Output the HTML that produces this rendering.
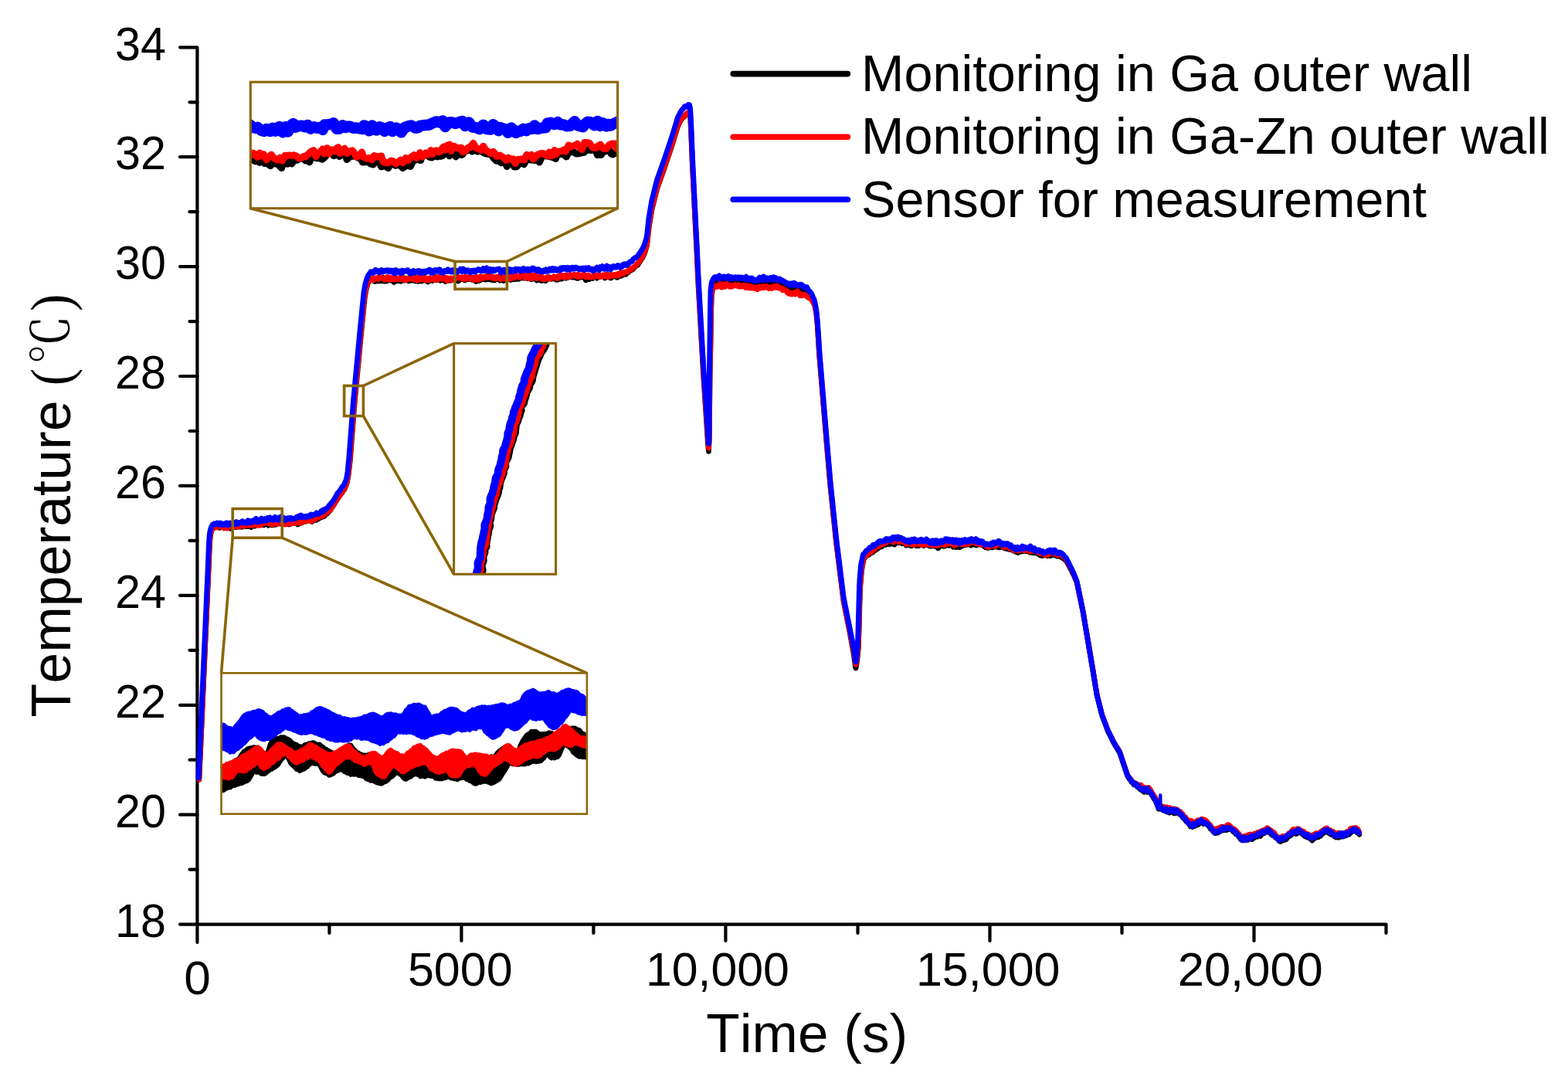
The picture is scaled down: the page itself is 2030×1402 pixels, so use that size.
<!DOCTYPE html>
<html lang="en">
<head>
<meta charset="utf-8">
<title>Temperature vs Time</title>
<style>
html,body{margin:0;padding:0;background:#fff;}
body{width:2030px;height:1402px;overflow:hidden;}
svg{display:block;}
text{font-family:"Liberation Sans","Noto Sans CJK SC",sans-serif;fill:#000;font-kerning:none;}
.s{font-family:"Liberation Serif","Noto Serif CJK SC",serif;}
.c path{fill:none;stroke-linejoin:round;stroke-linecap:round;}
</style>
</head>
<body>
<svg width="2030" height="1402" viewBox="0 0 2030 1402">
<rect width="2030" height="1402" fill="#fff"/>
<defs>
<clipPath id="ct"><rect x="325.3" y="107.2" width="473.3" height="161.5"/></clipPath>
<clipPath id="cb"><rect x="287.5" y="872.3" width="471.4" height="180.4"/></clipPath>
<clipPath id="cm"><rect x="588.6" y="445.6" width="130.0" height="296.7"/></clipPath>
</defs>
<g stroke="#000" stroke-width="4.2" fill="none" stroke-linecap="round" stroke-linejoin="round">
<path d="M233.0 61.3L255.4 61.3L255.4 1220.0"/>
<path d="M233.0 1196.6L1794.5 1196.6L1794.5 1208.0"/>
<line x1="245.5" y1="1125.6" x2="255.4" y2="1125.6"/>
<line x1="233" y1="1054.7" x2="255.4" y2="1054.7"/>
<line x1="245.5" y1="983.7" x2="255.4" y2="983.7"/>
<line x1="233" y1="912.8" x2="255.4" y2="912.8"/>
<line x1="245.5" y1="841.8" x2="255.4" y2="841.8"/>
<line x1="233" y1="770.9" x2="255.4" y2="770.9"/>
<line x1="245.5" y1="699.9" x2="255.4" y2="699.9"/>
<line x1="233" y1="628.9" x2="255.4" y2="628.9"/>
<line x1="245.5" y1="558.0" x2="255.4" y2="558.0"/>
<line x1="233" y1="487.0" x2="255.4" y2="487.0"/>
<line x1="245.5" y1="416.1" x2="255.4" y2="416.1"/>
<line x1="233" y1="345.1" x2="255.4" y2="345.1"/>
<line x1="245.5" y1="274.2" x2="255.4" y2="274.2"/>
<line x1="233" y1="203.2" x2="255.4" y2="203.2"/>
<line x1="245.5" y1="132.3" x2="255.4" y2="132.3"/>
<line x1="426.4" y1="1196.6" x2="426.4" y2="1208"/>
<line x1="597.4" y1="1196.6" x2="597.4" y2="1218"/>
<line x1="768.4" y1="1196.6" x2="768.4" y2="1208"/>
<line x1="939.4" y1="1196.6" x2="939.4" y2="1218"/>
<line x1="1110.5" y1="1196.6" x2="1110.5" y2="1208"/>
<line x1="1281.5" y1="1196.6" x2="1281.5" y2="1218"/>
<line x1="1452.5" y1="1196.6" x2="1452.5" y2="1208"/>
<line x1="1623.5" y1="1196.6" x2="1623.5" y2="1218"/>
</g>
<g font-size="62" text-anchor="end">
<text transform="translate(214.9,1212.8) scale(0.955,1)">18</text>
<text transform="translate(214.9,1070.9) scale(0.955,1)">20</text>
<text transform="translate(214.9,929.0) scale(0.955,1)">22</text>
<text transform="translate(214.9,787.1) scale(0.955,1)">24</text>
<text transform="translate(214.9,645.1) scale(0.955,1)">26</text>
<text transform="translate(214.9,503.2) scale(0.955,1)">28</text>
<text transform="translate(214.9,361.3) scale(0.955,1)">30</text>
<text transform="translate(214.9,219.4) scale(0.955,1)">32</text>
<text transform="translate(214.9,77.7) scale(0.955,1)">34</text>
</g>
<g font-size="62">
<text transform="translate(238.2,1286.6) scale(1.000,1)">0</text>
<text transform="translate(527.9,1275.5) scale(0.984,1)">5000</text>
<text transform="translate(835.9,1275.5) scale(0.981,1)">10,000</text>
<text transform="translate(1185.9,1275.5) scale(0.984,1)">15,000</text>
<text transform="translate(1524.7,1275.5) scale(0.992,1)">20,000</text>
</g>
<text x="914.3" y="1362" font-size="71.2">Time (s)</text>
<text transform="translate(90.6,928.4) rotate(-90)" font-size="71.6">Temperature <tspan class="s" x="429.2" y="0" font-size="74.3" textLength="22.4" lengthAdjust="spacingAndGlyphs">(</tspan><tspan class="s" x="456.6" y="-1.4" font-size="66.4" textLength="63.4" lengthAdjust="spacingAndGlyphs">℃</tspan><tspan class="s" x="525.3" y="0" font-size="74.3" textLength="22.4" lengthAdjust="spacingAndGlyphs">)</tspan></text>
<g class="c">
<path d="M257.9 1009L258.4 997.9L258.9 986.7L259.4 975.6L259.9 964.5L260.4 953.3L260.9 942.2L261.4 931.1L261.9 919.9L262.4 908.8L262.9 897.6L263.4 886.5L263.9 875.4L264.4 864.2L264.9 853.1L265.4 842L265.9 830.8L266.4 819.7L266.9 808.6L267.4 797.4L267.9 786.3L268.4 775.2L268.9 764L269.4 752.9L269.9 741L270.4 729.2L270.9 717.3L271.4 705.5L271.9 698.7L272.4 693.2L272.9 691.2L273.3 689.1L273.8 687L274.2 686.1L274.7 685.2L275.1 684.4L275.6 683.6L276 683.8L276.5 684L276.9 683.8L277.4 683.1L277.8 681.7L278.2 680.6L278.8 681.1L279.2 682.3L279.8 681.9L280.2 681.6L280.8 680.9L281.2 680.9L281.8 682.5L282.2 682.1L282.8 680.3L283.2 680.7L283.8 682.5L284.2 683.3L284.8 682.9L285.2 682L285.8 682L286.2 682.1L286.8 681.7L287.2 680.7L287.8 680.8L288.2 681.5L288.8 681.6L289.2 681.7L289.8 681.4L290.2 682.4L290.8 683.1L291.2 682.4L291.8 683.2L292.2 683.3L292.8 682.4L293.2 682.7L293.8 683.1L294.2 682.5L294.8 681.5L295.2 681.5L295.8 682.9L296.2 683.8L296.8 683.4L297.2 683.4L297.8 682.9L298.2 683L298.8 684.1L299.2 683.8L299.8 682.4L300.2 681.4L300.8 680.4L301.2 680.8L301.8 682.6L302.2 682.4L302.8 680.5L303.2 679.7L303.8 679.9L304.2 680.6L304.8 682L305.2 682.5L305.8 681.2L306.2 680.8L306.8 681.3L307.2 680.9L307.8 680.9L308.2 682.1L308.8 682.2L309.2 681.4L309.8 681.4L310.2 681.7L310.8 682.1L311.2 682L311.8 680.5L312.2 679.3L312.8 680.6L313.2 682.1L313.8 682.2L314.2 682.1L314.8 681.6L315.2 681.2L315.8 680.6L316.2 679L316.8 678.1L317.2 677.7L317.8 677.8L318.2 679.8L318.8 681.5L319.2 680.3L319.8 679.6L320.2 681.1L320.8 681.4L321.2 679.4L321.8 678.6L322.2 680.2L322.8 681.5L323.2 681.8L323.8 681.9L324.2 681.8L324.8 682.2L325.2 682.4L325.8 681.1L326.2 678.4L326.8 677.9L327.2 678.6L327.8 678.4L328.2 679L328.8 679.7L329.2 680.2L329.8 681.2L330.2 680.5L330.8 678L331.2 677.5L331.8 679.2L332.2 679.9L332.8 679.1L333.2 677.7L333.8 677.9L334.2 678.2L334.8 677.6L335.2 677.8L335.8 678.8L336.2 679.9L336.8 679.8L337.2 678.2L337.8 676.8L338.2 677.2L338.8 677.5L339.2 676.8L339.8 677.1L340.2 678.1L340.8 679.3L341.2 679.9L341.8 679.7L342.2 679.2L342.8 678.2L343.2 677.6L343.8 677.3L344.2 677.1L344.8 677.1L345.2 676.7L345.8 677.1L346.2 678.6L346.8 679.7L347.2 680.1L347.8 679.1L348.2 677L348.8 676.6L349.2 676.6L349.8 675.5L350.2 675.4L350.8 675.6L351.2 676.1L351.8 678.3L352.2 679.8L352.8 678.6L353.2 677.5L353.8 679L354.2 679.5L354.8 677.9L355.2 677.8L355.8 677.9L356.2 677.2L356.8 678.3L357.2 679.1L357.8 677.8L358.2 676.3L358.8 675.2L359.2 675.2L359.8 676.6L360.2 677.5L360.8 677.1L361.2 676.1L361.8 674.7L362.2 674.5L362.8 676.6L363.2 678L363.8 677.5L364.2 677.4L364.8 677.9L365.2 677.5L365.8 677.1L366.2 677.7L366.8 678.1L367.2 677.8L367.8 677.1L368.2 676.5L368.8 677.3L369.2 678.4L369.8 677.7L370.2 676.3L370.8 675.6L371.2 676.3L371.8 677.4L372.2 677.3L372.8 678L373.2 678.6L373.8 677.6L374.2 677.6L374.8 678.9L375.2 678.1L375.8 676.4L376.2 676.2L376.8 676.8L377.2 677.8L377.8 677.8L378.2 676.8L378.8 675.5L379.2 674.6L379.8 675.6L380.2 677.5L380.8 676.9L381.2 675.9L381.8 676.1L382.2 676.8L382.8 676.8L383.2 675.7L383.8 675.5L384.2 676.3L384.8 677.7L385.2 678.9L385.8 678.9L386.2 678.1L386.8 676.3L387.2 675.5L387.8 675.9L388.2 674.8L388.8 674.9L389.2 676.3L389.8 676L390.2 675.9L390.8 676.8L391.2 676.6L391.8 674.5L392.2 672.7L392.8 673L393.2 674.2L393.8 674.2L394.2 672.9L394.8 672.9L395.2 674.6L395.8 675.1L396.2 674L396.8 673.7L397.2 673.6L397.8 673.2L398.2 672.8L398.8 672.3L399.2 672.4L399.8 672.9L400.2 673.6L400.8 673.9L401.2 672.5L401.8 672.4L402.2 673.7L402.8 674.4L403.2 675.1L403.8 675.5L404.2 675.2L404.8 674L405.2 672.7L405.8 673L406.2 672.5L406.8 672L407.2 672.4L407.8 671.2L408.2 671L408.8 672.9L409.2 673.3L409.8 672.8L410.2 671.9L410.8 670.4L411.2 670.1L411.8 671.4L412.2 671.9L412.8 671L413.2 669.3L413.8 668.4L414.2 668.6L414.8 669.4L415.2 670.1L415.8 669.5L416.2 669L416.8 669.5L417.2 669.4L417.8 668.3L418.2 667.6L418.8 668.1L419.2 668.7L419.8 668.3L420.2 667.8L420.8 667.4L421.2 666.5L421.8 665.3L422.2 665.2L422.8 665.5L423.2 665.2L423.8 664.9L424.2 664.2L424.8 663.1L425.2 662.4L425.8 662L426.2 661.8L426.8 661.6L427.2 661L427.8 660.2L428.2 659.2L428.8 658.4L429.2 657.7L429.8 657L430.2 656.3L430.8 655.8L431.2 655L431.8 653.9L432.2 653.2L432.8 652.5L433.2 651.6L433.8 651L434.2 650.2L434.8 649.1L435.2 648.3L435.8 648L436.2 647.1L436.8 646L437.2 645.5L437.8 644.7L438.2 643.8L438.8 643.3L439.2 642.6L439.8 641.9L440.2 641.6L440.8 640.8L441.2 639.8L441.8 639.2L442.2 638.8L442.8 638.1L443.2 637.2L443.8 636.2L444.2 635.2L444.8 634.5L445.2 634.2L445.8 633.8L446.2 632.7L446.8 631.3L447.2 630.2L447.8 629.1L448.2 628L448.9 626.2L449.5 623.2L450.1 620.2L450.8 616.8L451.4 612L452 607.1L452.6 601.8L453.2 596.4L453.8 590L454.2 583.5L454.8 577L455.2 570.5L455.8 564.1L456.2 557.6L456.8 551.1L457.2 544.6L457.8 538.1L458.2 531.7L458.8 525.2L459.2 519.9L459.8 514.6L460.2 509.3L460.8 504L461.2 498.7L461.8 493.4L462.2 488.1L462.8 482.8L463.2 477.5L463.8 472.2L464.2 466.9L464.8 461.6L465.2 456.3L465.8 451L466.2 445.7L466.8 440.4L467.2 435.1L467.8 430L468.2 425L468.8 420L469.2 415L469.8 409.9L470.2 404.9L470.8 399.9L471.2 394.9L471.8 389.9L472.2 384.9L472.8 382.1L473.2 379.4L473.8 376.6L474.2 373.9L474.8 372.3L475.2 370.6L475.7 369L476.1 367.4L476.5 366.3L476.9 365.4L477.3 364.2L477.8 363.7L478.2 363.5L478.6 363.1L479 362.7L479.4 362.6L479.8 362.1L480.2 361.5L480.8 361.9L481.2 362.9L481.8 363L482.2 362.8L482.8 362.3L483.2 361.8L483.8 361L484.2 361.7L484.8 363.8L485.2 364.5L485.8 364.4L486.2 363.3L486.8 363L487.2 364L487.8 362.8L488.2 361.6L488.8 362.1L489.2 361.8L489.8 362.2L490.2 363.9L490.8 363.6L491.2 361.9L491.8 361.2L492.2 361.5L492.8 362.8L493.2 363.2L493.8 362.9L494.2 363.8L494.8 363.2L495.2 360.5L495.8 359.1L496.2 359.6L496.8 361.5L497.2 363.6L497.8 364.1L498.2 363.7L498.8 362.3L499.2 361.8L499.8 363.4L500.2 363.9L500.8 363.3L501.2 363.6L501.8 363.3L502.2 361.8L502.8 361L503.2 360.4L503.8 360.7L504.2 362.3L504.8 362.8L505.2 362.3L505.8 361.2L506.2 360L506.8 360.7L507.2 363.4L507.8 363.6L508.2 361.3L508.8 360.2L509.2 361.5L509.8 363.9L510.2 365.4L510.8 364.6L511.2 363.3L511.8 364.1L512.2 364.1L512.8 362L513.2 361.4L513.8 362.1L514.2 362.1L514.8 361.9L515.2 362.6L515.8 363.5L516.2 363.2L516.8 363.5L517.2 363.5L517.8 363L518.2 363.5L518.8 364.3L519.2 364.1L519.8 362.9L520.2 362L520.8 362L521.2 362.1L521.8 362.9L522.2 362.2L522.8 361.5L523.2 363L523.8 362.7L524.2 361.1L524.8 360.2L525.2 360.1L525.8 361L526.2 362.2L526.8 362.3L527.2 360.9L527.8 360.6L528.2 362.5L528.8 363.8L529.2 363.1L529.8 361.7L530.2 361.5L530.8 362.5L531.2 361.9L531.8 361.9L532.2 363.2L532.8 362.5L533.2 361.2L533.8 361.8L534.2 362.5L534.8 361L535.2 359.9L535.8 361.4L536.2 363.3L536.8 363.6L537.2 362.9L537.8 362.1L538.2 362.5L538.8 363.3L539.2 363.9L539.8 363.9L540.2 362.7L540.8 362.7L541.2 364.4L541.8 364.3L542.2 363L542.8 363.4L543.2 363L543.8 362.3L544.2 363.3L544.8 363.4L545.2 362.8L545.8 364L546.2 363.6L546.8 361.9L547.2 362.6L547.8 363.1L548.2 362L548.8 361.8L549.2 362.5L549.8 361.7L550.2 361.1L550.8 362.1L551.2 363.3L551.8 363.3L552.2 362.7L552.8 363.4L553.2 364.4L553.8 364.6L554.2 364.9L554.8 364.2L555.2 362L555.8 361L556.2 361.4L556.8 361.6L557.2 361.4L557.8 361.5L558.2 363.1L558.8 363.1L559.2 361.4L559.8 362.1L560.2 363.5L560.8 363.1L561.2 362.4L561.8 362.2L562.2 362L562.8 361.7L563.2 360L563.8 358.6L564.2 360L564.8 362.4L565.2 362.6L565.8 361.1L566.2 360.3L566.8 360.8L567.2 360.9L567.8 359.5L568.2 358.8L568.8 359.3L569.2 360.1L569.8 361.6L570.2 363.2L570.8 362.8L571.2 360.8L571.8 360.6L572.2 361.8L572.8 362.3L573.2 361.2L573.8 360.1L574.2 360.1L574.8 359.5L575.2 359.2L575.8 360.8L576.2 363.4L576.8 364.5L577.2 363.8L577.8 362.3L578.2 361.1L578.8 361.9L579.2 363.6L579.8 363.3L580.2 362.5L580.8 362.4L581.2 361.7L581.8 361.1L582.2 361.3L582.8 362.3L583.2 363.2L583.8 363L584.2 362.6L584.8 362.9L585.2 362.5L585.8 361.4L586.2 361.1L586.8 360.4L587.2 360L587.8 360.9L588.2 362L588.8 361.8L589.2 361.6L589.8 362.6L590.2 361.9L590.8 360.5L591.2 361.3L591.8 362.5L592.2 363.3L592.8 363.9L593.2 364L593.8 363.8L594.2 363.2L594.8 362.2L595.2 360.7L595.8 359.5L596.2 360.2L596.8 360.9L597.2 359.7L597.8 359.8L598.2 361.2L598.8 361.1L599.2 361.3L599.8 361.3L600.2 360.2L600.8 360.9L601.2 362.9L601.8 363L602.2 362.2L602.8 361.6L603.2 360.2L603.8 360.4L604.2 361.2L604.8 359.9L605.2 360.1L605.8 361.5L606.2 361.1L606.8 360.2L607.2 359.7L607.8 359.5L608.2 360.3L608.8 361.4L609.2 361.5L609.8 360.8L610.2 360.1L610.8 361L611.2 362.2L611.8 361.9L612.2 361.6L612.8 360.8L613.2 360.3L613.8 360.6L614.2 361.9L614.8 363.1L615.2 363.4L615.8 364.2L616.2 364.4L616.8 362.8L617.2 361.6L617.8 363.4L618.2 363.5L618.8 361.9L619.2 362.9L619.8 363.5L620.2 361.4L620.8 360.7L621.2 362.2L621.8 362.7L622.2 361.7L622.8 360.7L623.2 360.9L623.8 361.2L624.2 360.3L624.8 358.8L625.2 359L625.8 360.6L626.2 361.2L626.8 361.7L627.2 361.4L627.8 360.2L628.2 360.8L628.8 361.9L629.2 361L629.8 359L630.2 358.3L630.8 359.7L631.2 360.4L631.8 359.8L632.2 360.7L632.8 361.7L633.2 361.3L633.8 360.3L634.2 359.8L634.8 360.5L635.2 360.8L635.8 361.9L636.2 362.4L636.8 360.7L637.2 358.6L637.8 359.2L638.2 361.7L638.8 362.8L639.2 361.8L639.8 361.3L640.2 362.5L640.8 362.7L641.2 362.1L641.8 361.7L642.2 360.4L642.8 359.7L643.2 359.6L643.8 359.2L644.2 358.9L644.8 359.7L645.2 361.8L645.8 361.7L646.2 361L646.8 362.7L647.2 363.2L647.8 362L648.2 361L648.8 361L649.2 361.9L649.8 362.5L650.2 362.3L650.8 362.1L651.2 363.2L651.8 363.5L652.2 362.5L652.8 362.7L653.2 362.8L653.8 362L654.2 362.1L654.8 362.2L655.2 361.9L655.8 362.4L656.2 362.5L656.8 361.9L657.2 361.8L657.8 361.9L658.2 361.1L658.8 359.8L659.2 359.5L659.8 360.1L660.2 360.5L660.8 361.5L661.2 362.4L661.8 361.8L662.2 361.4L662.8 360.8L663.2 359L663.8 359L664.2 361L664.8 361.6L665.2 361.1L665.8 359.8L666.2 358.8L666.8 358.9L667.2 359.4L667.8 360.9L668.2 361.3L668.8 360.4L669.2 360.2L669.8 361L670.2 361.1L670.8 360.6L671.2 360.9L671.8 361.3L672.2 360.8L672.8 360.3L673.2 360L673.8 358.9L674.2 357.7L674.8 358L675.2 358L675.8 357.1L676.2 356.7L676.8 358.4L677.2 360.1L677.8 359.9L678.2 359.6L678.8 358.7L679.2 358.2L679.8 359.7L680.2 359.6L680.8 358.1L681.2 357L681.8 356.8L682.2 357.5L682.8 359.2L683.2 360.6L683.8 359.6L684.2 357.4L684.8 356.4L685.2 356.8L685.8 357.5L686.2 358.8L686.8 360.4L687.2 361.3L687.8 361.5L688.2 361.4L688.8 361.4L689.2 361.3L689.8 360.3L690.2 359.2L690.8 359L691.2 358.8L691.8 358.8L692.2 359.1L692.8 358.6L693.2 358.5L693.8 360.2L694.2 362.2L694.8 363L695.2 362L695.8 361.7L696.2 361.7L696.8 361.4L697.2 362.5L697.8 362L698.2 360L698.8 360.2L699.2 360.7L699.8 360L700.2 360.6L700.8 362.4L701.2 363.4L701.8 363.2L702.2 362L702.8 361L703.2 360.3L703.8 360.5L704.2 362.2L704.8 363L705.2 362.9L705.8 363.6L706.2 363.7L706.8 362.2L707.2 360.4L707.8 359.9L708.2 359.5L708.8 360L709.2 361.4L709.8 360.2L710.2 358.6L710.8 359.2L711.2 359.8L711.8 359.3L712.2 358.9L712.8 359.3L713.2 360.7L713.8 361.2L714.2 359.6L714.8 359.4L715.2 360.4L715.8 360.3L716.2 360.5L716.8 360.8L717.2 360.2L717.8 360.6L718.2 361L718.8 360L719.2 360.9L719.8 362.1L720.2 360.8L720.8 359.3L721.2 360L721.8 361.6L722.2 362.2L722.8 361.8L723.2 361L723.8 360.2L724.2 360L724.8 360.5L725.2 360.5L725.8 358.8L726.2 358.3L726.8 360.3L727.2 361.2L727.8 360.5L728.2 360.7L728.8 359.9L729.2 357.4L729.8 356.9L730.2 357.5L730.8 357.1L731.2 357.4L731.8 358.6L732.2 359.7L732.8 360.2L733.2 359.8L733.8 359.4L734.2 359.2L734.8 358.3L735.2 358.2L735.8 359.1L736.2 358.8L736.8 358L737.2 357.5L737.8 357.5L738.2 358.6L738.8 358.4L739.2 356.9L739.8 356.7L740.2 357.8L740.8 359.1L741.2 359.1L741.8 358.2L742.2 357.9L742.8 358L743.2 356.9L743.8 356.5L744.2 357.4L744.8 358.1L745.2 359.7L745.8 359.8L746.2 358.7L746.8 359.2L747.2 360.2L747.8 360.4L748.2 360.3L748.8 359.4L749.2 358L749.8 358.3L750.2 359.3L750.8 358.6L751.2 357.8L751.8 358.3L752.2 359.1L752.8 359.1L753.2 358.8L753.8 358.9L754.2 357.9L754.8 356.9L755.2 357L755.8 357.8L756.2 359.2L756.8 358.5L757.2 358.5L757.8 361.2L758.2 362.8L758.8 362.8L759.2 362.1L759.8 360L760.2 359.5L760.8 359.9L761.2 358.8L761.8 358.7L762.2 360.4L762.8 361.5L763.2 361.2L763.8 360.2L764.2 359.4L764.8 358.9L765.2 359.6L765.8 359.9L766.2 360.2L766.8 360.5L767.2 359.9L767.8 358.9L768.2 357.4L768.8 357L769.2 357.1L769.8 356.5L770.2 357.5L770.8 359L771.2 357.9L771.8 357.3L772.2 358.9L772.8 360.2L773.2 359.7L773.8 357.2L774.2 356.2L774.8 356.8L775.2 357.9L775.8 358.5L776.2 358L776.8 358.1L777.2 358L777.8 356.9L778.2 356.6L778.8 356.5L779.2 356.4L779.8 357L780.2 356.9L780.8 356.2L781.2 356.3L781.8 356.1L782.2 356.7L782.8 358.9L783.2 359.9L783.8 359.6L784.2 358L784.8 357.1L785.2 357.7L785.8 357.9L786.2 357.7L786.8 356.8L787.2 355.7L787.8 356.3L788.2 358.5L788.8 359L789.2 357.8L789.8 359L790.2 359.7L790.8 359.2L791.2 359.9L791.8 359.3L792.2 358.5L792.8 358.4L793.2 357L793.8 356.2L794.2 357.1L794.8 358L795.2 357.4L795.8 356.4L796.2 356.5L796.8 356.9L797.2 357.7L797.8 358.3L798.2 358.5L798.8 359.2L799.2 359.3L799.8 358L800.2 357.4L800.8 357L801.2 355.4L801.8 355.1L802.2 355.8L802.8 356.7L803.2 357.5L803.8 357.2L804.2 356.9L804.8 356.6L805.2 356L805.8 356.2L806.2 356.1L806.8 355.6L807.2 354.8L807.8 353.7L808.2 353.6L808.8 353.7L809.2 354.4L809.8 355.2L810.2 355.3L810.8 353.9L811.2 352.5L811.8 352.9L812.2 353L812.8 352.5L813.2 352.7L813.8 352L814.2 351L814.8 351.1L815.2 350.8L815.8 349.9L816.2 349.7L816.8 349.5L817.2 349.7L817.8 349.6L818.2 349.1L818.8 349L819.2 348.9L819.8 348.1L820.2 347.2L820.8 346.4L821.2 346.1L821.8 346L822.2 345.2L822.8 344.5L823.2 344.2L823.8 343.9L824.2 343.8L824.8 343.6L825.2 343.3L825.8 343.1L826.2 342.2L826.8 341L827.2 340.3L827.8 339.7L828.2 339L828.8 338.1L829.2 337.4L829.8 336.6L830.2 335.6L830.8 335L831.2 334.5L831.8 333.7L832.2 332.6L832.8 331.6L833.2 330.6L833.8 329.6L834.2 328.4L834.8 327.3L835.2 325.7L835.8 323.9L836.2 322.2L836.8 320.5L837.2 318.8L837.8 316.5L838.2 311.7L838.8 306.9L839.2 302.1L839.8 297.3L840.2 293.2L840.8 290.2L841.2 287.3L841.8 284.3L842.2 281.4L842.8 278.4L843.2 275.4L843.8 272.4L844.2 270.1L844.8 268.1L845.2 266L845.8 264L846.2 262L846.8 260L847.2 258L847.8 255.9L848.2 253.9L848.8 251.9L849.2 250L849.8 248L850.2 246.1L850.8 244.2L851.2 242.7L851.8 241.2L852.2 239.8L852.8 238.4L853.2 237.1L853.8 235.7L854.2 234.2L854.8 232.7L855.2 231.3L855.8 229.9L856.2 228.6L856.8 227.2L857.2 225.6L857.8 224.3L858.2 223L858.8 221.7L859.2 220.2L859.8 218.7L860.2 217.3L860.8 215.8L861.2 214.3L861.8 212.8L862.2 211.3L862.8 209.8L863.2 208.3L863.8 206.9L864.2 205.5L864.8 203.9L865.2 202.3L865.8 200.9L866.2 199.4L866.8 197.9L867.2 196.4L867.8 194.9L868.2 193.5L868.8 192.1L869.2 190.6L869.8 189L870.2 187.5L870.8 185.9L871.2 184.3L871.8 182.6L872.2 180.9L872.8 179.2L873.2 177.6L873.8 176L874.2 174.4L874.8 172.8L875.2 171.3L875.8 169.6L876.2 167.9L876.8 166.2L877.2 164.6L877.8 163.1L878.2 162.1L878.8 161L879.2 160L879.8 159L880.2 157.8L880.8 156.6L881.2 156L881.8 155.5L882.2 154.7L882.8 153.7L883.2 153L883.8 152.3L884.2 151.6L884.8 150.9L885.2 150.8L885.8 151.3L886.2 150.8L886.8 149.5L887.2 148.5L887.8 148.1L888.2 148.2L888.8 148.1L889.2 148L889.8 147.2L890.2 145.9L890.8 145.7L891.2 147L891.8 147.4L892.2 147L892.6 146.2L893 147.2L893.5 148.7L893.9 155L894.2 162.6L894.8 172.8L895.2 184.8L895.8 196.8L896.2 209.5L896.8 220.1L897.2 230.2L897.8 240.2L898.2 250.3L898.8 260.3L899.2 270.4L899.8 280.4L900.2 290.4L900.8 300.4L901.2 310.4L901.8 320.4L902.2 330.5L902.8 341.2L903.2 351.9L903.8 362.6L904.2 372.1L904.8 380.9L905.2 389.8L905.8 398.6L906.2 407.4L906.8 416.2L907.2 425L907.8 433.8L908.2 442.6L908.8 451.4L909.2 460.2L909.8 469L910.2 477.8L910.8 486.1L911.2 493.7L911.8 501.3L912.2 508.9L912.8 516.5L913.2 524.1L913.8 531.6L914.2 539.2L914.8 546.8L915.2 554.8L915.8 562.7L916.2 570.6L916.9 578.6L917.5 584.3L918.2 569L919.1 483.5L920 444.8L920.6 406L921.2 381.7L921.9 377.7L922.5 373.7L922.8 370.9L923.2 369.6L923.5 368.3L923.9 367.1L924.2 366.3L924.6 365.8L924.9 366L925.2 365.8L925.8 365.6L926.2 365.3L926.8 364.7L927.2 365.5L927.8 366.8L928.2 365.7L928.8 363.4L929.2 362.3L929.8 362.9L930.2 363.7L930.8 362.8L931.2 362.3L931.8 362.7L932.2 363.4L932.8 364.3L933.2 363.7L933.8 363.8L934.2 365.4L934.8 365L935.2 363.4L935.8 363.4L936.2 364.4L936.8 364.4L937.2 364.1L937.8 365.3L938.2 365.1L938.8 362.9L939.2 362L939.8 362.4L940.2 363.5L940.8 364.9L941.2 365.9L941.8 365.2L942.2 364.7L942.8 365.3L943.2 365.3L943.8 365.8L944.2 365.2L944.8 364.4L945.2 365.1L945.8 365.1L946.2 365.2L946.8 365L947.2 364.9L947.8 364.9L948.2 363.8L948.8 364.4L949.2 366L949.8 365.2L950.2 364.3L950.8 365.6L951.2 365.6L951.8 364.4L952.2 365.2L952.8 365.6L953.2 365.8L953.8 365.8L954.2 365.2L954.8 365.1L955.2 363.8L955.8 363.3L956.2 364.5L956.8 365.3L957.2 366.2L957.8 367L958.2 366.7L958.8 366L959.2 365L959.8 364.6L960.2 365.5L960.8 365.9L961.2 366.1L961.8 364.9L962.2 363.8L962.8 364.9L963.2 366L963.8 367.1L964.2 366.7L964.8 365.4L965.2 366.5L965.8 367.2L966.2 365.9L966.8 365.3L967.2 365.2L967.8 365.1L968.2 365.4L968.8 366.5L969.2 367.6L969.8 367.3L970.2 366.5L970.8 366.4L971.2 365.9L971.8 365.2L972.2 365.6L972.8 366.9L973.2 366.9L973.8 366.6L974.2 366.6L974.8 366.4L975.2 366.7L975.8 366.9L976.2 367L976.8 366.7L977.2 367.5L977.8 368.8L978.2 368.1L978.8 366.8L979.2 366.2L979.8 366.3L980.2 366.2L980.8 366.2L981.2 367.1L981.8 367.3L982.2 367.1L982.8 367.5L983.2 368.2L983.8 367.5L984.2 366.7L984.8 367.9L985.2 368L985.8 367.4L986.2 367.8L986.8 366.7L987.2 365.2L987.8 365.7L988.2 366.9L988.8 367.4L989.2 366.7L989.8 365.6L990.2 365.4L990.8 365.9L991.2 366.9L991.8 366.9L992.2 366.1L992.8 366.4L993.2 367.5L993.8 366.9L994.2 365.1L994.8 365.7L995.2 367L995.8 366.3L996.2 366L996.8 366.2L997.2 365.4L997.8 364.3L998.2 363.6L998.8 363.5L999.2 364.6L999.8 365.8L1000.2 365.7L1000.8 365.7L1001.2 366.7L1001.8 367.5L1002.2 367.4L1002.8 366.8L1003.2 366.5L1003.8 365.9L1004.2 364.8L1004.8 365.8L1005.2 367.9L1005.8 367.2L1006.2 365L1006.8 364.3L1007.2 365.1L1007.8 367.4L1008.2 368.5L1008.8 367.5L1009.2 366.4L1009.8 365.8L1010.2 366L1010.8 366.6L1011.2 367.1L1011.8 367.6L1012.2 368.8L1012.8 370.2L1013.2 369.9L1013.8 369L1014.2 369.6L1014.8 370L1015.2 370.2L1015.8 371.5L1016.2 371.6L1016.8 370.6L1017.2 370.1L1017.8 370.6L1018.2 371.7L1018.8 372.2L1019.2 372.8L1019.8 373.1L1020.2 372.9L1020.8 373.8L1021.2 374.8L1021.8 375.4L1022.2 375.8L1022.8 375.3L1023.2 375L1023.8 374.5L1024.2 373.4L1024.8 373.4L1025.2 373.6L1025.8 374.5L1026.2 375L1026.8 373.7L1027.2 372.1L1027.8 371.4L1028.2 371.1L1028.8 371.6L1029.2 372.4L1029.8 372.4L1030.2 373L1030.8 373.2L1031.2 372.3L1031.8 372.2L1032.2 372.3L1032.8 372.6L1033.2 373.8L1033.8 374.5L1034.2 374.6L1034.8 374.6L1035.2 375.2L1035.8 376.4L1036.2 376L1036.8 375.3L1037.2 375.8L1037.8 375.3L1038.2 374.7L1038.8 376.1L1039.2 376.5L1039.8 376.3L1040.2 377.3L1040.8 378.1L1041.2 377.8L1041.8 377.8L1042.2 377.8L1042.8 377.1L1043.2 376.8L1043.8 377.5L1044.2 378.3L1044.8 378.4L1045.2 378.6L1045.8 379.1L1046.2 379.3L1046.8 379.7L1047.2 380.6L1047.8 381.6L1048.2 382.1L1048.8 382.4L1049.2 383.1L1049.8 384L1050.2 384.6L1050.8 385L1051.2 385.9L1051.8 387.1L1052.2 388.3L1052.8 389.5L1053.2 390.8L1053.8 392L1054.2 393.1L1054.8 394.3L1055.2 396.8L1055.8 399.4L1056.2 401.9L1056.7 404.4L1057.1 407.9L1057.6 412.7L1058 417.5L1058.4 422.8L1058.9 430L1059.3 437.2L1059.8 444.4L1060.2 452.3L1060.8 460.2L1061.2 466.1L1061.8 472.1L1062.2 478.1L1062.8 484.2L1063.2 490.2L1063.8 496.3L1064.2 502.3L1064.8 508.3L1065.2 514.4L1065.8 520.4L1066.2 526.4L1066.8 532.4L1067.2 538.4L1067.8 544.5L1068.2 550.5L1068.8 556.5L1069.2 562.5L1069.8 568.5L1070.2 574.5L1070.8 580.3L1071.2 586.1L1071.8 591.9L1072.2 597.7L1072.8 603.5L1073.2 609.3L1073.8 615.1L1074.2 620.9L1074.8 626.7L1075.2 631.9L1075.8 636.7L1076.2 641.5L1076.8 646.3L1077.2 651.1L1077.8 655.9L1078.2 660.7L1078.8 665.5L1079.2 670.3L1079.8 675.1L1080.2 679.9L1080.8 684.7L1081.2 689.5L1081.8 694.3L1082.2 699.1L1082.8 703.4L1083.2 707.4L1083.8 711.4L1084.2 715.4L1084.8 719.4L1085.2 723.5L1085.8 727.5L1086.2 731.5L1086.8 735.5L1087.2 739.5L1087.8 743.5L1088.2 747.5L1088.8 751.5L1089.2 755.5L1089.8 759.5L1090.2 763.6L1090.8 767.6L1091.2 771.6L1091.8 775.6L1092.2 779L1092.8 781.5L1093.2 784L1093.8 786.5L1094.2 789L1094.8 791.5L1095.2 794L1095.8 796.5L1096.2 799L1096.8 801.5L1097.2 804L1097.8 806.5L1098.2 809L1098.8 811.5L1099.2 814L1099.8 816.5L1100.2 819.3L1100.8 822.1L1101.2 824.8L1101.8 827.6L1102.2 830.3L1102.8 833.1L1103.2 835.8L1103.8 838.6L1104.2 841.3L1104.8 844.1L1105.2 846.8L1105.8 850.2L1106.3 854.5L1106.9 858.7L1107.4 863L1108 864.8L1108.8 860.2L1109.6 855.3L1110.2 850L1110.7 844.7L1111.3 839.4L1111.8 822.7L1112.4 803.3L1112.9 783.8L1113.5 764.6L1114 755.9L1114.6 749.9L1115.1 743.8L1115.6 737.8L1116 735.5L1116.4 733.2L1116.8 731L1117.3 728.7L1117.7 726.5L1118.1 724.4L1118.5 723.7L1119 723.1L1119.4 722.6L1119.8 721.8L1120.2 720.7L1120.8 719.9L1121.2 719.4L1121.8 719.2L1122.2 719.3L1122.8 718.9L1123.2 718.6L1123.8 718.5L1124.2 718.2L1124.8 718.4L1125.2 718L1125.8 717L1126.2 716.7L1126.8 716.5L1127.2 715.9L1127.8 714.8L1128.2 714.3L1128.8 714.6L1129.2 715.2L1129.8 715.3L1130.2 714.1L1130.8 712.4L1131.2 711.4L1131.8 711.2L1132.2 711.7L1132.8 712.6L1133.2 712.3L1133.8 711.3L1134.2 711.3L1134.8 711.4L1135.2 710.5L1135.8 709L1136.2 708.4L1136.8 709.1L1137.2 709.6L1137.8 708.6L1138.2 707.2L1138.8 707.4L1139.2 708.1L1139.8 707.5L1140.2 706.8L1140.8 707.8L1141.2 707.9L1141.8 705.9L1142.2 705.2L1142.8 705.7L1143.2 705.5L1143.8 704.6L1144.2 703.7L1144.8 703.1L1145.2 703.4L1145.8 704.8L1146.2 705.4L1146.8 703.7L1147.2 703.1L1147.8 704L1148.2 704.7L1148.8 704L1149.2 702.5L1149.8 702.3L1150.2 703L1150.8 703.6L1151.2 704.1L1151.8 704.6L1152.2 703.9L1152.8 702.4L1153.2 702.6L1153.8 703L1154.2 701.9L1154.8 700.8L1155.2 701.6L1155.8 704.2L1156.2 704.1L1156.8 701L1157.2 700.8L1157.8 703.5L1158.2 704.9L1158.8 703.8L1159.2 702.7L1159.8 702.2L1160.2 701.3L1160.8 700.5L1161.2 699.9L1161.8 699.7L1162.2 700.7L1162.8 702.4L1163.2 702.8L1163.8 702.4L1164.2 701.4L1164.8 699.9L1165.2 699.4L1165.8 700L1166.2 701L1166.8 701.9L1167.2 703.1L1167.8 703.7L1168.2 702.6L1168.8 701.9L1169.2 701.7L1169.8 702.6L1170.2 703.6L1170.8 702.4L1171.2 701.5L1171.8 702.4L1172.2 703.9L1172.8 705L1173.2 706.1L1173.8 705.8L1174.2 704.8L1174.8 705L1175.2 704.7L1175.8 703.6L1176.2 704.2L1176.8 705.5L1177.2 704.8L1177.8 704.6L1178.2 705.9L1178.8 706.3L1179.2 706L1179.8 706.1L1180.2 706.7L1180.8 706.1L1181.2 705L1181.8 704.3L1182.2 703.5L1182.8 703.1L1183.2 703.4L1183.8 703.6L1184.2 703.7L1184.8 705.2L1185.2 706.2L1185.8 705.5L1186.2 705.3L1186.8 706.2L1187.2 706.6L1187.8 705.9L1188.2 704.4L1188.8 704.3L1189.2 706L1189.8 706.4L1190.2 705.7L1190.8 704.7L1191.2 703.4L1191.8 703.4L1192.2 704.2L1192.8 704.4L1193.2 703.9L1193.8 703.4L1194.2 703.8L1194.8 704.4L1195.2 705.5L1195.8 706.5L1196.2 705.8L1196.8 704.7L1197.2 704.9L1197.8 705L1198.2 704.7L1198.8 705.1L1199.2 705.4L1199.8 705.4L1200.2 705.3L1200.8 704.6L1201.2 704L1201.8 704.9L1202.2 706.2L1202.8 706L1203.2 706.1L1203.8 706.8L1204.2 706.1L1204.8 706.1L1205.2 707.1L1205.8 706.3L1206.2 705L1206.8 704.7L1207.2 705L1207.8 705.9L1208.2 706.6L1208.8 706.6L1209.2 706.2L1209.8 706.4L1210.2 707.3L1210.8 707.3L1211.2 706.5L1211.8 706.6L1212.2 707L1212.8 706.7L1213.2 707L1213.8 708.6L1214.2 709.7L1214.8 709.6L1215.2 709L1215.8 707.6L1216.2 705.7L1216.8 704.2L1217.2 703.8L1217.8 704.1L1218.2 704.2L1218.8 704.9L1219.2 706.1L1219.8 705.7L1220.2 705.7L1220.8 706.9L1221.2 706.3L1221.8 704.7L1222.2 705.2L1222.8 707.1L1223.2 706.9L1223.8 705.2L1224.2 706L1224.8 706.3L1225.2 704.4L1225.8 703.3L1226.2 703.3L1226.8 703.7L1227.2 704.7L1227.8 706.1L1228.2 706.3L1228.8 706.3L1229.2 706.2L1229.8 704.8L1230.2 703L1230.8 702.9L1231.2 703.5L1231.8 703.2L1232.2 702.9L1232.8 703.8L1233.2 705.9L1233.8 707.7L1234.2 708.1L1234.8 707.5L1235.2 706.2L1235.8 706L1236.2 706.8L1236.8 706.7L1237.2 707.2L1237.8 708.4L1238.2 708.6L1238.8 707.6L1239.2 706.2L1239.8 705.4L1240.2 706.1L1240.8 706.7L1241.2 706.5L1241.8 707.5L1242.2 708.6L1242.8 708.5L1243.2 707.9L1243.8 706.4L1244.2 705.9L1244.8 707.2L1245.2 706.6L1245.8 704.2L1246.2 704.2L1246.8 706L1247.2 706.2L1247.8 705.6L1248.2 705L1248.8 703.7L1249.2 703.3L1249.8 703.7L1250.2 704.6L1250.8 705.5L1251.2 705.1L1251.8 704.6L1252.2 704.6L1252.8 705L1253.2 704.2L1253.8 702.6L1254.2 703.1L1254.8 704L1255.2 703L1255.8 701.6L1256.2 702.5L1256.8 705L1257.2 706L1257.8 705.3L1258.2 703.5L1258.8 702.4L1259.2 704.1L1259.8 704.7L1260.2 703L1260.8 702.2L1261.2 702.4L1261.8 703.7L1262.2 705.5L1262.8 705.5L1263.2 704.9L1263.8 705.9L1264.2 706L1264.8 703.7L1265.2 701.9L1265.8 701.8L1266.2 702.4L1266.8 703.7L1267.2 705.1L1267.8 705.2L1268.2 704.4L1268.8 704.2L1269.2 704.9L1269.8 704.8L1270.2 703.6L1270.8 703.4L1271.2 703.9L1271.8 705L1272.2 706.2L1272.8 706.6L1273.2 706.6L1273.8 706.3L1274.2 706.2L1274.8 706.4L1275.2 707.7L1275.8 708.7L1276.2 707.4L1276.8 706.9L1277.2 707.7L1277.8 707.6L1278.2 708.5L1278.8 709.4L1279.2 708.7L1279.8 708.1L1280.2 708.3L1280.8 708.9L1281.2 708.3L1281.8 707.5L1282.2 707.4L1282.8 707.2L1283.2 708L1283.8 708L1284.2 707.8L1284.8 708.8L1285.2 708.8L1285.8 707.4L1286.2 707.1L1286.8 707.3L1287.2 707.2L1287.8 707.2L1288.2 706.1L1288.8 705.4L1289.2 706.9L1289.8 708L1290.2 707.1L1290.8 705.2L1291.2 704.5L1291.8 706.2L1292.2 707.9L1292.8 708.1L1293.2 708.9L1293.8 708.9L1294.2 707L1294.8 705.9L1295.2 705.5L1295.8 705.7L1296.2 707.3L1296.8 708.2L1297.2 708.3L1297.8 708L1298.2 706.5L1298.8 705.9L1299.2 707.3L1299.8 709.3L1300.2 709.6L1300.8 708.3L1301.2 708.7L1301.8 710L1302.2 709.1L1302.8 707.8L1303.2 709L1303.8 710.5L1304.2 709.7L1304.8 708.6L1305.2 708.6L1305.8 708.7L1306.2 709.8L1306.8 711.3L1307.2 710.7L1307.8 709.6L1308.2 710.1L1308.8 710.2L1309.2 709.9L1309.8 710.8L1310.2 711.9L1310.8 712L1311.2 712.5L1311.8 712.9L1312.2 712.8L1312.8 713L1313.2 712.7L1313.8 713.6L1314.2 714.1L1314.8 713.3L1315.2 713.1L1315.8 713.6L1316.2 713.7L1316.8 713L1317.2 714L1317.8 715.5L1318.2 715.3L1318.8 714.3L1319.2 713L1319.8 712.2L1320.2 712.8L1320.8 714.5L1321.2 714.4L1321.8 713.1L1322.2 712.9L1322.8 713.2L1323.2 713.6L1323.8 712.6L1324.2 712.4L1324.8 713.4L1325.2 712.6L1325.8 711.8L1326.2 712.5L1326.8 713.5L1327.2 712.6L1327.8 710.7L1328.2 711.3L1328.8 713.6L1329.2 713.7L1329.8 712.3L1330.2 712L1330.8 711.5L1331.2 710.7L1331.8 710.8L1332.2 711.5L1332.8 713.6L1333.2 715.3L1333.8 714.8L1334.2 714.1L1334.8 714L1335.2 713.6L1335.8 714.6L1336.2 715.5L1336.8 714.6L1337.2 714.8L1337.8 715.8L1338.2 715.7L1338.8 714.4L1339.2 713L1339.8 713.4L1340.2 715.4L1340.8 716L1341.2 714.4L1341.8 713.9L1342.2 715.3L1342.8 716.1L1343.2 715L1343.8 715.2L1344.2 716.9L1344.8 717.5L1345.2 716.9L1345.8 717.6L1346.2 718.7L1346.8 719L1347.2 718.5L1347.8 717.7L1348.2 717.9L1348.8 718.7L1349.2 719.6L1349.8 719.6L1350.2 718.5L1350.8 718.2L1351.2 718.4L1351.8 718.3L1352.2 717.8L1352.8 717.5L1353.2 717.7L1353.8 718.2L1354.2 718.8L1354.8 719.1L1355.2 718.7L1355.8 719.2L1356.2 719.7L1356.8 719.1L1357.2 719L1357.8 718.3L1358.2 716.9L1358.8 717.5L1359.2 719L1359.8 719.6L1360.2 719.5L1360.8 718.4L1361.2 718.2L1361.8 718.4L1362.2 717.4L1362.8 717.7L1363.2 718.4L1363.8 716.8L1364.2 715.7L1364.8 715.8L1365.2 715.8L1365.8 716.6L1366.2 718.3L1366.8 719.2L1367.2 718.5L1367.8 718.1L1368.2 719.2L1368.8 720L1369.2 719.7L1369.8 719.5L1370.2 719.1L1370.8 719L1371.2 720.1L1371.8 720.1L1372.2 719.4L1372.8 719.8L1373.2 719.6L1373.8 720L1374.2 721.6L1374.8 722L1375.2 722L1375.8 722.5L1376.2 722.4L1376.8 722.3L1377.2 723.4L1377.8 724L1378.2 723.6L1378.8 724.1L1379.2 724.7L1379.8 724.8L1380.2 725.5L1380.8 726.6L1381.2 727.7L1381.8 728.6L1382.2 729.3L1382.8 730.2L1383.2 731.2L1383.8 732L1384.2 733L1384.8 734L1385.2 734.9L1385.8 736L1386.2 737.1L1386.8 737.8L1387.2 738.7L1387.8 739.7L1388.2 740.9L1388.8 742L1389.2 743L1389.8 743.9L1390.2 744.7L1390.8 745.8L1391.2 747.2L1391.8 748.5L1392.2 749.7L1392.8 750.9L1393.2 752L1393.8 753.3L1394.2 754.5L1394.8 756.8L1395.2 759.2L1395.8 761.6L1396.2 764L1396.8 766.4L1397.2 768.8L1397.8 771.2L1398.2 773.5L1398.8 775.8L1399.2 778.2L1399.8 780.6L1400.2 783L1400.8 785.5L1401.2 787.9L1401.8 790.4L1402.2 792.8L1402.8 795.8L1403.2 798.8L1403.8 801.7L1404.2 804.7L1404.8 807.7L1405.2 810.6L1405.8 813.6L1406.2 816.6L1406.8 819.5L1407.2 822.5L1407.8 825.5L1408.2 828.4L1408.8 831.3L1409.2 834.3L1409.8 837.3L1410.2 840.3L1410.8 843.2L1411.2 846.2L1411.8 849.1L1412.2 852.1L1412.8 855L1413.2 858L1413.8 860.9L1414.2 863.9L1414.8 866.8L1415.2 869.8L1415.8 872.9L1416.2 876L1416.8 879.1L1417.2 882.2L1417.8 885.3L1418.2 888.3L1418.8 891.4L1419.2 894.4L1419.8 897.5L1420.2 900.5L1420.8 902.5L1421.2 904.6L1421.8 906.5L1422.2 908.4L1422.8 910.4L1423.2 912.4L1423.8 914.5L1424.2 916.4L1424.8 918.3L1425.2 920.3L1425.8 922.3L1426.2 924.4L1426.8 926.3L1427.2 927.6L1427.8 928.9L1428.2 930.3L1428.8 931.6L1429.2 932.9L1429.8 934.3L1430.2 935.7L1430.8 936.8L1431.2 938L1431.8 939.3L1432.2 940.7L1432.8 942.2L1433.2 943.6L1433.8 945L1434.2 946.3L1434.8 947.5L1435.2 948.5L1435.8 949.5L1436.2 950.4L1436.8 951.1L1437.2 952.1L1437.8 953.4L1438.2 954.5L1438.8 955.3L1439.2 956.3L1439.8 957.4L1440.2 958.4L1440.8 959.5L1441.2 960.5L1441.8 961.3L1442.2 962.2L1442.8 963.3L1443.2 964.1L1443.8 964.9L1444.2 965.9L1444.8 966.5L1445.2 967L1445.8 968.1L1446.2 969.1L1446.8 969.8L1447.2 970.4L1447.8 971.4L1448.2 972.4L1448.8 973.1L1449.2 973.9L1449.8 974.9L1450.2 976.3L1450.8 977.6L1451.2 979.1L1451.8 980.7L1452.2 982.2L1452.8 983.6L1453.2 985.1L1453.8 986.6L1454.2 988.1L1454.8 989.5L1455.2 991.1L1455.8 992.6L1456.2 994L1456.8 995.6L1457.2 997.1L1457.8 998.5L1458.2 999.9L1458.8 1001.3L1459.2 1003L1459.8 1004.5L1460.2 1005.7L1460.8 1006.2L1461.2 1006.9L1461.8 1007.9L1462.2 1008.7L1462.8 1008.9L1463.2 1009.1L1463.8 1009.8L1464.2 1010.9L1464.8 1012L1465.2 1012.6L1465.8 1013.1L1466.2 1013.4L1466.8 1013.6L1467.2 1014.5L1467.8 1015.7L1468.2 1015.8L1468.8 1015.8L1469.2 1015.9L1469.8 1015.6L1470.2 1015.7L1470.8 1015.9L1471.2 1016L1471.8 1017.2L1472.2 1018.5L1472.8 1018.4L1473.2 1018.6L1473.8 1019.5L1474.2 1019.5L1474.8 1019.4L1475.2 1019.2L1475.8 1019.7L1476.2 1021.8L1476.8 1022.2L1477.2 1021.5L1477.8 1022.4L1478.2 1023.2L1478.8 1023.4L1479.2 1023.3L1479.8 1023.3L1480.2 1023.1L1480.8 1023.8L1481.2 1025.4L1481.8 1024.6L1482.2 1022.7L1482.8 1022.9L1483.2 1023.7L1483.8 1023.3L1484.2 1022.9L1484.8 1023.1L1485.2 1024.6L1485.8 1025.5L1486.2 1025.3L1486.8 1024.8L1487.2 1023.8L1487.8 1023.5L1488.2 1024.3L1488.8 1025.5L1489.2 1026.3L1489.8 1026.8L1490.2 1027.4L1490.8 1028.2L1491.2 1029.4L1491.8 1030.2L1492.2 1030.6L1492.8 1031.3L1493.2 1032.5L1493.8 1033.6L1494.2 1034.3L1494.8 1034.9L1495.2 1035.3L1495.8 1035.9L1496.2 1037.2L1496.8 1038.6L1497.2 1039.8L1497.8 1041L1498.2 1042.2L1498.8 1043.4L1499.2 1044.7L1499.8 1046.4L1500.2 1047.3L1500.8 1047.1L1501.2 1046.6L1501.8 1046.4L1502.2 1046.9L1502.8 1046.6L1503.2 1046.7L1503.8 1047.7L1504.2 1048.2L1504.8 1048.2L1505.2 1048.2L1505.8 1048.8L1506.2 1049.2L1506.8 1048.9L1507.2 1048.3L1507.8 1048.2L1508.2 1048.1L1508.8 1047.4L1509.2 1047.3L1509.8 1048.7L1510.2 1050.8L1510.8 1051L1511.2 1049.8L1511.8 1049L1512.2 1049.1L1512.8 1049.6L1513.2 1050.6L1513.8 1051.5L1514.2 1052.1L1514.8 1051L1515.2 1049.6L1515.8 1051L1516.2 1051.4L1516.8 1050.1L1517.2 1050.8L1517.8 1051.8L1518.2 1050.6L1518.8 1050.3L1519.2 1052.1L1519.8 1052.8L1520.2 1050.9L1520.8 1049L1521.2 1049.9L1521.8 1052.6L1522.2 1052.4L1522.8 1050L1523.2 1049.4L1523.8 1050.7L1524.2 1052.1L1524.8 1052.5L1525.2 1052.2L1525.8 1052.5L1526.2 1053.4L1526.8 1053.8L1527.2 1054L1527.8 1054.4L1528.2 1054.2L1528.8 1054.3L1529.2 1055.1L1529.8 1055.8L1530.2 1056.2L1530.8 1057.1L1531.2 1058.2L1531.8 1058.9L1532.2 1059.2L1532.8 1059.7L1533.2 1060.2L1533.8 1060.7L1534.2 1060.9L1534.8 1061.4L1535.2 1062.6L1535.8 1063.4L1536.2 1063.4L1536.8 1063.5L1537.2 1064L1537.8 1064.8L1538.2 1065.2L1538.8 1065.8L1539.2 1067L1539.8 1067.5L1540.2 1067.3L1540.8 1068.4L1541.2 1069.8L1541.8 1069.4L1542.2 1067.9L1542.8 1067.9L1543.2 1069.3L1543.8 1070.5L1544.2 1070L1544.8 1068.2L1545.2 1067.2L1545.8 1068.4L1546.2 1069.6L1546.8 1069L1547.2 1067.8L1547.8 1067.4L1548.2 1068L1548.8 1068.3L1549.2 1067.9L1549.8 1067.5L1550.2 1067.5L1550.8 1067.7L1551.2 1066.9L1551.8 1066.2L1552.2 1066.4L1552.8 1066.2L1553.2 1065.2L1553.8 1064.6L1554.2 1065.2L1554.8 1065L1555.2 1063.5L1555.8 1063.6L1556.2 1064.8L1556.8 1064.4L1557.2 1064.4L1557.8 1066L1558.2 1066.6L1558.8 1065.8L1559.2 1065.8L1559.8 1066L1560.2 1065.2L1560.8 1064.7L1561.2 1065.6L1561.8 1066.8L1562.2 1066.6L1562.8 1066.9L1563.2 1067.8L1563.8 1068L1564.2 1068.2L1564.8 1069.1L1565.2 1070.1L1565.8 1070.5L1566.2 1070.9L1566.8 1072.1L1567.2 1072.9L1567.8 1073.3L1568.2 1073.6L1568.8 1073.6L1569.2 1074L1569.8 1075.2L1570.2 1076.1L1570.8 1076.1L1571.2 1075.9L1571.8 1076.4L1572.2 1077.7L1572.8 1078.2L1573.2 1078.7L1573.8 1078.3L1574.2 1077.8L1574.8 1077.9L1575.2 1077.1L1575.8 1077.5L1576.2 1078.3L1576.8 1077.6L1577.2 1076.8L1577.8 1076.1L1578.2 1076L1578.8 1076.8L1579.2 1076.2L1579.8 1075.2L1580.2 1075.1L1580.8 1074.4L1581.2 1074.3L1581.8 1075L1582.2 1075L1582.8 1074.3L1583.2 1073.5L1583.8 1074.1L1584.2 1074.5L1584.8 1074L1585.2 1074.6L1585.8 1074.3L1586.2 1072.4L1586.8 1072.1L1587.2 1073.7L1587.8 1074.6L1588.2 1074.4L1588.8 1073.5L1589.2 1071.8L1589.8 1071.1L1590.2 1071.3L1590.8 1071.5L1591.2 1072.7L1591.8 1073.3L1592.2 1072.4L1592.8 1071.8L1593.2 1072.5L1593.8 1073.4L1594.2 1073.2L1594.8 1073.3L1595.2 1074.6L1595.8 1075.6L1596.2 1076L1596.8 1076.6L1597.2 1077L1597.8 1077L1598.2 1076.6L1598.8 1076.5L1599.2 1077.4L1599.8 1078.9L1600.2 1079.9L1600.8 1080L1601.2 1079.8L1601.8 1080.1L1602.2 1080.9L1602.8 1081.6L1603.2 1082.4L1603.8 1083L1604.2 1083.2L1604.8 1083.8L1605.2 1084.8L1605.8 1085.8L1606.2 1086.7L1606.8 1087L1607.2 1086.5L1607.8 1086.5L1608.2 1087.2L1608.8 1087.7L1609.2 1086.8L1609.8 1086.2L1610.2 1086.5L1610.8 1086.8L1611.2 1087.4L1611.8 1087.9L1612.2 1087.7L1612.8 1087.1L1613.2 1087.3L1613.8 1087.4L1614.2 1085.7L1614.8 1085.5L1615.2 1087L1615.8 1087.3L1616.2 1087L1616.8 1086.6L1617.2 1086.2L1617.8 1086.3L1618.2 1085.8L1618.8 1084.3L1619.2 1083.5L1619.8 1083.9L1620.2 1084.7L1620.8 1086.2L1621.2 1086.4L1621.8 1084.9L1622.2 1083.6L1622.8 1083.8L1623.2 1084.9L1623.8 1084.6L1624.2 1083.2L1624.8 1082.1L1625.2 1081.8L1625.8 1082.2L1626.2 1082.5L1626.8 1082.2L1627.2 1082.8L1627.8 1083.2L1628.2 1081.8L1628.8 1081L1629.2 1081.4L1629.8 1082L1630.2 1082.1L1630.8 1081.5L1631.2 1081.6L1631.8 1082.3L1632.2 1081.7L1632.8 1080.3L1633.2 1080.2L1633.8 1080.2L1634.2 1079.3L1634.8 1078.9L1635.2 1078.3L1635.8 1077.9L1636.2 1078L1636.8 1078.6L1637.2 1078.6L1637.8 1077.3L1638.2 1076.9L1638.8 1077.1L1639.2 1076.3L1639.8 1075.1L1640.2 1074.5L1640.8 1074.2L1641.2 1074.5L1641.8 1075.8L1642.2 1076.9L1642.8 1077.5L1643.2 1077.6L1643.8 1077.1L1644.2 1077.3L1644.8 1078.4L1645.2 1079.2L1645.8 1079.8L1646.2 1080.4L1646.8 1080.9L1647.2 1081.4L1647.8 1081.5L1648.2 1081.2L1648.8 1081.3L1649.2 1081.9L1649.8 1082.5L1650.2 1082.7L1650.8 1083.1L1651.2 1083.9L1651.8 1084.3L1652.2 1084.5L1652.8 1085.2L1653.2 1085.5L1653.8 1085.4L1654.2 1086.1L1654.8 1087L1655.2 1087.5L1655.8 1088.5L1656.2 1088.4L1656.8 1087.4L1657.2 1088.2L1657.8 1089.4L1658.2 1088.7L1658.8 1087.2L1659.2 1087.4L1659.8 1088.2L1660.2 1087.7L1660.8 1086.8L1661.2 1086L1661.8 1086.8L1662.2 1087.7L1662.8 1086.8L1663.2 1086.2L1663.8 1086.7L1664.2 1087L1664.8 1086.8L1665.2 1086.2L1665.8 1085.8L1666.2 1085.1L1666.8 1084.1L1667.2 1083.6L1667.8 1083.3L1668.2 1082.7L1668.8 1081.7L1669.2 1081.4L1669.8 1081.9L1670.2 1082.1L1670.8 1081.3L1671.2 1080L1671.8 1079L1672.2 1079L1672.8 1080L1673.2 1080.1L1673.8 1078.2L1674.2 1077.5L1674.8 1078L1675.2 1077.4L1675.8 1076.7L1676.2 1076.8L1676.8 1077.6L1677.2 1078.1L1677.8 1079.2L1678.2 1079.4L1678.8 1077.8L1679.2 1076.9L1679.8 1076.5L1680.2 1076.2L1680.8 1077.3L1681.2 1077.8L1681.8 1077L1682.2 1076.5L1682.8 1076.5L1683.2 1077.3L1683.8 1077.9L1684.2 1077.3L1684.8 1077.7L1685.2 1079L1685.8 1079.6L1686.2 1079.9L1686.8 1080.4L1687.2 1080.8L1687.8 1081L1688.2 1081.1L1688.8 1081.8L1689.2 1082.7L1689.8 1082.8L1690.2 1082.2L1690.8 1082L1691.2 1083.2L1691.8 1083.6L1692.2 1083.1L1692.8 1083.8L1693.2 1084.3L1693.8 1084.3L1694.2 1084.3L1694.8 1084.8L1695.2 1084.5L1695.8 1084L1696.2 1084L1696.8 1084.5L1697.2 1086.1L1697.8 1087.1L1698.2 1087.4L1698.8 1088L1699.2 1087.1L1699.8 1085.7L1700.2 1085.8L1700.8 1085L1701.2 1083.5L1701.8 1084.1L1702.2 1085.3L1702.8 1085L1703.2 1084.2L1703.8 1084.3L1704.2 1083.8L1704.8 1083L1705.2 1082.9L1705.8 1082.9L1706.2 1083.2L1706.8 1083.6L1707.2 1083.4L1707.8 1082.1L1708.2 1080.5L1708.8 1080.4L1709.2 1081.6L1709.8 1082.1L1710.2 1081.3L1710.8 1080.7L1711.2 1080.1L1711.8 1079.1L1712.2 1078.9L1712.8 1078.8L1713.2 1078.5L1713.8 1078.4L1714.2 1077.8L1714.8 1076.9L1715.2 1077L1715.8 1077.2L1716.2 1076L1716.8 1075.3L1717.2 1076.2L1717.8 1076L1718.2 1075.9L1718.8 1077.4L1719.2 1077.5L1719.8 1076.4L1720.2 1076.7L1720.8 1078.4L1721.2 1079L1721.8 1078.3L1722.2 1078.1L1722.8 1079.1L1723.2 1080.3L1723.8 1080.5L1724.2 1080.4L1724.8 1080.7L1725.2 1080.9L1725.8 1081.1L1726.2 1080.6L1726.8 1080.4L1727.2 1081.6L1727.8 1083.1L1728.2 1083.3L1728.8 1082.8L1729.2 1083.4L1729.8 1084L1730.2 1083.9L1730.8 1083.5L1731.2 1083.5L1731.8 1083.3L1732.2 1082.2L1732.8 1082.5L1733.2 1084.2L1733.8 1083.4L1734.2 1082.2L1734.8 1082.4L1735.2 1082.2L1735.8 1082.6L1736.2 1083.1L1736.8 1082.4L1737.2 1081.6L1737.8 1081.2L1738.2 1081.7L1738.8 1082.6L1739.2 1082.9L1739.8 1082.5L1740.2 1081.2L1740.8 1081L1741.2 1081.6L1741.8 1080.6L1742.2 1080.7L1742.8 1081.7L1743.2 1081.2L1743.8 1080.4L1744.2 1079.8L1744.8 1079.1L1745.2 1079.6L1745.8 1080.3L1746.2 1080.3L1746.8 1080.1L1747.2 1079.1L1747.8 1077.8L1748.2 1077.5L1748.8 1077.9L1749.2 1077.4L1749.8 1077.1L1750.2 1077L1750.8 1076.5L1751.2 1075.4L1751.8 1075.2L1752.2 1076L1752.8 1075.9L1753.2 1075.4L1753.8 1075.1L1754.2 1074.9L1754.8 1074.4L1755.2 1074.1L1755.8 1074.1L1756.2 1075.1L1756.8 1076.9L1757.2 1078L1757.8 1078.1L1758.2 1077.7L1758.8 1077.8L1759.2 1079.3L1759.8 1080.3" stroke="#000" stroke-width="6.8"/>
<path d="M257.7 1009L258.2 997.9L258.7 986.7L259.2 975.6L259.7 964.5L260.2 953.3L260.7 942.2L261.2 931.1L261.7 919.9L262.2 908.8L262.7 897.6L263.2 886.5L263.7 875.4L264.2 864.2L264.7 853.1L265.2 842L265.7 830.8L266.2 819.7L266.7 808.6L267.2 797.4L267.7 786.3L268.2 775.2L268.7 764L269.2 752.9L269.7 741L270.2 729.2L270.7 717.3L271.2 705.4L271.7 698.7L272.2 693.2L272.7 691.1L273.2 689L273.6 686.8L274.1 685.9L274.5 685.1L275 684.5L275.4 684.1L275.9 684L276.4 683.2L276.8 682.8L277.3 682.8L277.7 681.5L278.2 681.1L278.7 682.3L279.2 682.3L279.7 680.7L280.2 680.7L280.7 682.4L281.2 682.9L281.7 681.6L282.2 680.9L282.7 681.1L283.2 680.6L283.7 680.8L284.2 681.4L284.7 680.5L285.2 679.2L285.7 679.4L286.2 681L286.7 681.6L287.2 681.9L287.7 682.8L288.2 682.1L288.7 681.8L289.2 683.2L289.7 683.8L290.2 683L290.7 682.3L291.2 681.7L291.7 681.1L292.2 681.7L292.7 681.8L293.2 681.5L293.7 683.1L294.2 684.2L294.7 683.6L295.2 682.3L295.7 680.7L296.2 680.4L296.7 681.4L297.2 681.8L297.7 680.9L298.2 679.8L298.7 680.1L299.2 681.1L299.7 681.2L300.2 681.7L300.7 682.8L301.2 682.4L301.7 681.2L302.2 681.1L302.7 680.7L303.2 681L303.7 681.9L304.2 681.5L304.7 681.7L305.2 681.7L305.7 681.1L306.2 681.1L306.7 680.3L307.2 680.3L307.7 682L308.2 681.7L308.7 679.4L309.2 678.9L309.7 679.8L310.2 681L310.7 681.4L311.2 680.6L311.7 680.3L312.2 680.2L312.7 679L313.2 678.1L313.7 678L314.2 677.8L314.7 678.6L315.2 680.6L315.7 681.1L316.2 679.8L316.7 679.8L317.2 680.3L317.7 679.9L318.2 679.7L318.7 678.7L319.2 677.9L319.7 678.5L320.2 679.1L320.7 678.7L321.2 678.8L321.7 679.7L322.2 679.5L322.7 678.7L323.2 679.6L323.7 680.2L324.2 678.6L324.7 678L325.2 679.5L325.7 680.4L326.2 680.4L326.7 680.6L327.2 680L327.7 679L328.2 677.9L328.7 676.6L329.2 676.6L329.7 677.7L330.2 678.5L330.7 678.5L331.2 677.8L331.7 678.1L332.2 680L332.7 680.5L333.2 679.8L333.7 679.3L334.2 678.8L334.7 678.6L335.2 678.4L335.7 678.8L336.2 679.9L336.7 679.2L337.2 678.1L337.7 679.2L338.2 679.9L338.7 678.2L339.2 676.4L339.7 676.6L340.2 677.9L340.7 677.9L341.2 677.2L341.7 676.5L342.2 676.9L342.7 677.1L343.2 676L343.7 676.2L344.2 677L344.7 676.7L345.2 676.9L345.7 676.5L346.2 676L346.7 676.6L347.2 677.1L347.7 677.3L348.2 677.4L348.7 678.2L349.2 678L349.7 676.6L350.2 676.6L350.7 677.5L351.2 676.7L351.7 676.3L352.2 678.4L352.7 679L353.2 678.1L353.7 678.7L354.2 678.4L354.7 676.6L355.2 676.6L355.7 677.5L356.2 676.9L356.7 676.4L357.2 676L357.7 676.4L358.2 678.5L358.7 678.1L359.2 676.6L359.7 677.6L360.2 678.3L360.7 677.9L361.2 677.3L361.7 676.8L362.2 677.5L362.7 677.1L363.2 676.2L363.7 677L364.2 677.3L364.7 676.8L365.2 676.7L365.7 675.9L366.2 676.6L366.7 678.2L367.2 678.3L367.7 677.8L368.2 677.5L368.7 678.2L369.2 679L369.7 678.5L370.2 677.2L370.7 675.5L371.2 675.6L371.7 677.5L372.2 677.2L372.7 676.1L373.2 677.6L373.7 678L374.2 677.1L374.7 678.1L375.2 678L375.7 676.1L376.2 675.7L376.7 677.3L377.2 678L377.7 676.8L378.2 675.2L378.7 675.6L379.2 677.5L379.7 677.5L380.2 676.1L380.7 675.8L381.2 675.5L381.7 675.5L382.2 675L382.7 675.5L383.2 677L383.7 676.7L384.2 676.7L384.7 676.9L385.2 676.1L385.7 675.1L386.2 674.1L386.7 674.8L387.2 676.1L387.7 675.5L388.2 675.4L388.7 676.8L389.2 677.5L389.7 676.6L390.2 674.3L390.7 673.4L391.2 674.3L391.7 675.2L392.2 675.4L392.7 675.3L393.2 675.4L393.7 674.3L394.2 674.1L394.7 674.8L395.2 673.8L395.7 673.4L396.2 674.3L396.7 673.9L397.2 673.6L397.7 674.3L398.2 674.3L398.7 674.3L399.2 674.3L399.7 673.8L400.2 674L400.7 674.4L401.2 674L401.7 673.4L402.2 673.1L402.7 674.2L403.2 674.8L403.7 674.3L404.2 674L404.7 672.5L405.2 671.6L405.7 671.6L406.2 671.5L406.7 671.4L407.2 670.7L407.7 671L408.2 672L408.7 672L409.2 671.7L409.7 670.3L410.2 669.3L410.7 670.3L411.2 670.4L411.7 669.1L412.2 668.4L412.7 668.2L413.2 668.8L413.7 669.3L414.2 669.2L414.7 669L415.2 668.3L415.7 667.8L416.2 667.6L416.7 667.3L417.2 667.4L417.7 668.1L418.2 668.1L418.7 667.3L419.2 666.2L419.7 666.1L420.2 666.3L420.7 665.7L421.2 665.5L421.7 665.4L422.2 664.8L422.7 663.9L423.2 663.5L423.7 662.9L424.2 662L424.7 661.8L425.2 661.7L425.7 661.3L426.2 661.2L426.7 660.9L427.2 660.1L427.7 659.1L428.2 658.5L428.7 658.4L429.2 657.7L429.7 656.7L430.2 656.2L430.7 655.6L431.2 654.5L431.7 653.5L432.2 652.7L432.7 652.1L433.2 651.4L433.7 650.4L434.2 649.5L434.7 649L435.2 648.3L435.7 647.2L436.2 646.3L436.7 645.7L437.2 645L437.7 644.4L438.2 644L438.7 643.3L439.2 642.4L439.7 641.4L440.2 641.1L440.7 640.8L441.2 639.8L441.7 638.8L442.2 638.1L442.7 637.4L443.2 636.9L443.7 636.3L444.2 635.3L444.7 634.3L445.2 633.5L445.7 633.1L446.2 632.3L446.7 631L447.2 629.8L447.7 628.7L448.2 627.6L448.8 625.8L449.4 622.8L450 619.8L450.6 616.4L451.2 611.5L451.8 606.7L452.4 601.3L453 596L453.5 589.5L454 583L454.5 576.5L455 570L455.5 563.5L456 557.1L456.5 550.6L457 544.1L457.5 537.6L458 531.1L458.5 524.6L459 519.3L459.5 514L460 508.7L460.5 503.4L461 498L461.5 492.7L462 487.4L462.5 482.1L463 476.8L463.5 471.5L464 466.2L464.5 460.9L465 455.6L465.5 450.2L466 444.9L466.5 439.6L467 434.3L467.5 429.2L468 424.2L468.5 419.1L469 414.1L469.5 409.1L470 404.1L470.5 399.1L471 394.1L471.5 389L472 384L472.5 381.2L473 378.5L473.5 375.8L474 373L474.5 371.3L475 369.6L475.4 368L475.9 366.5L476.3 365.4L476.7 364.2L477.2 363.2L477.6 362.8L478 362.3L478.5 361.6L478.9 361.2L479.3 361.8L479.8 362.2L480.2 361.2L480.7 360.9L481.2 361.8L481.7 362.3L482.2 361.5L482.7 360.5L483.2 361.7L483.7 362.7L484.2 362.1L484.7 361.4L485.2 361L485.7 361.1L486.2 360.5L486.7 359.7L487.2 360L487.7 360.4L488.2 359.9L488.7 359.8L489.2 360.5L489.7 361.1L490.2 361.6L490.7 360.4L491.2 358.8L491.7 358.1L492.2 358.4L492.7 359.1L493.2 359L493.7 359.2L494.2 360L494.7 360L495.2 360.6L495.7 360.6L496.2 360.5L496.7 361.3L497.2 361.7L497.7 362.3L498.2 362L498.7 360.9L499.2 359.8L499.7 360.2L500.2 361.5L500.7 361.4L501.2 359.9L501.7 358.5L502.2 358.7L502.7 360.7L503.2 362L503.7 362.2L504.2 361.7L504.7 360.9L505.2 360.3L505.7 359.5L506.2 360.7L506.7 361.9L507.2 361.3L507.7 360.5L508.2 359.8L508.7 360.2L509.2 361.2L509.7 362L510.2 362.1L510.7 360.8L511.2 361L511.7 361.4L512.2 360.6L512.7 361.2L513.2 361.3L513.7 360.2L514.2 359.7L514.7 359.9L515.2 359.8L515.7 360.1L516.2 361.2L516.7 360.5L517.2 360.2L517.7 361.5L518.2 361.5L518.7 361.2L519.2 361.3L519.7 359.7L520.2 358.4L520.7 358.5L521.2 358.6L521.7 360L522.2 361.9L522.7 362.5L523.2 361.8L523.7 360.8L524.2 361.4L524.7 363.1L525.2 363L525.7 361.7L526.2 360.8L526.7 361.2L527.2 362.2L527.7 361.9L528.2 361.6L528.7 361.5L529.2 361.2L529.7 361.2L530.2 359.6L530.7 358.3L531.2 358.9L531.7 359.5L532.2 360.3L532.7 360.8L533.2 360.1L533.7 360.4L534.2 361.2L534.7 359.9L535.2 359.8L535.7 361.8L536.2 362L536.7 360.3L537.2 359.5L537.7 359.3L538.2 360.6L538.7 362.1L539.2 362.1L539.7 362.7L540.2 363.2L540.7 362.5L541.2 361.1L541.7 359.3L542.2 358.7L542.7 360.3L543.2 361.7L543.7 361.2L544.2 360.3L544.7 359.9L545.2 360.4L545.7 361.3L546.2 361.7L546.7 360.6L547.2 358.9L547.7 358.1L548.2 358.2L548.7 359.3L549.2 360.7L549.7 361.9L550.2 362.3L550.7 360.8L551.2 360.2L551.7 361.8L552.2 362.8L552.7 362.2L553.2 360.4L553.7 360.4L554.2 362.1L554.7 363.2L555.2 362.4L555.7 360.7L556.2 360.1L556.7 360.4L557.2 361.5L557.7 362.1L558.2 362.1L558.7 361.6L559.2 360.9L559.7 361L560.2 360.4L560.7 360L561.2 360.3L561.7 359.8L562.2 360.7L562.7 362.4L563.2 361.5L563.7 359.7L564.2 359.2L564.7 358.9L565.2 359.7L565.7 361.8L566.2 362.4L566.7 361.9L567.2 361.1L567.7 359.6L568.2 358.5L568.7 358.9L569.2 360L569.7 360.5L570.2 360.5L570.7 360.7L571.2 361.1L571.7 361.2L572.2 359.6L572.7 359.3L573.2 360.7L573.7 360.2L574.2 359.7L574.7 360.4L575.2 360.9L575.7 360.7L576.2 359.8L576.7 359.4L577.2 360.6L577.7 362.6L578.2 363.6L578.7 362.5L579.2 360.8L579.7 359.9L580.2 359.8L580.7 360.3L581.2 361.1L581.7 361.7L582.2 362L582.7 362.3L583.2 361.5L583.7 359.9L584.2 360L584.7 362L585.2 362.5L585.7 361.2L586.2 360.6L586.7 360.5L587.2 360.1L587.7 360.2L588.2 360.1L588.7 359.5L589.2 359.2L589.7 359.9L590.2 360.6L590.7 359.3L591.2 358.2L591.7 358.6L592.2 358.8L592.7 359L593.2 359.3L593.7 359.9L594.2 360L594.7 358.7L595.2 359.1L595.7 360L596.2 359.8L596.7 360.1L597.2 359.6L597.7 358.7L598.2 358.8L598.7 360.1L599.2 361.1L599.7 360.7L600.2 360.2L600.7 359L601.2 358.3L601.7 359.9L602.2 361.7L602.7 361.2L603.2 360.1L603.7 359.6L604.2 359.8L604.7 360.7L605.2 359.8L605.7 358.5L606.2 358.9L606.7 359.7L607.2 360.2L607.7 359.6L608.2 359.7L608.7 360.7L609.2 361.2L609.7 361.4L610.2 360.7L610.7 360.8L611.2 360.7L611.7 359.3L612.2 360.1L612.7 361.4L613.2 360.8L613.7 360.7L614.2 360.7L614.7 359.4L615.2 360.3L615.7 362.5L616.2 361.7L616.7 359.1L617.2 358.4L617.7 359.9L618.2 360.8L618.7 359.4L619.2 358.9L619.7 361L620.2 362.3L620.7 361.9L621.2 360.1L621.7 358.1L622.2 357.8L622.7 358.3L623.2 358.2L623.7 358.8L624.2 359.5L624.7 358.8L625.2 359.1L625.7 360.2L626.2 359.5L626.7 358.5L627.2 359.2L627.7 359.9L628.2 359.1L628.7 357.8L629.2 357.8L629.7 357.6L630.2 356.5L630.7 357.3L631.2 359.4L631.7 359L632.2 357.4L632.7 357.6L633.2 358.4L633.7 358.8L634.2 358.5L634.7 357.6L635.2 357.9L635.7 359.1L636.2 359.6L636.7 358.7L637.2 358.3L637.7 358.1L638.2 358.2L638.7 358.8L639.2 359.5L639.7 360.6L640.2 360.4L640.7 359.3L641.2 360L641.7 360.8L642.2 360.1L642.7 359.3L643.2 358.4L643.7 357.8L644.2 357.9L644.7 358.6L645.2 360L645.7 359.4L646.2 357.9L646.7 357.5L647.2 358.7L647.7 361.1L648.2 361.7L648.7 360.1L649.2 359.1L649.7 358.9L650.2 359.8L650.7 360.7L651.2 360L651.7 359.2L652.2 358.8L652.7 357.9L653.2 357.9L653.7 359.4L654.2 361.4L654.7 361.5L655.2 359.4L655.7 358.4L656.2 358.4L656.7 359L657.2 360.3L657.7 361.1L658.2 361.2L658.7 359.7L659.2 358.8L659.7 360.6L660.2 361.1L660.7 359.1L661.2 357.2L661.7 356.3L662.2 356.7L662.7 358L663.2 359.5L663.7 360L664.2 359.3L664.7 358.9L665.2 358.8L665.7 359.5L666.2 359.3L666.7 358.3L667.2 357.2L667.7 356.2L668.2 356.5L668.7 357.7L669.2 358L669.7 356.9L670.2 357.3L670.7 358.3L671.2 357.1L671.7 357L672.2 358.8L672.7 359.3L673.2 358.5L673.7 357.9L674.2 357.8L674.7 358L675.2 357.4L675.7 356.2L676.2 355.6L676.7 356.2L677.2 357.7L677.7 357.8L678.2 355.9L678.7 356L679.2 358.8L679.7 360.2L680.2 359L680.7 358L681.2 358.3L681.7 357.4L682.2 356.6L682.7 358.4L683.2 358.7L683.7 357.4L684.2 358.4L684.7 360.3L685.2 360.6L685.7 359.2L686.2 356.9L686.7 356L687.2 357.3L687.7 359.1L688.2 359.8L688.7 360.5L689.2 359.9L689.7 357.8L690.2 356.5L690.7 356.2L691.2 356.4L691.7 356.7L692.2 357.1L692.7 356.6L693.2 356.1L693.7 357.2L694.2 359.3L694.7 360.7L695.2 360.5L695.7 360L696.2 359.2L696.7 357.7L697.2 357.7L697.7 359.2L698.2 359.3L698.7 358.3L699.2 358L699.7 359L700.2 359.8L700.7 359L701.2 358.3L701.7 358.9L702.2 360.4L702.7 361.6L703.2 361.3L703.7 360L704.2 359.9L704.7 361.2L705.2 361.7L705.7 361.5L706.2 360.2L706.7 359.5L707.2 360.4L707.7 360.2L708.2 358.7L708.7 358.4L709.2 360.3L709.7 360.5L710.2 358.9L710.7 359.6L711.2 360.9L711.7 361.2L712.2 361.4L712.7 360.8L713.2 359.7L713.7 359.5L714.2 359.3L714.7 359.1L715.2 359.5L715.7 359L716.2 358.7L716.7 358.4L717.2 357.8L717.7 358.1L718.2 359L718.7 360L719.2 360.2L719.7 360L720.2 360.4L720.7 360.2L721.2 359.1L721.7 357.9L722.2 358.6L722.7 360.4L723.2 359.8L723.7 357.8L724.2 356.9L724.7 356.6L725.2 356.1L725.7 356.3L726.2 357.9L726.7 358.4L727.2 356.6L727.7 356.6L728.2 358.4L728.7 358.1L729.2 356.4L729.7 356.5L730.2 358.2L730.7 359.1L731.2 358.2L731.7 358.1L732.2 357.9L732.7 356.4L733.2 356L733.7 356.9L734.2 358.1L734.7 359L735.2 359.4L735.7 359.1L736.2 357.8L736.7 357L737.2 357.5L737.7 357.6L738.2 356L738.7 355.8L739.2 357.9L739.7 357.7L740.2 355.9L740.7 356.3L741.2 357L741.7 356.1L742.2 355.8L742.7 356.2L743.2 355.9L743.7 355.1L744.2 355.5L744.7 357.2L745.2 357.3L745.7 356.3L746.2 356.7L746.7 357.6L747.2 358.3L747.7 358.1L748.2 356.6L748.7 355.2L749.2 355.5L749.7 357.6L750.2 358.5L750.7 357.6L751.2 356.9L751.7 356.7L752.2 357.2L752.7 356.8L753.2 356.7L753.7 357.4L754.2 357L754.7 355.7L755.2 355.2L755.7 356.4L756.2 357.5L756.7 356.7L757.2 356.2L757.7 357L758.2 358.1L758.7 358.7L759.2 358L759.7 356.6L760.2 356.3L760.7 357.7L761.2 358.9L761.7 357.5L762.2 356L762.7 356.7L763.2 357.9L763.7 358.5L764.2 359L764.7 359L765.2 358.6L765.7 358.4L766.2 358.5L766.7 358.6L767.2 358.3L767.7 357.8L768.2 357.7L768.7 358L769.2 358.8L769.7 358.5L770.2 356.8L770.7 355.4L771.2 355.6L771.7 356.2L772.2 356.4L772.7 357.3L773.2 357.6L773.7 357.5L774.2 357.2L774.7 356.7L775.2 357.7L775.7 358.3L776.2 358.4L776.7 358.4L777.2 358.1L777.7 358.4L778.2 357.3L778.7 356.5L779.2 357.8L779.7 357.6L780.2 355.9L780.7 356.2L781.2 357.5L781.7 358L782.2 357.6L782.7 356.6L783.2 356.1L783.7 357.1L784.2 356.6L784.7 355.1L785.2 355.4L785.7 356.6L786.2 357.7L786.7 358.7L787.2 358.8L787.7 358.3L788.2 357.9L788.7 356.9L789.2 356.9L789.7 357.2L790.2 356L790.7 355.4L791.2 356.7L791.7 356.7L792.2 356.3L792.7 357.6L793.2 357.3L793.7 355.9L794.2 356.6L794.7 356.7L795.2 355.8L795.7 355.6L796.2 355.3L796.7 355.7L797.2 356.4L797.7 356.6L798.2 357L798.7 356.4L799.2 354.9L799.7 354.4L800.2 354.5L800.7 355.8L801.2 356.9L801.7 355.4L802.2 354L802.7 354.9L803.2 355L803.7 353L804.2 353L804.7 354.8L805.2 354.3L805.7 352.6L806.2 352.6L806.7 352.9L807.2 353.8L807.7 354.1L808.2 352.8L808.7 352.2L809.2 352.4L809.7 352.2L810.2 352L810.7 352.2L811.2 351.8L811.7 351.2L812.2 352L812.7 352.1L813.2 351.5L813.7 351L814.2 349.7L814.7 348.6L815.2 348.3L815.7 348.1L816.2 347.9L816.7 348.1L817.2 348.1L817.7 347.8L818.2 348.1L818.7 348.5L819.2 347.4L819.7 346.1L820.2 345.6L820.7 345.3L821.2 345.3L821.7 345.3L822.2 344.5L822.7 343.8L823.2 343.5L823.7 343.2L824.2 342.5L824.7 341.5L825.2 340.9L825.7 340.7L826.2 339.9L826.7 339.5L827.2 339.5L827.7 338.9L828.2 338L828.7 337.3L829.2 336.3L829.7 335.2L830.2 334.6L830.7 334.2L831.2 333.2L831.7 332.2L832.2 331.3L832.7 330.5L833.2 329.4L833.7 328.3L834.2 327.3L834.7 326.1L835.2 324.5L835.7 322.8L836.2 321.1L836.7 319.4L837.2 317.7L837.7 315.3L838.2 310.5L838.7 305.7L839.2 300.9L839.7 296.1L840.2 292L840.7 289.1L841.2 286.1L841.7 283.1L842.2 280.2L842.7 277.2L843.2 274.3L843.7 271.3L844.2 268.9L844.7 266.9L845.2 264.9L845.7 262.9L846.2 260.9L846.7 258.8L847.2 256.8L847.7 254.9L848.2 252.9L848.7 250.9L849.2 248.9L849.7 246.9L850.2 244.8L850.7 242.8L851.2 241.5L851.7 240.1L852.2 238.7L852.7 237.4L853.2 235.9L853.7 234.4L854.2 233.2L854.7 231.8L855.2 230.3L855.7 228.9L856.2 227.5L856.7 226L857.2 224.5L857.7 223.2L858.2 221.8L858.7 220.3L859.2 218.8L859.7 217.5L860.2 216.3L860.7 214.8L861.2 213.2L861.7 211.6L862.2 210.1L862.7 208.7L863.2 207.3L863.7 205.9L864.2 204.3L864.7 202.7L865.2 201.3L865.7 199.8L866.2 198.3L866.7 196.9L867.2 195.4L867.7 193.8L868.2 192.3L868.7 190.9L869.2 189.5L869.7 188.1L870.2 186.5L870.7 184.8L871.2 183.1L871.7 181.6L872.2 180L872.7 178.3L873.2 176.6L873.7 175L874.2 173.5L874.7 171.9L875.2 170.2L875.7 168.5L876.2 166.8L876.7 165.1L877.2 163.6L877.7 162L878.2 160.9L878.7 160.1L879.2 159.2L879.7 158.1L880.2 157.1L880.7 156.2L881.2 155.4L881.7 154.6L882.2 153.8L882.7 152.7L883.2 151.6L883.7 151.3L884.2 151.4L884.7 151.4L885.2 151L885.7 150.5L886.2 149.8L886.7 149.4L887.2 149.2L887.7 148.6L888.2 147.4L888.7 147.1L889.2 147.2L889.7 146.7L890.2 147.2L890.7 148L891.2 147L891.7 146L892.2 145.9L892.6 145.2L893 146.2L893.5 147.7L893.9 154L894.3 161.6L894.8 171.8L895.3 183.8L895.8 195.8L896.3 208.5L896.8 219L897.3 229L897.8 239L898.3 249L898.8 259L899.3 269L899.8 278.9L900.3 288.9L900.8 298.8L901.3 308.8L901.8 318.7L902.3 328.8L902.8 339.5L903.3 350.1L903.8 360.7L904.3 370.2L904.8 379L905.3 387.7L905.8 396.5L906.3 405.3L906.8 414L907.3 422.7L907.8 431.5L908.3 440.3L908.8 449L909.3 457.8L909.8 466.5L910.3 475.3L910.8 483.5L911.3 491.1L911.8 498.6L912.3 506.1L912.8 513.7L913.3 521.2L913.8 528.7L914.3 536.3L914.8 543.8L915.3 551.4L915.8 558.9L916.3 566.4L916.9 574L917.5 579.8L918.2 566.2L919 482.3L919.8 445.1L920.4 408L921 384L921.6 380.3L922.2 376.7L922.6 374.1L923 373.3L923.3 372.3L923.7 371.3L924.1 371.1L924.5 370.9L924.8 370.7L925.2 370.9L925.7 370.8L926.2 369.9L926.7 370.2L927.2 371.6L927.7 371.4L928.2 371L928.7 371.2L929.2 371.1L929.7 370.1L930.2 369.3L930.7 369.2L931.2 368.9L931.7 368.1L932.2 367.3L932.7 367.8L933.2 370.2L933.7 371.8L934.2 372.2L934.7 372.1L935.2 370.6L935.7 369L936.2 369.1L936.7 368.6L937.2 368L937.7 368.7L938.2 370.1L938.7 371.1L939.2 370.4L939.7 369.3L940.2 368.6L940.7 368.1L941.2 367.4L941.7 368.5L942.2 369.9L942.7 369.8L943.2 370.4L943.7 370.7L944.2 369.5L944.7 369.8L945.2 371.3L945.7 371L946.2 369.8L946.7 369.7L947.2 370.4L947.7 371.2L948.2 370.8L948.7 369.5L949.2 369.7L949.7 370.1L950.2 370L950.7 369.9L951.2 368.9L951.7 368.4L952.2 368.8L952.7 369.4L953.2 369.3L953.7 369.5L954.2 370.1L954.7 369.7L955.2 369.3L955.7 368.5L956.2 368.8L956.7 370.4L957.2 371.2L957.7 370.8L958.2 370.4L958.7 371.2L959.2 371.1L959.7 369.8L960.2 369.9L960.7 370.8L961.2 370.9L961.7 370.2L962.2 370.1L962.7 369.5L963.2 369.5L963.7 370.8L964.2 371.2L964.7 371.6L965.2 372.4L965.7 371.9L966.2 370.3L966.7 369.7L967.2 370.2L967.7 371.4L968.2 372.7L968.7 372.1L969.2 370.6L969.7 370.3L970.2 371.6L970.7 373.1L971.2 372.9L971.7 371.3L972.2 370.4L972.7 371.9L973.2 372.9L973.7 371.8L974.2 371.6L974.7 371.4L975.2 371.7L975.7 373L976.2 373.3L976.7 373.7L977.2 373.5L977.7 372.6L978.2 372.7L978.7 373.2L979.2 374L979.7 374.2L980.2 374.6L980.7 374.7L981.2 372.9L981.7 371.3L982.2 371.2L982.7 372.4L983.2 372.8L983.7 371L984.2 371.2L984.7 373L985.2 372.7L985.7 372.3L986.2 372.7L986.7 372.8L987.2 372.4L987.7 371.2L988.2 370.5L988.7 371.2L989.2 372.5L989.7 372.2L990.2 371.2L990.7 370.9L991.2 370.9L991.7 371.5L992.2 371.5L992.7 370.6L993.2 371.3L993.7 372.5L994.2 372.2L994.7 372.4L995.2 373.4L995.7 372.9L996.2 371.6L996.7 372L997.2 373.2L997.7 373L998.2 372.5L998.7 372.7L999.2 372.9L999.7 373.3L1000.2 372.4L1000.7 371.1L1001.2 371.4L1001.7 371.9L1002.2 371.5L1002.7 370.7L1003.2 370.5L1003.7 370.5L1004.2 371.4L1004.7 372.3L1005.2 370.9L1005.7 370L1006.2 370.8L1006.7 371.3L1007.2 372L1007.7 372.8L1008.2 371.5L1008.7 371.6L1009.2 373L1009.7 372.4L1010.2 372.3L1010.7 372.9L1011.2 372.7L1011.7 372.7L1012.2 373.8L1012.7 375.2L1013.2 375.8L1013.7 375.5L1014.2 375L1014.7 375L1015.2 374.6L1015.7 374.7L1016.2 375.4L1016.7 375.5L1017.2 375.7L1017.7 376L1018.2 376.5L1018.7 377.8L1019.2 378.9L1019.7 378.5L1020.2 378L1020.7 379.4L1021.2 380.3L1021.7 379.4L1022.2 378.4L1022.7 378.7L1023.2 380.4L1023.7 380.6L1024.2 379.4L1024.7 380.4L1025.2 381.1L1025.7 380.5L1026.2 380.5L1026.7 380.6L1027.2 380L1027.7 379L1028.2 378.5L1028.7 380.2L1029.2 381L1029.7 380L1030.2 379.1L1030.7 378.8L1031.2 378.9L1031.7 378L1032.2 376.9L1032.7 377.8L1033.2 379.8L1033.7 380.1L1034.2 378.9L1034.7 379L1035.2 381.2L1035.7 382.8L1036.2 381.9L1036.7 380.9L1037.2 382.1L1037.7 382.7L1038.2 382.2L1038.7 381.5L1039.2 381.2L1039.7 382.3L1040.2 382.4L1040.7 382L1041.2 381.9L1041.7 381.4L1042.2 381.4L1042.7 381.7L1043.2 381.8L1043.7 382.3L1044.2 383.1L1044.7 383.9L1045.2 384.5L1045.7 384.7L1046.2 384.9L1046.7 385.1L1047.2 385.8L1047.7 386.2L1048.2 385.9L1048.7 386.1L1049.2 386.9L1049.7 387.4L1050.2 387.6L1050.7 387.9L1051.2 389L1051.7 390.1L1052.2 390.9L1052.7 391.6L1053.2 392.6L1053.7 393.5L1054.2 394.4L1054.7 395.3L1055.2 397.6L1055.7 400L1056.2 402.3L1056.7 404.6L1057.1 407.9L1057.5 412.6L1058 417.3L1058.5 422.6L1058.9 429.6L1059.3 436.7L1059.8 443.8L1060.3 451.6L1060.8 459.4L1061.3 465.2L1061.8 471.1L1062.3 477.1L1062.8 483.2L1063.3 489.2L1063.8 495.2L1064.3 501.3L1064.8 507.3L1065.3 513.4L1065.8 519.4L1066.3 525.4L1066.8 531.4L1067.3 537.4L1067.8 543.5L1068.3 549.5L1068.8 555.5L1069.3 561.5L1069.8 567.5L1070.3 573.5L1070.8 579.3L1071.3 585.1L1071.8 590.9L1072.3 596.7L1072.8 602.5L1073.3 608.3L1073.8 614.1L1074.3 619.9L1074.8 625.7L1075.3 630.9L1075.8 635.7L1076.3 640.5L1076.8 645.3L1077.3 650.1L1077.8 654.9L1078.3 659.7L1078.8 664.5L1079.3 669.3L1079.8 674.1L1080.3 678.9L1080.8 683.7L1081.3 688.5L1081.8 693.3L1082.3 698.1L1082.8 702.4L1083.3 706.4L1083.8 710.4L1084.3 714.4L1084.8 718.5L1085.3 722.5L1085.8 726.5L1086.3 730.5L1086.8 734.5L1087.3 738.5L1087.8 742.5L1088.3 746.5L1088.8 750.5L1089.3 754.6L1089.8 758.5L1090.3 762.6L1090.8 766.6L1091.3 770.6L1091.8 774.6L1092.3 778L1092.8 780.5L1093.3 783L1093.8 785.5L1094.3 788L1094.8 790.5L1095.3 793L1095.8 795.5L1096.3 798L1096.8 800.5L1097.3 803L1097.8 805.6L1098.3 808L1098.8 810.5L1099.3 813L1099.8 815.5L1100.3 818L1100.8 820.5L1101.3 823L1101.8 825.5L1102.3 828L1102.8 830.5L1103.3 833L1103.8 835.5L1104.3 838L1104.8 840.5L1105.3 842.9L1105.8 846L1106.3 850L1106.9 854L1107.5 858.2L1108 860.4L1108.8 856.2L1109.5 851.8L1110 846.9L1110.6 842L1111.1 837.1L1111.7 820.9L1112.2 801.9L1112.7 782.8L1113.3 763.6L1113.8 754.9L1114.4 748.9L1114.9 742.8L1115.3 736.8L1115.8 734.5L1116.2 732.2L1116.7 729.9L1117.1 727.6L1117.5 725.3L1118 723.5L1118.4 722.9L1118.9 722.2L1119.3 721.3L1119.8 720.3L1120.2 719.6L1120.7 719.2L1121.2 719L1121.7 719L1122.2 718.3L1122.7 717.7L1123.2 717.9L1123.7 717.3L1124.2 716L1124.7 715.1L1125.2 714.8L1125.7 715L1126.2 715.3L1126.7 715.1L1127.2 715.3L1127.7 715.2L1128.2 714.3L1128.7 713.3L1129.2 712.5L1129.7 712.6L1130.2 712.7L1130.7 712L1131.2 711.8L1131.7 710.9L1132.2 710.7L1132.7 710.7L1133.2 709.1L1133.7 708.4L1134.2 708.8L1134.7 708.1L1135.2 707.4L1135.7 706.8L1136.2 705.8L1136.7 705.9L1137.2 707L1137.7 707.4L1138.2 706.7L1138.7 704.8L1139.2 703.5L1139.7 703.7L1140.2 704.6L1140.7 705.3L1141.2 704.7L1141.7 703.4L1142.2 702.7L1142.7 703.4L1143.2 704.5L1143.7 704.6L1144.2 703.6L1144.7 703.2L1145.2 703L1145.7 701.8L1146.2 700.6L1146.7 700.4L1147.2 701.5L1147.7 702.4L1148.2 701.8L1148.7 700.9L1149.2 700.3L1149.7 700.5L1150.2 700.7L1150.7 700.7L1151.2 700.7L1151.7 699.7L1152.2 698.9L1152.7 698.9L1153.2 699.2L1153.7 700.2L1154.2 701L1154.7 701.1L1155.2 700.9L1155.7 701.6L1156.2 702.1L1156.7 702L1157.2 700.5L1157.7 699.3L1158.2 699.5L1158.7 698.9L1159.2 698.6L1159.7 699.2L1160.2 699.5L1160.7 698.8L1161.2 698.4L1161.7 699L1162.2 699.8L1162.7 700.3L1163.2 701.1L1163.7 701.6L1164.2 701.6L1164.7 701.2L1165.2 699.7L1165.7 699.1L1166.2 700.8L1166.7 700.9L1167.2 699.7L1167.7 700.8L1168.2 701.4L1168.7 700.3L1169.2 700.5L1169.7 700.8L1170.2 700.4L1170.7 700.6L1171.2 700.9L1171.7 701.4L1172.2 703L1172.7 704.5L1173.2 703.8L1173.7 701.9L1174.2 701.3L1174.7 701.4L1175.2 702.2L1175.7 702.9L1176.2 701.9L1176.7 701.1L1177.2 701.2L1177.7 701.3L1178.2 701.9L1178.7 703.8L1179.2 704.9L1179.7 703.4L1180.2 702.7L1180.7 703.4L1181.2 703.4L1181.7 703.6L1182.2 703.3L1182.7 703.4L1183.2 704.9L1183.7 705.6L1184.2 704.8L1184.7 704L1185.2 704.2L1185.7 703.7L1186.2 701.8L1186.7 701.1L1187.2 701.3L1187.7 702.2L1188.2 703.1L1188.7 703.5L1189.2 704.4L1189.7 704.6L1190.2 703.3L1190.7 702.7L1191.2 703.8L1191.7 704.9L1192.2 705L1192.7 704.9L1193.2 705.5L1193.7 705.8L1194.2 705L1194.7 704.2L1195.2 704.5L1195.7 703.7L1196.2 703.1L1196.7 703.9L1197.2 704.6L1197.7 705.2L1198.2 704.9L1198.7 704.5L1199.2 704.7L1199.7 703.6L1200.2 702.1L1200.7 702.1L1201.2 703.1L1201.7 704.6L1202.2 705L1202.7 704.2L1203.2 703.7L1203.7 704.6L1204.2 705.7L1204.7 705.5L1205.2 704.5L1205.7 704.7L1206.2 705.4L1206.7 705.5L1207.2 705.8L1207.7 705.1L1208.2 704.7L1208.7 704.9L1209.2 704.7L1209.7 704.8L1210.2 704.7L1210.7 705.1L1211.2 706.2L1211.7 705.2L1212.2 704.5L1212.7 705L1213.2 705.3L1213.7 706.4L1214.2 706.3L1214.7 705L1215.2 704.3L1215.7 703.3L1216.2 702.9L1216.7 702.9L1217.2 702.7L1217.7 702.9L1218.2 703.2L1218.7 702.7L1219.2 701.7L1219.7 702.8L1220.2 704.6L1220.7 704.4L1221.2 703.5L1221.7 703.5L1222.2 705L1222.7 705.9L1223.2 704.9L1223.7 704.3L1224.2 703.6L1224.7 701.7L1225.2 700.5L1225.7 701.2L1226.2 702.9L1226.7 704.1L1227.2 704.1L1227.7 702.7L1228.2 702L1228.7 702.8L1229.2 702.1L1229.7 701.6L1230.2 702.3L1230.7 702.7L1231.2 703.5L1231.7 703.7L1232.2 704L1232.7 703.8L1233.2 702L1233.7 702.3L1234.2 704.5L1234.7 705.5L1235.2 706L1235.7 705.4L1236.2 703.9L1236.7 702.9L1237.2 703.1L1237.7 704.5L1238.2 705L1238.7 704.5L1239.2 704.7L1239.7 704.7L1240.2 704.7L1240.7 704.2L1241.2 703.7L1241.7 704.3L1242.2 704.5L1242.7 704.5L1243.2 704.9L1243.7 704.9L1244.2 705L1244.7 704L1245.2 703.6L1245.7 704.7L1246.2 703.6L1246.7 702.3L1247.2 703.2L1247.7 704.6L1248.2 704.7L1248.7 703.2L1249.2 703L1249.7 703.6L1250.2 702.4L1250.7 702.7L1251.2 704.5L1251.7 704.1L1252.2 702.2L1252.7 701.3L1253.2 700.6L1253.7 700.8L1254.2 702.9L1254.7 703.8L1255.2 702.3L1255.7 700.9L1256.2 700.8L1256.7 701.4L1257.2 701.9L1257.7 701.6L1258.2 701.3L1258.7 701.9L1259.2 701.6L1259.7 699.8L1260.2 699.5L1260.7 700.9L1261.2 701.7L1261.7 702.1L1262.2 702.7L1262.7 702L1263.2 702L1263.7 703.4L1264.2 704.2L1264.7 704.2L1265.2 703.2L1265.7 702.4L1266.2 703.5L1266.7 704.1L1267.2 703.5L1267.7 703.6L1268.2 702.5L1268.7 701.4L1269.2 702.3L1269.7 703.8L1270.2 704.8L1270.7 705L1271.2 705L1271.7 705.4L1272.2 704.7L1272.7 703.9L1273.2 704.4L1273.7 705.4L1274.2 705.7L1274.7 705.5L1275.2 705L1275.7 704.6L1276.2 705.7L1276.7 707.3L1277.2 706.9L1277.7 706.4L1278.2 706.8L1278.7 707.2L1279.2 708L1279.7 708.7L1280.2 708.1L1280.7 707.1L1281.2 706L1281.7 705.9L1282.2 706.3L1282.7 705.1L1283.2 705L1283.7 706.5L1284.2 705.8L1284.7 705.5L1285.2 705.9L1285.7 704L1286.2 703.5L1286.7 704.8L1287.2 705.6L1287.7 706.7L1288.2 707.3L1288.7 706.9L1289.2 706.3L1289.7 706.1L1290.2 705.5L1290.7 704.2L1291.2 703.3L1291.7 703.1L1292.2 702.8L1292.7 703.5L1293.2 704L1293.7 703.9L1294.2 704.6L1294.7 705L1295.2 705.5L1295.7 705.6L1296.2 705.2L1296.7 706.1L1297.2 705.5L1297.7 705L1298.2 706.2L1298.7 706.8L1299.2 707.7L1299.7 708.4L1300.2 708.7L1300.7 707.8L1301.2 706.6L1301.7 707.4L1302.2 708.3L1302.7 708.3L1303.2 707.1L1303.7 706.5L1304.2 707.1L1304.7 707.2L1305.2 708.2L1305.7 708.3L1306.2 707.4L1306.7 708.4L1307.2 710.1L1307.7 709.9L1308.2 709L1308.7 708.8L1309.2 708.9L1309.7 710.1L1310.2 710.7L1310.7 709.7L1311.2 709L1311.7 710L1312.2 712.1L1312.7 712.6L1313.2 711.9L1313.7 712.7L1314.2 712.8L1314.7 711.9L1315.2 712.3L1315.7 712.2L1316.2 711.4L1316.7 711.2L1317.2 710.2L1317.7 710.4L1318.2 712.6L1318.7 713.1L1319.2 711.5L1319.7 710.4L1320.2 711.4L1320.7 712.5L1321.2 711.4L1321.7 710.8L1322.2 710.8L1322.7 709.2L1323.2 709.7L1323.7 711.8L1324.2 711.7L1324.7 711.4L1325.2 711L1325.7 710.5L1326.2 712L1326.7 712.9L1327.2 711.7L1327.7 711.1L1328.2 711.3L1328.7 710.7L1329.2 709.9L1329.7 710.8L1330.2 712L1330.7 710.9L1331.2 709.1L1331.7 709.4L1332.2 711L1332.7 713L1333.2 714.1L1333.7 713.6L1334.2 711.9L1334.7 710.2L1335.2 709.9L1335.7 710.8L1336.2 712L1336.7 711.7L1337.2 710.6L1337.7 711.7L1338.2 713.2L1338.7 712.8L1339.2 711.9L1339.7 712.2L1340.2 712.7L1340.7 712.2L1341.2 711.9L1341.7 713L1342.2 714.2L1342.7 714.7L1343.2 714.2L1343.7 713.1L1344.2 713.5L1344.7 714.4L1345.2 714.6L1345.7 715L1346.2 715.3L1346.7 716.3L1347.2 716.5L1347.7 715.4L1348.2 715L1348.7 715.7L1349.2 716.8L1349.7 716.8L1350.2 715.7L1350.7 715.9L1351.2 716.8L1351.7 716.1L1352.2 716.3L1352.7 718.4L1353.2 718.9L1353.7 717.9L1354.2 717.2L1354.7 716.4L1355.2 715.5L1355.7 715.3L1356.2 715.5L1356.7 716.8L1357.2 718.2L1357.7 717.6L1358.2 716.4L1358.7 716.7L1359.2 716.2L1359.7 715.1L1360.2 715.4L1360.7 715.9L1361.2 714.9L1361.7 713.9L1362.2 714.8L1362.7 715.9L1363.2 715.4L1363.7 714.9L1364.2 714.6L1364.7 715.2L1365.2 716.3L1365.7 715.8L1366.2 715.5L1366.7 715.9L1367.2 717.2L1367.7 717.8L1368.2 717.7L1368.7 718.1L1369.2 718.7L1369.7 718L1370.2 716.1L1370.7 715.9L1371.2 717.5L1371.7 717.9L1372.2 717.2L1372.7 717.2L1373.2 717.9L1373.7 718.2L1374.2 718.3L1374.7 719.1L1375.2 719.8L1375.7 720L1376.2 720.5L1376.7 720.9L1377.2 721.1L1377.7 721L1378.2 721.4L1378.7 722.2L1379.2 722.9L1379.7 723.3L1380.2 723.8L1380.7 724.8L1381.2 725.7L1381.7 726.7L1382.2 727.4L1382.7 728.2L1383.2 729.2L1383.7 730.4L1384.2 731.4L1384.7 732.3L1385.2 733.3L1385.7 734.4L1386.2 735.2L1386.7 736.1L1387.2 737.2L1387.7 738.4L1388.2 739.3L1388.7 740.2L1389.2 741.2L1389.7 742.2L1390.2 743.1L1390.7 744.5L1391.2 745.7L1391.7 746.9L1392.2 748.3L1392.7 749.6L1393.2 750.7L1393.7 751.9L1394.2 753.1L1394.7 755.5L1395.2 757.9L1395.7 760.3L1396.2 762.7L1396.7 765.2L1397.2 767.6L1397.7 770L1398.2 772.4L1398.7 774.8L1399.2 777.2L1399.7 779.6L1400.2 782L1400.7 784.5L1401.2 786.9L1401.7 789.4L1402.2 791.8L1402.7 794.8L1403.2 797.7L1403.7 800.7L1404.2 803.6L1404.7 806.6L1405.2 809.6L1405.7 812.5L1406.2 815.5L1406.7 818.5L1407.2 821.4L1407.7 824.4L1408.2 827.3L1408.7 830.3L1409.2 833.3L1409.7 836.2L1410.2 839.2L1410.7 842.1L1411.2 845.1L1411.7 848.1L1412.2 851L1412.7 854L1413.2 857L1413.7 859.9L1414.2 862.9L1414.7 865.8L1415.2 868.8L1415.7 871.9L1416.2 874.9L1416.7 878L1417.2 881.1L1417.7 884.2L1418.2 887.2L1418.7 890.3L1419.2 893.4L1419.7 896.4L1420.2 899.5L1420.7 901.5L1421.2 903.5L1421.7 905.4L1422.2 907.5L1422.7 909.5L1423.2 911.4L1423.7 913.3L1424.2 915.3L1424.7 917.3L1425.2 919.3L1425.7 921.3L1426.2 923.2L1426.7 925.3L1427.2 926.6L1427.7 927.8L1428.2 929.2L1428.7 930.4L1429.2 931.7L1429.7 933.1L1430.2 934.5L1430.7 935.7L1431.2 937.1L1431.7 938.4L1432.2 939.7L1432.7 941.1L1433.2 942.5L1433.7 943.7L1434.2 945L1434.7 946.3L1435.2 947.2L1435.7 948L1436.2 949L1436.7 950L1437.2 951L1437.7 952.2L1438.2 953.3L1438.7 954.1L1439.2 954.9L1439.7 955.9L1440.2 957.1L1440.7 958.5L1441.2 959.6L1441.7 960.5L1442.2 961.1L1442.7 961.8L1443.2 962.9L1443.7 964L1444.2 964.9L1444.7 965.7L1445.2 966.4L1445.7 966.8L1446.2 967.4L1446.7 968.1L1447.2 968.9L1447.7 969.8L1448.2 970.7L1448.7 971.7L1449.2 972.6L1449.7 973.4L1450.2 974.8L1450.7 976.5L1451.2 978L1451.7 979.5L1452.2 980.9L1452.7 982.5L1453.2 984L1453.7 985.4L1454.2 986.9L1454.7 988.5L1455.2 990L1455.7 991.4L1456.2 992.9L1456.7 994.4L1457.2 995.9L1457.7 997.4L1458.2 998.7L1458.7 1000.1L1459.2 1001.6L1459.7 1002.9L1460.2 1004.3L1460.7 1005.1L1461.2 1006L1461.7 1006.6L1462.2 1007L1462.7 1007.2L1463.2 1007.8L1463.7 1008.5L1464.2 1008.9L1464.7 1010L1465.2 1011.1L1465.7 1011.4L1466.2 1011.6L1466.7 1012.6L1467.2 1013.6L1467.7 1014.1L1468.2 1013.8L1468.7 1013.5L1469.2 1013.8L1469.7 1013.6L1470.2 1013.6L1470.7 1014.4L1471.2 1015.3L1471.7 1015.9L1472.2 1015.6L1472.7 1015.5L1473.2 1016L1473.7 1016.4L1474.2 1017.2L1474.7 1018L1475.2 1017.9L1475.7 1017.8L1476.2 1017.3L1476.7 1016.4L1477.2 1016.1L1477.7 1017.2L1478.2 1019.2L1478.7 1020.1L1479.2 1019.6L1479.7 1019.6L1480.2 1020.3L1480.7 1020.5L1481.2 1019.5L1481.7 1019.3L1482.2 1019.9L1482.7 1019.7L1483.2 1019.7L1483.7 1020.3L1484.2 1020.7L1484.7 1021.1L1485.2 1020.4L1485.7 1020.1L1486.2 1020.9L1486.7 1020.2L1487.2 1019.7L1487.7 1020.4L1488.2 1020.8L1488.7 1021.2L1489.2 1022L1489.7 1023.1L1490.2 1023.9L1490.7 1024.9L1491.2 1026L1491.7 1026.9L1492.2 1027.3L1492.7 1027.8L1493.2 1028.9L1493.7 1029.9L1494.2 1030.6L1494.7 1031.3L1495.2 1032L1495.7 1032.9L1496.2 1033.8L1496.7 1034.9L1497.2 1036.2L1497.7 1037.6L1498.2 1039L1498.7 1040.4L1499.2 1041.9L1499.7 1043.2L1500.2 1043.6L1500.7 1043.9L1501.2 1044L1501.7 1042.8L1502.2 1042.1L1502.7 1042.7L1503.2 1043L1503.7 1044.6L1504.2 1046.5L1504.7 1046.5L1505.2 1045.1L1505.7 1045L1506.2 1046.1L1506.7 1045.1L1507.2 1044.6L1507.7 1046.1L1508.2 1046.5L1508.7 1045.7L1509.2 1046.1L1509.7 1046.5L1510.2 1045.2L1510.7 1045L1511.2 1046.3L1511.7 1046L1512.2 1046.3L1512.7 1048.6L1513.2 1049.5L1513.7 1048.4L1514.2 1046.9L1514.7 1045.8L1515.2 1046.2L1515.7 1047.6L1516.2 1047.7L1516.7 1046.9L1517.2 1047.2L1517.7 1048.4L1518.2 1048.5L1518.7 1048.4L1519.2 1048.7L1519.7 1047.8L1520.2 1047L1520.7 1048.2L1521.2 1047.9L1521.7 1047.4L1522.2 1049.1L1522.7 1050.1L1523.2 1049.8L1523.7 1049L1524.2 1048.1L1524.7 1048.9L1525.2 1049.7L1525.7 1049.8L1526.2 1049.9L1526.7 1050.3L1527.2 1050.6L1527.7 1050.6L1528.2 1050.7L1528.7 1051.8L1529.2 1053.2L1529.7 1053.6L1530.2 1053.3L1530.7 1053.3L1531.2 1054L1531.7 1055.3L1532.2 1056.2L1532.7 1056.5L1533.2 1057.1L1533.7 1057.8L1534.2 1058.1L1534.7 1057.8L1535.2 1058.5L1535.7 1059.7L1536.2 1060.2L1536.7 1060.4L1537.2 1061.2L1537.7 1061.7L1538.2 1061.9L1538.7 1062.9L1539.2 1064.3L1539.7 1065L1540.2 1064.9L1540.7 1064.8L1541.2 1064.6L1541.7 1063.4L1542.2 1062.4L1542.7 1063.8L1543.2 1066.3L1543.7 1066.7L1544.2 1064.9L1544.7 1063.7L1545.2 1063.9L1545.7 1065L1546.2 1065L1546.7 1064.3L1547.2 1065L1547.7 1065.7L1548.2 1064.7L1548.7 1063.4L1549.2 1063.5L1549.7 1063.5L1550.2 1062.4L1550.7 1061.7L1551.2 1062L1551.7 1062.3L1552.2 1061.9L1552.7 1062L1553.2 1062.4L1553.7 1062.5L1554.2 1062.3L1554.7 1062.3L1555.2 1062.4L1555.7 1061.4L1556.2 1060.3L1556.7 1060.8L1557.2 1061.9L1557.7 1061.7L1558.2 1061.2L1558.7 1060.7L1559.2 1061.1L1559.7 1062.2L1560.2 1062.3L1560.7 1061.8L1561.2 1062.1L1561.7 1063L1562.2 1063.3L1562.7 1063.7L1563.2 1064.5L1563.7 1065L1564.2 1065.4L1564.7 1066.4L1565.2 1067.1L1565.7 1067.2L1566.2 1067.5L1566.7 1068L1567.2 1068.7L1567.7 1069.6L1568.2 1070.4L1568.7 1071L1569.2 1071.6L1569.7 1072.1L1570.2 1072.5L1570.7 1072.9L1571.2 1073.8L1571.7 1074.4L1572.2 1074.9L1572.7 1075.4L1573.2 1075.2L1573.7 1074.4L1574.2 1073.8L1574.7 1072.7L1575.2 1072.7L1575.7 1073.2L1576.2 1073L1576.7 1073.4L1577.2 1073L1577.7 1072L1578.2 1071.5L1578.7 1072.2L1579.2 1073.1L1579.7 1071.8L1580.2 1070.8L1580.7 1071.5L1581.2 1071.1L1581.7 1070.2L1582.2 1070.2L1582.7 1070.2L1583.2 1070.1L1583.7 1070.3L1584.2 1071.3L1584.7 1072.2L1585.2 1072.6L1585.7 1072.3L1586.2 1071.6L1586.7 1071.7L1587.2 1072.1L1587.7 1071.1L1588.2 1068.7L1588.7 1068.1L1589.2 1068.7L1589.7 1067.7L1590.2 1067.6L1590.7 1069.1L1591.2 1069L1591.7 1068.5L1592.2 1069.2L1592.7 1070.5L1593.2 1070.7L1593.7 1070.5L1594.2 1071.6L1594.7 1072.3L1595.2 1072.3L1595.7 1072.9L1596.2 1073.4L1596.7 1073.1L1597.2 1073L1597.7 1073.2L1598.2 1073.4L1598.7 1073.8L1599.2 1074.2L1599.7 1074.8L1600.2 1075.2L1600.7 1075.6L1601.2 1076.7L1601.7 1077.6L1602.2 1077.7L1602.7 1078.1L1603.2 1078.9L1603.7 1079.5L1604.2 1080L1604.7 1080.6L1605.2 1081L1605.7 1081.5L1606.2 1082L1606.7 1082.6L1607.2 1083.3L1607.7 1083.4L1608.2 1083.5L1608.7 1084.7L1609.2 1085.5L1609.7 1084.2L1610.2 1083.3L1610.7 1083.1L1611.2 1082.3L1611.7 1082.7L1612.2 1083.6L1612.7 1084L1613.2 1084.8L1613.7 1084.3L1614.2 1082.5L1614.7 1081.3L1615.2 1080.9L1615.7 1081L1616.2 1080.8L1616.7 1081.3L1617.2 1082.7L1617.7 1083.1L1618.2 1081.5L1618.7 1080.1L1619.2 1081L1619.7 1082.7L1620.2 1083.3L1620.7 1082.5L1621.2 1081.5L1621.7 1081.3L1622.2 1080.5L1622.7 1080L1623.2 1080L1623.7 1079.3L1624.2 1080L1624.7 1080.8L1625.2 1080.5L1625.7 1080.8L1626.2 1080.3L1626.7 1078.8L1627.2 1078.3L1627.7 1077.6L1628.2 1077.8L1628.7 1079.3L1629.2 1079.3L1629.7 1078.9L1630.2 1078.6L1630.7 1077.6L1631.2 1076.7L1631.7 1076.3L1632.2 1076L1632.7 1075.8L1633.2 1076.3L1633.7 1076.3L1634.2 1076.1L1634.7 1076.3L1635.2 1075.6L1635.7 1074.4L1636.2 1074.4L1636.7 1074.4L1637.2 1074.3L1637.7 1074.4L1638.2 1074.2L1638.7 1073.9L1639.2 1073.1L1639.7 1072.4L1640.2 1071.9L1640.7 1071.6L1641.2 1071.9L1641.7 1072.3L1642.2 1073.1L1642.7 1074.2L1643.2 1074.4L1643.7 1073.9L1644.2 1074.2L1644.7 1075.3L1645.2 1075.6L1645.7 1075.1L1646.2 1075.6L1646.7 1076.7L1647.2 1077.3L1647.7 1077.6L1648.2 1077.7L1648.7 1077.4L1649.2 1077.6L1649.7 1078L1650.2 1078.8L1650.7 1080.2L1651.2 1081.1L1651.7 1081.5L1652.2 1082L1652.7 1082.5L1653.2 1083.1L1653.7 1083.6L1654.2 1084.2L1654.7 1084.9L1655.2 1084.7L1655.7 1084L1656.2 1084.6L1656.7 1085.9L1657.2 1085.9L1657.7 1084.5L1658.2 1083.8L1658.7 1084.3L1659.2 1083.8L1659.7 1084.1L1660.2 1085.1L1660.7 1084L1661.2 1082.2L1661.7 1082.5L1662.2 1083.5L1662.7 1083.2L1663.2 1083.2L1663.7 1082.5L1664.2 1082.1L1664.7 1082.2L1665.2 1082.3L1665.7 1081.9L1666.2 1081.1L1666.7 1081.2L1667.2 1081.4L1667.7 1080.8L1668.2 1079.5L1668.7 1078.5L1669.2 1078.3L1669.7 1078.1L1670.2 1077.6L1670.7 1077.6L1671.2 1077.6L1671.7 1076.4L1672.2 1075.9L1672.7 1076.3L1673.2 1075.1L1673.7 1073.9L1674.2 1073.7L1674.7 1073.5L1675.2 1074.1L1675.7 1075.9L1676.2 1077.2L1676.7 1076.5L1677.2 1075.3L1677.7 1074.6L1678.2 1074L1678.7 1074L1679.2 1073.5L1679.7 1072.8L1680.2 1073.6L1680.7 1074.5L1681.2 1074L1681.7 1073.2L1682.2 1073.9L1682.7 1074.2L1683.2 1074.1L1683.7 1075.1L1684.2 1075.7L1684.7 1075.4L1685.2 1075.8L1685.7 1076.4L1686.2 1076.4L1686.7 1076L1687.2 1076.6L1687.7 1077.3L1688.2 1076.7L1688.7 1077.3L1689.2 1079L1689.7 1080L1690.2 1079.6L1690.7 1079.2L1691.2 1079.9L1691.7 1079.5L1692.2 1079.4L1692.7 1080.7L1693.2 1080.7L1693.7 1080.2L1694.2 1080.8L1694.7 1081.6L1695.2 1082.5L1695.7 1082.5L1696.2 1081.4L1696.7 1081.8L1697.2 1083.2L1697.7 1082.7L1698.2 1082.3L1698.7 1083.3L1699.2 1082.9L1699.7 1081.3L1700.2 1080.6L1700.7 1081.1L1701.2 1081.4L1701.7 1081.4L1702.2 1081.2L1702.7 1080L1703.2 1079.1L1703.7 1079.3L1704.2 1079.1L1704.7 1078.5L1705.2 1078.9L1705.7 1079.5L1706.2 1079.6L1706.7 1080.1L1707.2 1079.5L1707.7 1078.4L1708.2 1078.3L1708.7 1077.9L1709.2 1077.9L1709.7 1077.5L1710.2 1076.3L1710.7 1075.8L1711.2 1075.8L1711.7 1076.1L1712.2 1075.7L1712.7 1074.9L1713.2 1074.6L1713.7 1074.3L1714.2 1073.8L1714.7 1073.3L1715.2 1073L1715.7 1073.1L1716.2 1073.7L1716.7 1074.2L1717.2 1073.6L1717.7 1072.1L1718.2 1072.3L1718.7 1073.6L1719.2 1073.9L1719.7 1074.1L1720.2 1075.1L1720.7 1075.4L1721.2 1074.9L1721.7 1074.6L1722.2 1074.7L1722.7 1075.7L1723.2 1076.4L1723.7 1077L1724.2 1077.6L1724.7 1077.7L1725.2 1077.7L1725.7 1076.9L1726.2 1076.6L1726.7 1077.3L1727.2 1077.7L1727.7 1078.9L1728.2 1079.9L1728.7 1079.4L1729.2 1078.7L1729.7 1079.1L1730.2 1080.2L1730.7 1080.2L1731.2 1080.2L1731.7 1081.1L1732.2 1081L1732.7 1079.2L1733.2 1078L1733.7 1078.1L1734.2 1079.6L1734.7 1081.3L1735.2 1081.1L1735.7 1079.3L1736.2 1078.9L1736.7 1079.7L1737.2 1079L1737.7 1078.6L1738.2 1079.9L1738.7 1080.8L1739.2 1079.9L1739.7 1078.9L1740.2 1079L1740.7 1079L1741.2 1078.9L1741.7 1079L1742.2 1078.4L1742.7 1077.6L1743.2 1076.9L1743.7 1076.5L1744.2 1077L1744.7 1077.8L1745.2 1077.7L1745.7 1077.2L1746.2 1076.5L1746.7 1076.1L1747.2 1075.9L1747.7 1074.5L1748.2 1073L1748.7 1072.5L1749.2 1073.1L1749.7 1074.2L1750.2 1073.4L1750.7 1072L1751.2 1072.1L1751.7 1072.7L1752.2 1073.8L1752.7 1073.5L1753.2 1072.3L1753.7 1073.3L1754.2 1073L1754.7 1071.4L1755.2 1071.3L1755.7 1071.8L1756.2 1072.3L1756.7 1072.5L1757.2 1072.9L1757.7 1073.6L1758.2 1074L1758.7 1074.8L1759.2 1076.6L1759.7 1077.5" stroke="#f00" stroke-width="6.8"/>
<path d="M257 1007L257.5 995.8L258 984.7L258.5 973.5L259 962.3L259.5 951.1L260 940L260.5 928.8L261 917.6L261.5 906.4L262 895.3L262.5 884.1L263 872.9L263.5 861.7L264 850.6L264.5 839.4L265 828.2L265.5 817L266 805.9L266.5 794.7L267 783.5L267.5 772.3L268 761.2L268.5 750L269 738.1L269.5 726.2L270 714.3L270.5 702.4L271 695.6L271.5 690L272 687.8L272.5 685.6L273 683.4L273.5 682.5L274 681.6L274.5 680.6L275 679.5L275.5 679L276 678.8L276.5 679L277 678.9L277.5 677.9L278 678.3L278.5 678.3L279 677.8L279.5 678.5L280 678.5L280.5 677L281 676.9L281.5 678.1L282 677.9L282.5 677.9L283 679.2L283.5 679.3L284 677.9L284.5 677L285 677.1L285.5 677L286 677.9L286.5 679.3L287 679.4L287.5 679.2L288 678.3L288.5 678.2L289 679.1L289.5 679.5L290 679.2L290.5 678.8L291 678.5L291.5 677.4L292 677.4L292.5 678.8L293 678L293.5 676.9L294 678.4L294.5 680.1L295 680.1L295.5 678.4L296 677.2L296.5 677.3L297 677.7L297.5 677.9L298 677.2L298.5 677.7L299 678.7L299.5 678.2L300 677.6L300.5 677.4L301 677.5L301.5 677.1L302 676.4L302.5 677.5L303 677.8L303.5 676.5L304 677L304.5 678.5L305 678.8L305.5 677.3L306 675.6L306.5 676.2L307 677.7L307.5 678.2L308 677.7L308.5 676.8L309 676.5L309.5 677.5L310 677.6L310.5 676.7L311 677.2L311.5 677.3L312 676.2L312.5 675.6L313 676.4L313.5 676L314 674.7L314.5 674.9L315 675.6L315.5 675.9L316 676.4L316.5 676.8L317 676.3L317.5 676L318 676.7L318.5 677.2L319 677.1L319.5 677.5L320 676.9L320.5 674.8L321 673.7L321.5 674.6L322 676.2L322.5 675.9L323 674.4L323.5 674.5L324 674.9L324.5 675.5L325 676.7L325.5 676.4L326 674.9L326.5 674.4L327 674.2L327.5 673.6L328 673.7L328.5 674.8L329 675.2L329.5 674.2L330 674L330.5 674.4L331 672.9L331.5 671.2L332 672.2L332.5 674.8L333 675.9L333.5 675.9L334 676L334.5 675.9L335 675.4L335.5 674.6L336 673L336.5 672.8L337 674.9L337.5 674.6L338 671.6L338.5 671L339 672.2L339.5 672.9L340 673.8L340.5 674.5L341 674.2L341.5 673.2L342 672.3L342.5 671.9L343 673L343.5 673.8L344 673.8L344.5 674L345 674L345.5 673.2L346 671L346.5 670.4L347 670.8L347.5 671L348 672.5L348.5 672.7L349 670.7L349.5 669.9L350 670.2L350.5 670.7L351 672L351.5 672.6L352 671.9L352.5 672.7L353 673.2L353.5 671.5L354 671.3L354.5 672.8L355 672.8L355.5 670.7L356 669.2L356.5 670L357 671.5L357.5 671L358 670.8L358.5 672.2L359 672.7L359.5 672.9L360 673.3L360.5 673.2L361 671.9L361.5 669.9L362 669.6L362.5 670.3L363 670L363.5 669L364 668.7L364.5 668.8L365 669.8L365.5 671.2L366 671L366.5 669.9L367 670.7L367.5 671.2L368 671.2L368.5 672.8L369 673.6L369.5 673.3L370 672.5L370.5 671.1L371 671.2L371.5 672.4L372 672.5L372.5 671.9L373 670.7L373.5 670.5L374 671.3L374.5 671.3L375 671.9L375.5 672L376 670.1L376.5 670.3L377 672.1L377.5 672.4L378 672.2L378.5 671.8L379 671.5L379.5 671.9L380 672L380.5 671.5L381 670.9L381.5 671.2L382 671.2L382.5 670.5L383 670.5L383.5 670.7L384 670.2L384.5 668.8L385 668.8L385.5 670L386 669.4L386.5 668.2L387 668.6L387.5 669L388 668.4L388.5 667.7L389 667.1L389.5 666.9L390 668.1L390.5 669.5L391 669.8L391.5 669.2L392 668.4L392.5 668.5L393 668.5L393.5 668.4L394 668.8L394.5 668.6L395 669.3L395.5 669.7L396 669.2L396.5 668.8L397 668.3L397.5 668.5L398 668.7L398.5 668.8L399 667.8L399.5 667.6L400 669.1L400.5 668.3L401 667.2L401.5 667.5L402 666.6L402.5 666.2L403 667L403.5 667.6L404 667.9L404.5 667.4L405 666.1L405.5 666.1L406 666.4L406.5 666.2L407 666.1L407.5 665.8L408 666.1L408.5 666.2L409 666L409.5 665L410 663.8L410.5 664.1L411 665L411.5 665.3L412 665.2L412.5 665.3L413 665L413.5 664.2L414 663.8L414.5 663.9L415 663.5L415.5 662.2L416 661.4L416.5 661.2L417 660.6L417.5 660.7L418 661.8L418.5 662.3L419 661.5L419.5 660.2L420 659.2L420.5 659.3L421 660L421.5 659.6L422 658.8L422.5 658.5L423 658.1L423.5 657.4L424 657.1L424.5 657.1L425 656.4L425.5 655.4L426 654.4L426.5 653.8L427 653.5L427.5 652.9L428 652.3L428.5 651.6L429 650.9L429.5 650.4L430 650.2L430.5 649.5L431 648.6L431.5 648.1L432 647.4L432.5 646.4L433 645.6L433.5 644.8L434 643.8L434.5 643.1L435 642.6L435.5 641.6L436 640.2L436.5 639.2L437 638.5L437.5 637.8L438 637.5L438.5 637.1L439 636.3L439.5 635.7L440 635.2L440.5 634.4L441 633.8L441.5 633L442 631.8L442.5 630.9L443 630.5L443.5 629.9L444 629.2L444.5 628.7L445 628L445.5 627.3L446 626.2L446.5 624.9L447 623.7L447.5 622.6L448 621.6L448.5 619.7L449 616.7L449.5 613.8L450 610.4L450.5 605.6L451 600.7L451.5 595.4L452 590L452.5 583.5L453 577L453.5 570.5L454 564L454.5 557.5L455 551L455.5 544.6L456 538.1L456.5 531.6L457 525.1L457.5 518.6L458 513.3L458.5 508L459 502.7L459.5 497.4L460 492.1L460.5 486.7L461 481.4L461.5 476.1L462 470.8L462.5 465.5L463 460.2L463.5 454.9L464 449.6L464.5 444.2L465 438.9L465.5 433.6L466 428.3L466.5 423.2L467 418.2L467.5 413.1L468 408.1L468.5 403.1L469 398.1L469.5 393.1L470 388L470.5 383L471 378L471.5 375.3L472 372.5L472.5 369.7L473 367L473.5 365.4L474 363.7L474.5 362L475 360.4L475.5 359.2L476 358L476.5 356.7L477 356L477.5 355.5L478 354.8L478.5 354.1L479 353.3L479.5 352.5L480 351.8L480.5 352L481 352.6L481.5 353.3L482 353.3L482.5 353.5L483 353.6L483.5 351.9L484 351L484.5 352.5L485 352L485.5 349.8L486 349.4L486.5 350L487 350.7L487.5 350.9L488 350.4L488.5 350.3L489 350.3L489.5 351L490 352.3L490.5 353L491 352.2L491.5 350.6L492 350.5L492.5 351.3L493 351.9L493.5 351.1L494 349.5L494.5 350.2L495 351.9L495.5 352L496 351.8L496.5 351.2L497 350.2L497.5 350.4L498 350.3L498.5 350.5L499 351.2L499.5 349.8L500 349.7L500.5 351.1L501 351.2L501.5 350.6L502 350.2L502.5 350.2L503 349.7L503.5 350L504 351.5L504.5 351.8L505 351.1L505.5 350.1L506 350L506.5 351.5L507 351.7L507.5 350.7L508 352.3L508.5 352.7L509 350.1L509.5 350.1L510 352.9L510.5 354.1L511 354.1L511.5 353.3L512 350.9L512.5 349.5L513 350.6L513.5 352L514 352.5L514.5 352.2L515 351L515.5 351.6L516 352.1L516.5 350.9L517 351.2L517.5 352.2L518 353L518.5 353.8L519 352.9L519.5 351.2L520 350.3L520.5 350.1L521 351L521.5 352.9L522 352.5L522.5 350.8L523 351L523.5 351.4L524 350.5L524.5 350.6L525 351L525.5 350.5L526 350.3L526.5 350.6L527 351.1L527.5 350.8L528 349.5L528.5 349.9L529 351.8L529.5 353L530 353L530.5 352.5L531 353.3L531.5 354.3L532 354.4L532.5 354.4L533 353.8L533.5 352.5L534 351.6L534.5 350.9L535 350.5L535.5 350.4L536 350.7L536.5 351.2L537 352.1L537.5 353L538 352.6L538.5 351.6L539 351.1L539.5 351.3L540 351.4L540.5 350.8L541 351.4L541.5 352L542 350.6L542.5 350.4L543 352.1L543.5 352.9L544 352.4L544.5 352.8L545 354L545.5 353.1L546 351.1L546.5 351.4L547 351.8L547.5 351.5L548 352.1L548.5 351.4L549 351.1L549.5 352.7L550 353L550.5 352.2L551 352.5L551.5 352.9L552 351.8L552.5 350.7L553 351.3L553.5 351.3L554 350.1L554.5 349.9L555 350.6L555.5 349.6L556 349.1L556.5 349.9L557 350.8L557.5 352.6L558 353.3L558.5 351.5L559 350.1L559.5 351.6L560 353.4L560.5 353L561 352.4L561.5 352.2L562 351.1L562.5 350.5L563 350.2L563.5 349.4L564 350.1L564.5 350.7L565 349.9L565.5 350.4L566 351.4L566.5 351.1L567 350L567.5 349.2L568 350L568.5 351L569 350.1L569.5 348.8L570 349.6L570.5 352L571 352.5L571.5 351.6L572 351.2L572.5 351.4L573 352.6L573.5 353.2L574 352.1L574.5 350.9L575 351.3L575.5 351.7L576 350.4L576.5 350.3L577 350.9L577.5 350.5L578 350.3L578.5 350.9L579 351.6L579.5 350.3L580 348.8L580.5 350L581 351.3L581.5 351.3L582 351.2L582.5 351.7L583 351.2L583.5 350.5L584 351.8L584.5 352.1L585 349.9L585.5 349.6L586 350.7L586.5 351.1L587 351.4L587.5 351.5L588 352.4L588.5 352.2L589 350.4L589.5 350.4L590 351.5L590.5 350.9L591 350.3L591.5 351.9L592 352.4L592.5 351L593 350.5L593.5 350.8L594 350.8L594.5 350.3L595 350.1L595.5 348.9L596 348.2L596.5 349.8L597 350.9L597.5 350.2L598 350.8L598.5 351.5L599 349.8L599.5 347.9L600 348.2L600.5 349.2L601 349.5L601.5 350.1L602 350.6L602.5 351.7L603 351.8L603.5 350.8L604 350.1L604.5 349.9L605 350.1L605.5 350L606 349.6L606.5 349.9L607 350.8L607.5 351L608 351.5L608.5 352.5L609 352.7L609.5 352.6L610 351.6L610.5 350.4L611 350.2L611.5 351.2L612 351.3L612.5 351.3L613 351.8L613.5 350.6L614 350L614.5 351.7L615 352.1L615.5 351.4L616 351.3L616.5 350.1L617 349.8L617.5 350.5L618 349.9L618.5 348.8L619 348.4L619.5 348.6L620 349.4L620.5 349.5L621 348.8L621.5 349L622 349.7L622.5 350.8L623 350.7L623.5 349.3L624 350.2L624.5 350.6L625 348.3L625.5 347.7L626 349.4L626.5 350.7L627 350L627.5 348.6L628 348.7L628.5 349.6L629 349.6L629.5 347.9L630 346.7L630.5 347.5L631 348.7L631.5 349.6L632 350.8L632.5 351.3L633 350.5L633.5 349.4L634 349L634.5 349L635 348.4L635.5 348.8L636 351L636.5 351.3L637 350L637.5 349.4L638 348.8L638.5 348.7L639 349.8L639.5 351L640 350.9L640.5 350.1L641 349.6L641.5 349.5L642 349L642.5 348.7L643 349.2L643.5 348.7L644 348.4L644.5 348.9L645 348.8L645.5 348.7L646 348L646.5 348.1L647 349.1L647.5 349.8L648 351.6L648.5 353.2L649 352.4L649.5 350.5L650 350L650.5 350L651 350.5L651.5 351L652 349.7L652.5 349L653 349.7L653.5 350.8L654 352.3L654.5 352.4L655 352L655.5 352.7L656 352L656.5 350.2L657 350.1L657.5 351.4L658 351.7L658.5 350.2L659 348.3L659.5 348.4L660 349.4L660.5 349.4L661 350.3L661.5 351.6L662 350.8L662.5 349.4L663 349L663.5 349.4L664 350.9L664.5 351.9L665 351.7L665.5 351.1L666 350.5L666.5 350.2L667 349L667.5 348.2L668 349.4L668.5 350.1L669 349.5L669.5 350.1L670 349.9L670.5 348.3L671 348.6L671.5 349.5L672 349.3L672.5 348.5L673 349.2L673.5 350.8L674 351.2L674.5 350.4L675 349.7L675.5 349.8L676 349.8L676.5 348.8L677 347.7L677.5 347.4L678 348.7L678.5 350.2L679 350.1L679.5 348.9L680 348.4L680.5 348.5L681 348.2L681.5 349.5L682 350.2L682.5 349L683 348.4L683.5 348.2L684 348.6L684.5 349.1L685 348.7L685.5 349L686 350.2L686.5 349.9L687 348.9L687.5 349.3L688 349.3L688.5 347.8L689 347L689.5 348.2L690 349.4L690.5 348.2L691 347.2L691.5 347.9L692 348.6L692.5 348.1L693 348.1L693.5 349.1L694 349.6L694.5 350.5L695 350.6L695.5 349.6L696 349.9L696.5 350.3L697 348.7L697.5 348.6L698 350L698.5 350.1L699 351.5L699.5 351.8L700 350.6L700.5 350.3L701 350.4L701.5 350.8L702 350.7L702.5 351.6L703 352.1L703.5 351.9L704 351.9L704.5 350.7L705 349.5L705.5 349.6L706 349.2L706.5 348.9L707 350.6L707.5 351.1L708 350.2L708.5 350.5L709 349.5L709.5 349.2L710 351L710.5 350.6L711 348.9L711.5 347.9L712 348L712.5 348.6L713 348.1L713.5 348L714 349.7L714.5 350.1L715 348.2L715.5 347.6L716 348.1L716.5 348.2L717 349.3L717.5 350L718 348.5L718.5 347.9L719 348.9L719.5 348.6L720 348.6L720.5 349.7L721 350.2L721.5 349.7L722 349.4L722.5 349L723 348.5L723.5 348.6L724 348.9L724.5 350.1L725 350.2L725.5 348.3L726 346.9L726.5 346.9L727 348.1L727.5 348.7L728 347.7L728.5 346.5L729 346.7L729.5 348.3L730 348L730.5 346.7L731 346.4L731.5 347L732 347.5L732.5 347.4L733 348.3L733.5 349L734 349.2L734.5 348.1L735 346.3L735.5 347.2L736 349L736.5 349.4L737 349.5L737.5 349.3L738 348.7L738.5 348.2L739 346.8L739.5 347L740 348.3L740.5 347.4L741 346.3L741.5 346.4L742 346.2L742.5 347.1L743 348.2L743.5 347L744 346.7L744.5 347.7L745 346.8L745.5 346L746 346.6L746.5 347.3L747 347.3L747.5 346.7L748 347L748.5 348.1L749 348.4L749.5 348.6L750 348.2L750.5 347.8L751 347.7L751.5 348.6L752 348.8L752.5 347.5L753 348.1L753.5 348.3L754 347.4L754.5 347.5L755 347L755.5 347.2L756 349.2L756.5 349.7L757 349.1L757.5 349.2L758 348.1L758.5 346.7L759 347.3L759.5 348.5L760 348.7L760.5 348.5L761 348.1L761.5 346.9L762 346.5L762.5 347.2L763 347.9L763.5 348.8L764 348.6L764.5 348.1L765 348.5L765.5 348.1L766 347.9L766.5 348.7L767 349.9L767.5 350.8L768 350.7L768.5 349.2L769 348.4L769.5 349.7L770 349.8L770.5 349L771 348.6L771.5 347.5L772 347.1L772.5 346.8L773 346.1L773.5 346.4L774 346.7L774.5 346.9L775 348.8L775.5 349.8L776 348.3L776.5 346.5L777 345.6L777.5 345.9L778 347.2L778.5 348L779 347.1L779.5 345.4L780 344.5L780.5 345.6L781 347.5L781.5 347.8L782 347.7L782.5 348.3L783 347.9L783.5 347.5L784 347.4L784.5 346.2L785 344.6L785.5 344.1L786 345.6L786.5 347.8L787 348.5L787.5 348.1L788 347.7L788.5 346.8L789 345.4L789.5 346.2L790 348.2L790.5 348.8L791 348.2L791.5 347.2L792 346.7L792.5 345.8L793 345.1L793.5 344.9L794 344.5L794.5 345.2L795 345.8L795.5 345.2L796 345.6L796.5 346.2L797 345.7L797.5 346.2L798 346L798.5 344.6L799 343.9L799.5 343.6L800 343.5L800.5 343.7L801 344L801.5 344.5L802 345.5L802.5 346.2L803 346.6L803.5 346.1L804 345.3L804.5 345.9L805 345.6L805.5 343.6L806 342.9L806.5 343.5L807 343L807.5 341.9L808 342L808.5 341.9L809 341.7L809.5 342.8L810 343.5L810.5 342.4L811 341.8L811.5 342.6L812 343.2L812.5 342.1L813 340.9L813.5 341.2L814 341.2L814.5 340.6L815 339.8L815.5 338.6L816 338.6L816.5 339L817 338.7L817.5 338.5L818 338.5L818.5 338.1L819 336.9L819.5 335.8L820 335.1L820.5 334.6L821 334.3L821.5 334.2L822 333.7L822.5 333.5L823 333.8L823.5 333.9L824 333.4L824.5 332.6L825 331.9L825.5 331.5L826 331L826.5 330.1L827 329L827.5 328.4L828 327.9L828.5 327.1L829 326.5L829.5 325.7L830 324.8L830.5 323.9L831 323.1L831.5 322.3L832 321.5L832.5 320.6L833 319.4L833.5 318.3L834 317.1L834.5 316.1L835 314.5L835.5 312.8L836 311.1L836.5 309.4L837 307.7L837.5 305.3L838 300.5L838.5 295.7L839 290.9L839.5 286.1L840 282L840.5 279L841 276.1L841.5 273.1L842 270.1L842.5 267.2L843 264.2L843.5 261.3L844 258.9L844.5 256.8L845 254.9L845.5 252.9L846 250.8L846.5 248.8L847 246.8L847.5 244.8L848 242.9L848.5 240.9L849 238.9L849.5 236.8L850 234.8L850.5 232.9L851 231.5L851.5 230.2L852 228.9L852.5 227.4L853 225.9L853.5 224.5L854 223.1L854.5 221.7L855 220.3L855.5 219L856 217.5L856.5 216.1L857 214.7L857.5 213.2L858 211.7L858.5 210.4L859 209L859.5 207.5L860 206.2L860.5 204.7L861 203.3L861.5 201.8L862 200.3L862.5 198.7L863 197.2L863.5 195.8L864 194.3L864.5 192.9L865 191.4L865.5 189.8L866 188.4L866.5 186.9L867 185.4L867.5 184L868 182.4L868.5 180.9L869 179.5L869.5 177.9L870 176.3L870.5 174.7L871 173.1L871.5 171.6L872 169.9L872.5 168.2L873 166.6L873.5 164.9L874 163.3L874.5 161.8L875 160.2L875.5 158.6L876 156.9L876.5 155.2L877 153.6L877.5 152.1L878 150.9L878.5 150L879 149.1L879.5 148.3L880 147.2L880.5 146L881 145.1L881.5 144.3L882 143.5L882.5 142.7L883 142.2L883.5 141.7L884 140.9L884.5 140.7L885 140.4L885.5 139L886 138.1L886.5 138.3L887 138L887.5 137.4L888 137.5L888.5 137.8L889 138.3L889.5 138.2L890 137.3L890.5 136.3L891 135.5L891.5 136L892 136L892.5 135.8L893 137.5L893.5 139.6L894 146.5L894.5 154.7L895 165.6L895.5 178.2L896 190.8L896.5 203.5L897 214L897.5 224L898 234L898.5 244L899 254L899.5 264L900 273.9L900.5 283.9L901 293.8L901.5 303.8L902 313.7L902.5 323.8L903 334.5L903.5 345.1L904 355.7L904.5 365.3L905 374L905.5 382.7L906 391.5L906.5 400.2L907 409L907.5 417.7L908 426.5L908.5 435.3L909 444L909.5 452.8L910 461.5L910.5 470.3L911 478.5L911.5 486.1L912 493.6L912.5 501.1L913 508.7L913.5 516.2L914 523.8L914.5 531.3L915 538.8L915.5 546.4L916 553.9L916.5 561.4L917 569L917.5 574.3L918 560L918.5 475.5L919 437.8L919.5 400L920 375.7L920.5 371.8L921 367.9L921.5 365L922 363.9L922.5 362.7L923 361.4L923.5 360.7L924 360.2L924.5 359.6L925 358.9L925.5 358.7L926 359L926.5 359.4L927 359.5L927.5 359.8L928 358.9L928.5 358.3L929 359.7L929.5 361.1L930 359.8L930.5 357.3L931 356.9L931.5 358.5L932 359L932.5 358.1L933 358.2L933.5 358L934 358.1L934.5 359.1L935 360.2L935.5 360.5L936 359.7L936.5 359L937 358.6L937.5 358L938 358.2L938.5 358.5L939 359L939.5 360.1L940 359.9L940.5 358.4L941 358.1L941.5 359.8L942 360.2L942.5 358.3L943 357.5L943.5 358.9L944 360.7L944.5 361L945 359.8L945.5 359.6L946 360.8L946.5 360.1L947 358.4L947.5 358.7L948 359.7L948.5 360.4L949 360.7L949.5 360.6L950 360.3L950.5 359.4L951 359L951.5 359.1L952 358.8L952.5 358.7L953 359.8L953.5 360.4L954 360.2L954.5 359.8L955 359.3L955.5 359.2L956 358.8L956.5 359.4L957 359.9L957.5 359.1L958 359.9L958.5 360.7L959 360.2L959.5 359.5L960 359L960.5 359.6L961 360.2L961.5 360.5L962 360.4L962.5 360L963 359.5L963.5 359.6L964 360.8L964.5 361.5L965 360.8L965.5 358.9L966 358.1L966.5 359.6L967 361.4L967.5 361.7L968 360.7L968.5 360.1L969 360L969.5 360.1L970 360.6L970.5 361.1L971 361.9L971.5 361.9L972 361.1L972.5 360.5L973 359.8L973.5 359.8L974 360.6L974.5 361.7L975 362L975.5 361.8L976 363.3L976.5 363.8L977 363L977.5 363.5L978 363.6L978.5 363.1L979 363.5L979.5 362.9L980 361.8L980.5 362.6L981 363.4L981.5 363L982 362.2L982.5 361.5L983 360.3L983.5 359L984 359.6L984.5 361L985 360.9L985.5 360.1L986 360.7L986.5 361.9L987 362.5L987.5 361.5L988 359.3L988.5 357.9L989 358.6L989.5 360.7L990 361.4L990.5 361L991 361.6L991.5 362.4L992 361.2L992.5 359.7L993 360.3L993.5 361.4L994 362L994.5 362L995 361.2L995.5 360.2L996 359.8L996.5 361.3L997 361.9L997.5 360.4L998 359.7L998.5 359.3L999 359.6L999.5 361.7L1000 362.1L1000.5 360L1001 358.8L1001.5 358.7L1002 358.8L1002.5 359.6L1003 361.1L1003.5 361.6L1004 360.4L1004.5 359.6L1005 360.6L1005.5 361.3L1006 361.2L1006.5 362.3L1007 363.3L1007.5 363.1L1008 363L1008.5 362.6L1009 361.6L1009.5 360.9L1010 361.3L1010.5 362.2L1011 362.7L1011.5 363.2L1012 362.9L1012.5 362.6L1013 363L1013.5 363.3L1014 364.1L1014.5 364.7L1015 364.6L1015.5 364.4L1016 364.5L1016.5 365.6L1017 366.7L1017.5 367.1L1018 367.1L1018.5 366.9L1019 366.6L1019.5 366.4L1020 366.6L1020.5 366.9L1021 366.9L1021.5 367.6L1022 369L1022.5 369.3L1023 369.3L1023.5 368.4L1024 366.9L1024.5 367.3L1025 368.5L1025.5 368.6L1026 367.3L1026.5 366.5L1027 367.9L1027.5 369.4L1028 368.4L1028.5 366.3L1029 366.8L1029.5 368.6L1030 368.7L1030.5 367.6L1031 368L1031.5 368.8L1032 368.3L1032.5 368.7L1033 369.7L1033.5 369.6L1034 369.8L1034.5 369.9L1035 368.8L1035.5 368.3L1036 369.3L1036.5 369.8L1037 368.9L1037.5 368.3L1038 368.8L1038.5 368.9L1039 369.2L1039.5 370.3L1040 371L1040.5 371.5L1041 372.1L1041.5 372.5L1042 372.6L1042.5 372.6L1043 372.3L1043.5 371.8L1044 371.4L1044.5 371.5L1045 372.4L1045.5 373.4L1046 374.2L1046.5 375.5L1047 376.5L1047.5 376.7L1048 376.8L1048.5 377.2L1049 377.9L1049.5 378.8L1050 379.4L1050.5 379.8L1051 380.8L1051.5 381.9L1052 383.2L1052.5 384.5L1053 385.5L1053.5 386.6L1054 387.8L1054.5 389.1L1055 391.7L1055.5 394.2L1056 396.8L1056.5 399.4L1057 402.9L1057.5 407.8L1058 412.7L1058.5 418.2L1059 425.4L1059.5 432.7L1060 440L1060.5 448L1061 456L1061.5 462L1062 468.1L1062.5 474.1L1063 480.2L1063.5 486.2L1064 492.2L1064.5 498.3L1065 504.3L1065.5 510.4L1066 516.4L1066.5 522.4L1067 528.4L1067.5 534.4L1068 540.4L1068.5 546.4L1069 552.5L1069.5 558.5L1070 564.5L1070.5 570.5L1071 576.3L1071.5 582.1L1072 587.9L1072.5 593.7L1073 599.5L1073.5 605.3L1074 611.1L1074.5 616.9L1075 622.7L1075.5 627.9L1076 632.7L1076.5 637.5L1077 642.3L1077.5 647.1L1078 651.9L1078.5 656.7L1079 661.5L1079.5 666.3L1080 671.1L1080.5 675.9L1081 680.7L1081.5 685.5L1082 690.3L1082.5 695.1L1083 699.4L1083.5 703.4L1084 707.4L1084.5 711.4L1085 715.4L1085.5 719.5L1086 723.5L1086.5 727.5L1087 731.5L1087.5 735.5L1088 739.5L1088.5 743.5L1089 747.5L1089.5 751.5L1090 755.6L1090.5 759.6L1091 763.6L1091.5 767.6L1092 771.6L1092.5 775L1093 777.5L1093.5 780L1094 782.5L1094.5 785L1095 787.5L1095.5 790L1096 792.5L1096.5 795L1097 797.6L1097.5 800L1098 802.5L1098.5 805L1099 807.5L1099.5 810L1100 812.6L1100.5 815L1101 817.5L1101.5 820L1102 822.5L1102.5 824.9L1103 827.5L1103.5 829.9L1104 832.4L1104.5 834.9L1105 837.4L1105.5 839.9L1106 843L1106.5 847L1107 851L1107.5 855L1108 857L1108.5 852.6L1109 848L1109.5 842.9L1110 837.8L1110.5 832.7L1111 816.3L1111.5 797.1L1112 777.8L1112.5 758.6L1113 749.8L1113.5 743.8L1114 737.7L1114.5 731.6L1115 729.3L1115.5 726.9L1116 724.6L1116.5 722.3L1117 719.9L1117.5 717.8L1118 717.2L1118.5 716.7L1119 716.3L1119.5 715.9L1120 715.3L1120.5 714.2L1121 713.2L1121.5 713.1L1122 712.9L1122.5 712.3L1123 712.2L1123.5 711.8L1124 711.1L1124.5 711.2L1125 711.1L1125.5 709.8L1126 708.6L1126.5 708.6L1127 709.1L1127.5 708.7L1128 708.6L1128.5 708.6L1129 707.6L1129.5 706.5L1130 705.8L1130.5 705.2L1131 705.5L1131.5 706.9L1132 707L1132.5 705.7L1133 705.3L1133.5 705.2L1134 704.4L1134.5 704.1L1135 704.6L1135.5 704.1L1136 702.7L1136.5 701.8L1137 701.3L1137.5 701.4L1138 701.2L1138.5 700.6L1139 700.6L1139.5 700.2L1140 700.4L1140.5 701.7L1141 701.5L1141.5 700.6L1142 700.5L1142.5 700.4L1143 700.7L1143.5 700.7L1144 700.2L1144.5 701L1145 700.8L1145.5 699.4L1146 698.7L1146.5 698.1L1147 697.5L1147.5 697.4L1148 697.6L1148.5 697.7L1149 698.5L1149.5 699.5L1150 698.6L1150.5 698L1151 699.2L1151.5 699L1152 697.9L1152.5 698.9L1153 700L1153.5 699.6L1154 699.1L1154.5 698.6L1155 696.8L1155.5 695.8L1156 697L1156.5 696.7L1157 695.3L1157.5 695.7L1158 696.5L1158.5 696.2L1159 695.8L1159.5 695.9L1160 695.3L1160.5 695.4L1161 697.2L1161.5 698L1162 696.3L1162.5 694.9L1163 694.9L1163.5 695.7L1164 697L1164.5 696.9L1165 696.4L1165.5 696.4L1166 696.3L1166.5 696L1167 696.7L1167.5 697.6L1168 698.2L1168.5 699L1169 698.8L1169.5 698.1L1170 697.8L1170.5 698.2L1171 699L1171.5 699L1172 699.5L1172.5 700.5L1173 700.4L1173.5 699.9L1174 700.5L1174.5 701.2L1175 700.2L1175.5 699.8L1176 700.2L1176.5 699.1L1177 699.3L1177.5 701.2L1178 702L1178.5 701.4L1179 701.1L1179.5 700.5L1180 698.8L1180.5 698.3L1181 698.8L1181.5 699.4L1182 700.2L1182.5 701.1L1183 700.9L1183.5 698.5L1184 697.8L1184.5 699.1L1185 700L1185.5 700.7L1186 700.8L1186.5 700.9L1187 701.2L1187.5 700.4L1188 699.3L1188.5 699.3L1189 699.8L1189.5 699.2L1190 699.4L1190.5 700.2L1191 700.6L1191.5 699.9L1192 698.4L1192.5 698.2L1193 698.4L1193.5 698.7L1194 700L1194.5 700.6L1195 700.4L1195.5 699.8L1196 699.5L1196.5 699.4L1197 699.1L1197.5 699.7L1198 700.7L1198.5 700.2L1199 698.7L1199.5 697.9L1200 698.6L1200.5 700.1L1201 700.8L1201.5 700.6L1202 700.4L1202.5 701.8L1203 702.3L1203.5 700.8L1204 700.5L1204.5 702.4L1205 703.5L1205.5 703.1L1206 702.7L1206.5 702.9L1207 702.6L1207.5 701.2L1208 699.7L1208.5 700.3L1209 702L1209.5 702.3L1210 702.7L1210.5 703.9L1211 703.7L1211.5 701.4L1212 699.4L1212.5 700.1L1213 702.7L1213.5 703.4L1214 701.8L1214.5 700.8L1215 701.2L1215.5 702.2L1216 701.5L1216.5 700.5L1217 701.6L1217.5 702.5L1218 701.7L1218.5 700.6L1219 699.9L1219.5 700.5L1220 702.1L1220.5 701.9L1221 700.4L1221.5 700L1222 700.1L1222.5 700.8L1223 700.6L1223.5 699L1224 697.7L1224.5 698L1225 698.8L1225.5 698.4L1226 697.8L1226.5 698L1227 698L1227.5 699L1228 700.4L1228.5 699.2L1229 698.2L1229.5 699.8L1230 700.3L1230.5 700L1231 700.7L1231.5 700.9L1232 700.4L1232.5 699L1233 698.6L1233.5 700.2L1234 702.1L1234.5 702.3L1235 701.3L1235.5 701.2L1236 701.8L1236.5 701.3L1237 699.6L1237.5 698.7L1238 699.1L1238.5 700.8L1239 702L1239.5 701.8L1240 701.5L1240.5 700.3L1241 699.4L1241.5 700.5L1242 702.8L1242.5 704.1L1243 702.8L1243.5 700.9L1244 700.5L1244.5 699.6L1245 699.3L1245.5 700.6L1246 702L1246.5 701.5L1247 700.5L1247.5 701.5L1248 701.4L1248.5 699.2L1249 698.4L1249.5 698.5L1250 699.3L1250.5 701.6L1251 701.8L1251.5 699.5L1252 699.3L1252.5 701.3L1253 701.1L1253.5 699.5L1254 698.9L1254.5 698.6L1255 699.9L1255.5 700.7L1256 699.6L1256.5 698.9L1257 697.9L1257.5 697.5L1258 698.8L1258.5 700.2L1259 700.1L1259.5 699.2L1260 698.7L1260.5 698.8L1261 699.6L1261.5 700.2L1262 700.7L1262.5 700.1L1263 698.4L1263.5 697.6L1264 698.9L1264.5 701.7L1265 702L1265.5 699.9L1266 699.2L1266.5 700.2L1267 701.1L1267.5 702L1268 702.4L1268.5 701.1L1269 700.3L1269.5 701.5L1270 702.3L1270.5 701.2L1271 700.6L1271.5 700.6L1272 700.8L1272.5 702.3L1273 703.3L1273.5 702.9L1274 703.1L1274.5 704.5L1275 705.4L1275.5 704.5L1276 703.8L1276.5 704.8L1277 704.9L1277.5 704L1278 703.9L1278.5 704.3L1279 704.5L1279.5 704.4L1280 704.4L1280.5 704.3L1281 705.1L1281.5 705.1L1282 704.5L1282.5 705.3L1283 704.8L1283.5 703.2L1284 703.5L1284.5 705.3L1285 705.1L1285.5 703.1L1286 701.8L1286.5 701.8L1287 703L1287.5 704.1L1288 703.1L1288.5 702.1L1289 702.9L1289.5 702.6L1290 702L1290.5 702.9L1291 702.9L1291.5 702.1L1292 701L1292.5 700.2L1293 700.3L1293.5 700.5L1294 701.5L1294.5 703L1295 703.6L1295.5 704.1L1296 705.1L1296.5 705.1L1297 703.3L1297.5 703L1298 704.8L1298.5 705.4L1299 704.9L1299.5 704.6L1300 704.3L1300.5 704L1301 704.1L1301.5 703.6L1302 703.9L1302.5 704.8L1303 704.4L1303.5 704.5L1304 704.3L1304.5 703.6L1305 703.9L1305.5 704.8L1306 705.4L1306.5 706.3L1307 707.4L1307.5 707.7L1308 706.8L1308.5 705.4L1309 706L1309.5 707.9L1310 708.7L1310.5 708.9L1311 709.6L1311.5 709.1L1312 708.2L1312.5 708.8L1313 709.2L1313.5 708.4L1314 708.4L1314.5 709.9L1315 711.5L1315.5 712L1316 711.9L1316.5 711.3L1317 709.2L1317.5 708.2L1318 708.7L1318.5 709L1319 710L1319.5 710.5L1320 709.7L1320.5 709.5L1321 709.7L1321.5 709.8L1322 710.9L1322.5 711L1323 709.1L1323.5 707L1324 707.2L1324.5 708.7L1325 708.6L1325.5 709L1326 710.3L1326.5 709.5L1327 708.2L1327.5 709.3L1328 709.7L1328.5 709L1329 709.4L1329.5 709.5L1330 709L1330.5 709L1331 710L1331.5 710L1332 709.4L1332.5 710.1L1333 710.7L1333.5 709L1334 706.9L1334.5 707.7L1335 710.4L1335.5 710.4L1336 709.6L1336.5 711.5L1337 711.4L1337.5 710L1338 710.5L1338.5 709.8L1339 709.5L1339.5 712L1340 713.5L1340.5 712.8L1341 711.7L1341.5 711.6L1342 712.2L1342.5 712.5L1343 712.6L1343.5 713L1344 713.3L1344.5 712.8L1345 711.8L1345.5 712L1346 712.9L1346.5 713L1347 713.9L1347.5 714.6L1348 714.7L1348.5 714.7L1349 713.8L1349.5 713.4L1350 714.4L1350.5 715.8L1351 716.2L1351.5 715.5L1352 714.8L1352.5 715.7L1353 715.8L1353.5 715.2L1354 715.6L1354.5 714.9L1355 714L1355.5 714.3L1356 713.5L1356.5 713L1357 713.7L1357.5 713.3L1358 712.4L1358.5 712.9L1359 713.2L1359.5 712.5L1360 712L1360.5 713.4L1361 714.9L1361.5 714.1L1362 714.1L1362.5 715.1L1363 714.4L1363.5 713.9L1364 714.5L1364.5 713.7L1365 711.9L1365.5 711.9L1366 714.2L1366.5 714.9L1367 714.3L1367.5 715.3L1368 715.9L1368.5 715.1L1369 714.9L1369.5 716.5L1370 716.9L1370.5 715.8L1371 715.2L1371.5 714.9L1372 715L1372.5 715.2L1373 715.8L1373.5 716.3L1374 716L1374.5 715.9L1375 716.7L1375.5 717.7L1376 717.8L1376.5 717.8L1377 718.4L1377.5 719.3L1378 720.3L1378.5 720.8L1379 721L1379.5 721.3L1380 721.7L1380.5 722.5L1381 723.6L1381.5 724.7L1382 725.8L1382.5 726.5L1383 727.4L1383.5 728.5L1384 729.5L1384.5 730.5L1385 731.6L1385.5 732.8L1386 733.9L1386.5 734.8L1387 735.6L1387.5 736.5L1388 737.6L1388.5 738.8L1389 739.9L1389.5 740.9L1390 742L1390.5 743.4L1391 744.7L1391.5 746L1392 747.1L1392.5 748.3L1393 749.5L1393.5 750.9L1394 752.2L1394.5 754.7L1395 757.1L1395.5 759.5L1396 762L1396.5 764.4L1397 766.8L1397.5 769.3L1398 771.8L1398.5 774.2L1399 776.6L1399.5 779.1L1400 781.5L1400.5 784L1401 786.5L1401.5 788.9L1402 791.4L1402.5 794.3L1403 797.2L1403.5 800.2L1404 803.2L1404.5 806.2L1405 809.1L1405.5 812.1L1406 815.1L1406.5 818L1407 821L1407.5 823.9L1408 826.9L1408.5 829.9L1409 832.8L1409.5 835.8L1410 838.8L1410.5 841.8L1411 844.7L1411.5 847.7L1412 850.6L1412.5 853.6L1413 856.5L1413.5 859.5L1414 862.5L1414.5 865.4L1415 868.4L1415.5 871.5L1416 874.6L1416.5 877.7L1417 880.8L1417.5 883.8L1418 886.9L1418.5 890L1419 893L1419.5 896.1L1420 899.1L1420.5 901.1L1421 903.2L1421.5 905.1L1422 907L1422.5 909L1423 911L1423.5 913L1424 915L1424.5 916.9L1425 918.9L1425.5 920.9L1426 922.9L1426.5 924.9L1427 926.2L1427.5 927.6L1428 928.9L1428.5 930.2L1429 931.6L1429.5 932.9L1430 934.2L1430.5 935.6L1431 937L1431.5 938.4L1432 939.7L1432.5 940.9L1433 942.2L1433.5 943.4L1434 944.7L1434.5 946L1435 947.2L1435.5 948L1436 948.8L1436.5 949.9L1437 951.1L1437.5 952.2L1438 953.1L1438.5 953.7L1439 954.7L1439.5 956L1440 957.3L1440.5 958.3L1441 959.2L1441.5 960L1442 961.1L1442.5 962.1L1443 962.7L1443.5 963.4L1444 964.5L1444.5 965.5L1445 966.1L1445.5 966.8L1446 967.9L1446.5 968.9L1447 969.8L1447.5 970.5L1448 971.1L1448.5 971.8L1449 972.5L1449.5 973.3L1450 974.8L1450.5 976.4L1451 977.9L1451.5 979.4L1452 980.8L1452.5 982.3L1453 983.9L1453.5 985.5L1454 987L1454.5 988.4L1455 989.8L1455.5 991.3L1456 992.8L1456.5 994.3L1457 995.8L1457.5 997.4L1458 998.9L1458.5 1000.4L1459 1001.7L1459.5 1003.1L1460 1004.5L1460.5 1005L1461 1005.6L1461.5 1006.3L1462 1006.9L1462.5 1007.8L1463 1008.8L1463.5 1009.5L1464 1010.3L1464.5 1010.7L1465 1010.8L1465.5 1011.5L1466 1012L1466.5 1012.5L1467 1013.5L1467.5 1013.9L1468 1014L1468.5 1014.6L1469 1014.3L1469.5 1014.6L1470 1016.1L1470.5 1016.6L1471 1015.7L1471.5 1015L1472 1015.5L1472.5 1016.2L1473 1016.3L1473.5 1017L1474 1018.7L1474.5 1019.4L1475 1019.3L1475.5 1019.6L1476 1020L1476.5 1020L1477 1020L1477.5 1020.2L1478 1021.2L1478.5 1022.6L1479 1022.9L1479.5 1021.9L1480 1021.8L1480.5 1022.3L1481 1022.3L1481.5 1022L1482 1021.3L1482.5 1020.9L1483 1021.3L1483.5 1022.6L1484 1023.9L1484.5 1023.1L1485 1021.2L1485.5 1020.6L1486 1021.3L1486.5 1022.8L1487 1023.4L1487.5 1023.3L1488 1023.7L1488.5 1024.2L1489 1024.6L1489.5 1025.4L1490 1026.4L1490.5 1027.2L1491 1027.7L1491.5 1028.4L1492 1029.5L1492.5 1030.5L1493 1031.2L1493.5 1032L1494 1032.8L1494.5 1033.3L1495 1034L1495.5 1034.9L1496 1035.9L1496.5 1037.1L1497 1038.4L1497.5 1039.8L1498 1041.1L1498.5 1042.3L1499 1043.5L1499.5 1044.9L1500 1046L1500.5 1046L1501 1045.2L1501.5 1045.1L1502 1045.6L1502.5 1044.8L1503 1044.7L1503.5 1046L1504 1046.8L1504.5 1047.3L1505 1048.2L1505.5 1048.3L1506 1048L1506.5 1048.5L1507 1049L1507.5 1048.3L1508 1046.8L1508.5 1046.7L1509 1048L1509.5 1047.9L1510 1047.6L1510.5 1049.2L1511 1050L1511.5 1050L1512 1050.8L1512.5 1050.2L1513 1048.8L1513.5 1048.8L1514 1048.9L1514.5 1048.2L1515 1047.9L1515.5 1048.8L1516 1049.6L1516.5 1048.8L1517 1049.1L1517.5 1050.8L1518 1050.6L1518.5 1048.5L1519 1047.9L1519.5 1049.6L1520 1049.9L1520.5 1049.7L1521 1051.2L1521.5 1051L1522 1049.1L1522.5 1049.2L1523 1049.4L1523.5 1048.7L1524 1048.6L1524.5 1049.2L1525 1050.2L1525.5 1051.6L1526 1052.4L1526.5 1052.5L1527 1052.3L1527.5 1052.8L1528 1054.1L1528.5 1054.5L1529 1054.1L1529.5 1054.2L1530 1055.1L1530.5 1056.5L1531 1057.5L1531.5 1057.9L1532 1057.7L1532.5 1057.5L1533 1057.9L1533.5 1058.9L1534 1059.9L1534.5 1060.1L1535 1060.5L1535.5 1061.4L1536 1061.9L1536.5 1062.6L1537 1063.7L1537.5 1064.2L1538 1064.6L1538.5 1065.4L1539 1065.5L1539.5 1066.3L1540 1067.1L1540.5 1067.2L1541 1067.7L1541.5 1067.6L1542 1067.8L1542.5 1069.2L1543 1069.6L1543.5 1068.6L1544 1067.9L1544.5 1067.8L1545 1066.8L1545.5 1066.2L1546 1067.7L1546.5 1068.7L1547 1067.8L1547.5 1066.6L1548 1066.1L1548.5 1066.6L1549 1066.2L1549.5 1064.9L1550 1064.6L1550.5 1064.3L1551 1063.4L1551.5 1063.9L1552 1065L1552.5 1064.9L1553 1064.2L1553.5 1063.8L1554 1062.5L1554.5 1061.4L1555 1061.7L1555.5 1062.5L1556 1063.4L1556.5 1063.9L1557 1063.2L1557.5 1063.5L1558 1064.7L1558.5 1065L1559 1065.4L1559.5 1065.7L1560 1065.2L1560.5 1065.3L1561 1065.9L1561.5 1066L1562 1066.3L1562.5 1066L1563 1065.8L1563.5 1066.9L1564 1067.4L1564.5 1067.6L1565 1068.3L1565.5 1069L1566 1069.3L1566.5 1070L1567 1070.9L1567.5 1071.7L1568 1072.2L1568.5 1072.6L1569 1073.1L1569.5 1073.7L1570 1074.1L1570.5 1074.6L1571 1075.9L1571.5 1077.3L1572 1077.8L1572.5 1077.1L1573 1076.9L1573.5 1077.9L1574 1077.7L1574.5 1076.5L1575 1076.5L1575.5 1076.5L1576 1076.4L1576.5 1076.2L1577 1075.4L1577.5 1076.3L1578 1076.5L1578.5 1075.2L1579 1075.4L1579.5 1076.3L1580 1075.6L1580.5 1074.2L1581 1073.6L1581.5 1072.6L1582 1072.6L1582.5 1073.4L1583 1072.2L1583.5 1071.1L1584 1071.9L1584.5 1073.5L1585 1073.7L1585.5 1072.6L1586 1072.6L1586.5 1073L1587 1072.3L1587.5 1072L1588 1072.4L1588.5 1072L1589 1071.2L1589.5 1071.5L1590 1072.1L1590.5 1072L1591 1071.5L1591.5 1071.2L1592 1071.9L1592.5 1073L1593 1073.2L1593.5 1073.2L1594 1073.8L1594.5 1073.9L1595 1073.5L1595.5 1073.7L1596 1074.2L1596.5 1074.6L1597 1075.1L1597.5 1075.1L1598 1075.4L1598.5 1076.1L1599 1076.5L1599.5 1077L1600 1077.6L1600.5 1078.7L1601 1079.5L1601.5 1080.1L1602 1080.3L1602.5 1080.1L1603 1080.4L1603.5 1081L1604 1081.6L1604.5 1082.1L1605 1082.9L1605.5 1083.8L1606 1084.3L1606.5 1084.9L1607 1085.6L1607.5 1086.6L1608 1087.9L1608.5 1087.8L1609 1086.3L1609.5 1084.8L1610 1084.1L1610.5 1084L1611 1084.5L1611.5 1086.1L1612 1087.6L1612.5 1087.3L1613 1086L1613.5 1085.2L1614 1084.1L1614.5 1084.4L1615 1085.4L1615.5 1085.7L1616 1085.7L1616.5 1084.9L1617 1084.4L1617.5 1084.2L1618 1083.8L1618.5 1084.5L1619 1085.3L1619.5 1084.4L1620 1082.5L1620.5 1081.7L1621 1082.2L1621.5 1082.4L1622 1081.9L1622.5 1082.2L1623 1083.2L1623.5 1082.9L1624 1081.8L1624.5 1082.3L1625 1082.4L1625.5 1081.6L1626 1081.8L1626.5 1081.8L1627 1081.9L1627.5 1081.7L1628 1080.7L1628.5 1080L1629 1079.2L1629.5 1078.8L1630 1079.3L1630.5 1079.7L1631 1079L1631.5 1077.9L1632 1078.6L1632.5 1079.3L1633 1078.7L1633.5 1078.7L1634 1078L1634.5 1076.5L1635 1075.9L1635.5 1076.2L1636 1077L1636.5 1077.9L1637 1077.6L1637.5 1076.4L1638 1076.3L1638.5 1076.8L1639 1075.9L1639.5 1074.7L1640 1074.6L1640.5 1075L1641 1074.4L1641.5 1073.6L1642 1074L1642.5 1074.8L1643 1075.5L1643.5 1076.4L1644 1076.8L1644.5 1076.4L1645 1076.9L1645.5 1077.6L1646 1077.5L1646.5 1078.2L1647 1079.1L1647.5 1079.4L1648 1080.1L1648.5 1081L1649 1081.4L1649.5 1081.8L1650 1081.9L1650.5 1082L1651 1082.8L1651.5 1083.3L1652 1083.6L1652.5 1084.3L1653 1084.6L1653.5 1084.6L1654 1085.1L1654.5 1085.6L1655 1086.5L1655.5 1087.6L1656 1087.9L1656.5 1088.1L1657 1087.5L1657.5 1085.9L1658 1084.5L1658.5 1084.7L1659 1085.7L1659.5 1085.1L1660 1085L1660.5 1085.5L1661 1085.3L1661.5 1085L1662 1084.9L1662.5 1085L1663 1085.4L1663.5 1085.3L1664 1084.4L1664.5 1083.4L1665 1082.7L1665.5 1082.2L1666 1081.8L1666.5 1081.3L1667 1081.2L1667.5 1081.3L1668 1080.7L1668.5 1080.1L1669 1080.3L1669.5 1080.5L1670 1079.8L1670.5 1078.7L1671 1078.7L1671.5 1078.9L1672 1077.6L1672.5 1077.1L1673 1077.9L1673.5 1078.6L1674 1078.4L1674.5 1077.5L1675 1076.7L1675.5 1076L1676 1076.3L1676.5 1077.3L1677 1077.3L1677.5 1076.6L1678 1075.6L1678.5 1076.3L1679 1077.4L1679.5 1076.8L1680 1075.7L1680.5 1074.1L1681 1074L1681.5 1074.6L1682 1074L1682.5 1075L1683 1076.1L1683.5 1075.4L1684 1076L1684.5 1077.5L1685 1077.8L1685.5 1077.6L1686 1078L1686.5 1078.5L1687 1078.8L1687.5 1079.6L1688 1080.4L1688.5 1080.5L1689 1079.7L1689.5 1079.8L1690 1081L1690.5 1081.3L1691 1081.7L1691.5 1082.1L1692 1082L1692.5 1081.4L1693 1080.5L1693.5 1080.5L1694 1081.4L1694.5 1082.6L1695 1083.3L1695.5 1084.1L1696 1084.2L1696.5 1083.4L1697 1083.9L1697.5 1085L1698 1085L1698.5 1084.8L1699 1084.9L1699.5 1084.7L1700 1084.6L1700.5 1084.4L1701 1083.1L1701.5 1082.9L1702 1084.1L1702.5 1083.5L1703 1081.8L1703.5 1081.1L1704 1080.5L1704.5 1080.2L1705 1080.6L1705.5 1081L1706 1080.9L1706.5 1080.4L1707 1080.7L1707.5 1081.2L1708 1081.1L1708.5 1081.1L1709 1081.1L1709.5 1080L1710 1078.4L1710.5 1078L1711 1077.7L1711.5 1077.1L1712 1077.1L1712.5 1077.2L1713 1076.8L1713.5 1075.7L1714 1074.9L1714.5 1075.5L1715 1075.8L1715.5 1074.9L1716 1074.7L1716.5 1074.8L1717 1074.5L1717.5 1075.5L1718 1075.3L1718.5 1074.2L1719 1074.5L1719.5 1074.9L1720 1075.2L1720.5 1075.8L1721 1077L1721.5 1077.5L1722 1077.3L1722.5 1077.8L1723 1077.3L1723.5 1076.7L1724 1077.3L1724.5 1077.7L1725 1078.1L1725.5 1079.4L1726 1080.3L1726.5 1080.6L1727 1081L1727.5 1081.3L1728 1081.4L1728.5 1081.2L1729 1081.6L1729.5 1082.4L1730 1082.3L1730.5 1082L1731 1081.2L1731.5 1080.5L1732 1081.2L1732.5 1081.6L1733 1080.3L1733.5 1079.3L1734 1079.4L1734.5 1079.9L1735 1080.8L1735.5 1080.8L1736 1079.2L1736.5 1078.5L1737 1079.6L1737.5 1081.4L1738 1082.6L1738.5 1082.9L1739 1082L1739.5 1080.7L1740 1080.7L1740.5 1080.4L1741 1079.1L1741.5 1078.2L1742 1078.5L1742.5 1079.4L1743 1079.8L1743.5 1080L1744 1080.4L1744.5 1079.5L1745 1077.6L1745.5 1077.5L1746 1077.6L1746.5 1076.5L1747 1076.2L1747.5 1076.5L1748 1075.9L1748.5 1075.7L1749 1076.1L1749.5 1075.8L1750 1075.8L1750.5 1076.1L1751 1075.3L1751.5 1074.1L1752 1073.1L1752.5 1073.2L1753 1073.8L1753.5 1073.7L1754 1073.5L1754.5 1073.4L1755 1073.6L1755.5 1074.6L1756 1075.5L1756.5 1075.4L1757 1075.4L1757.5 1076.2L1758 1076.7L1758.5 1076.4L1759 1077L1759.5 1078.4" stroke="#00f" stroke-width="6.8"/>
<path d="M1502.2 1029.5L1502.3 1046" stroke="#00f" stroke-width="4.6"/>
</g>
<g>
<line x1="324.3" y1="269.7" x2="589.0" y2="338.5" stroke="#8b6508" stroke-width="3.6"/>
<line x1="799.6" y1="269.7" x2="656.4" y2="338.5" stroke="#8b6508" stroke-width="3.6"/>
<line x1="470.4" y1="499.4" x2="587.6" y2="444.6" stroke="#8b6508" stroke-width="3.6"/>
<line x1="470.4" y1="538.5" x2="587.6" y2="743.3" stroke="#8b6508" stroke-width="3.6"/>
<line x1="301.2" y1="696.2" x2="286.5" y2="871.3" stroke="#8b6508" stroke-width="3.6"/>
<line x1="365.2" y1="696.2" x2="759.9" y2="871.3" stroke="#8b6508" stroke-width="3.6"/>
<rect x="589.0" y="338.5" width="67.4" height="35.7" fill="none" stroke="#8b6508" stroke-width="3.6"/>
<rect x="445.6" y="499.4" width="24.8" height="39.1" fill="none" stroke="#8b6508" stroke-width="3.6"/>
<rect x="301.2" y="658.6" width="64.0" height="37.6" fill="none" stroke="#8b6508" stroke-width="3.6"/>
</g>
<rect x="324.3" y="106.2" width="475.3" height="163.5" fill="#fff"/>
<g class="c" clip-path="url(#ct)">
<path d="M320 202.8L322.6 207.4L324.6 201.6L327.6 207.3L330.5 208.8L332.5 205.7L335.9 210.4L339.4 205.9L342.5 211.6L344.9 206.7L348.3 213.6L350.2 214.7L352.6 207.7L356.1 211.9L358.8 210.4L361.3 214.4L364.5 217.5L368.5 207.3L372.4 212.2L375.9 203.2L377.7 212.1L381.6 206.1L384.8 207.4L388.6 204.8L391.9 205L395.3 207.7L397.4 205.4L400.6 209.9L403.1 203.3L405.3 202.1L407.2 203.7L410.1 204.7L413.5 204.8L417.4 206.3L421 203L423.6 199.7L425.5 197.9L427.5 196.6L430.2 197.1L432.1 201.7L435.2 198.7L439.4 202.3L443 200.1L447 197.6L449 206.6L451.1 204.5L454 201.3L456.7 202.2L460.3 202L463.7 204.4L465.6 202.7L469.5 210.1L473.5 209.8L476.7 208.3L479.3 211.9L483 213L486.4 209.2L489.6 206.3L493.7 215.9L495.7 211.1L499 215.4L502.8 217.6L505 212.3L507.6 210.1L511.5 214.2L514.1 213.9L517.8 213.4L521.4 217.6L524.9 215.3L528.8 213.5L531.3 215.6L535.3 207.6L538.7 207L540.7 205.8L544.6 207.6L546.9 201.1L550.5 200.6L554 201.2L556 203.3L559.3 204L562.8 201.7L566 202.9L567.9 199.2L570.6 202.5L573.8 201.1L577.8 193L581.9 201.9L585.4 194.3L588.2 195.3L590.2 202.9L593.1 196.5L597.2 200.7L599 199.9L602.3 194.6L605.5 194.9L608.3 192.9L611.1 195.9L614.9 193.9L618.4 196.1L621.1 193.7L623.4 195.6L626.2 197.7L629.6 199L632.7 199.4L636.7 200.7L638.7 204.4L642.7 208.3L645.4 208.2L649.2 210.8L651.2 209.5L654 209.9L656.3 215.6L658.1 208.6L661.9 212.2L663.8 212.7L665.9 216.1L669.2 215.7L672 212.4L675.9 210.9L678.3 212.7L681.6 207.1L684.5 206L687 207L690.1 207.3L692.9 207.5L694.7 201.5L698.3 210.1L701 204.2L704.4 200.1L707.3 201.9L710.3 202.2L712.3 202.8L715.8 203.6L719.4 205.4L721.4 200.2L725.1 199.8L727 198.8L730.5 200.7L733.3 202.9L736.4 196.3L738.4 197L741.7 195.8L745.5 198.7L748.4 198.9L750.9 198.4L754 197.7L756.3 197.4L759.9 193.8L762.5 193.8L765.1 194.6L768 192.3L771 194.2L773.4 200.7L776.1 196.7L778.1 200.6L781.2 196.4L783.6 196L785.5 194.5L788.7 193.6L791.4 199.4L793.5 199.9L797.7 197.9L801.2 197.4L804.4 196.4" stroke="#000" stroke-width="9.0"/>
<path d="M320 202.4L322.8 196.5L326 200.1L328.3 198.5L330.6 200.5L333.2 203.6L336.1 198L338.3 201.9L341 199.5L345 206.9L347.1 204.4L351.2 200.2L354.5 204.6L358.6 207L362.6 204.1L365.4 208.2L369.1 201.2L371.3 201.5L375.4 201.1L377.4 201.6L380.1 200.8L383.8 202.1L387.3 205L390.4 204.2L393.4 202.3L395.4 202.9L399.5 199.2L402.5 196.1L406.1 194.6L408.9 202.8L411.8 198.4L415.1 196.3L417.8 192.8L419.7 198.9L423.7 191.7L426 199.2L429.5 193.9L433.1 195.8L435.3 192.1L437.8 190.7L440.1 198.2L443 197.5L446.1 192.1L448.9 198.6L452.6 196L456.2 194.9L458.1 197.2L461.4 203.3L465.4 201.2L468.5 197L470.3 202.8L474.1 205.1L478.2 204.4L481.4 207L484.4 201.5L486.5 202.7L489.6 202.8L493.8 202L496.3 209.8L499.7 210.5L503.1 210.2L506.4 207.9L508.8 208.7L512.5 212L515 209.9L518.9 207L521.5 210.8L525.4 204.4L528.4 207.8L532.4 203.1L536 200.6L539.3 204.6L541.8 201.5L543.8 197.5L547.2 203L551.1 198L554.6 200.1L557.7 194.6L560.1 199.6L562.1 195.4L565.3 194.8L568.6 196.9L570.5 194.7L574.3 189.9L576.3 194.2L578.8 188.2L582.4 187.1L584.3 195.4L587.9 189.2L590.9 191.3L593.1 192L597.1 191.2L599.2 196.8L601.8 195.9L605.9 191.1L608.5 191.3L612.6 185.3L616.1 191.3L619.1 192.5L623.2 194.4L625.6 189.2L629.3 195L631.4 195.6L634.9 198.7L638.6 196.4L640.8 198.6L642.6 202.3L644.6 202.2L647.2 201L651.3 203.7L653.3 204.7L655.3 207.6L658.2 204.1L662.3 206.4L664.6 205.8L667.2 211.6L669.9 206.4L671.7 206.3L675.9 206.1L678.6 207.2L681.9 200.3L685.2 202L688 200.2L690.3 206L694.3 202L696.7 199.9L700.1 198.6L703.8 198.7L706 200.6L709.3 201.6L711.1 196.9L712.9 201.9L715.9 201.1L717.8 194.6L719.8 199.9L723 196.1L726.9 195.6L730 193.9L732 196.1L736.2 187.9L739.9 189.8L744.1 188.1L747.3 186.3L749.6 189.9L753.4 193.6L756.7 184.5L760.8 184.7L763.3 185.4L767.4 191.2L771.3 191.6L774.2 188.9L777.3 187.2L781.1 192.4L784.6 192.7L788.6 187.6L792.5 186L796.1 186.1L798.1 192.3L800.5 191.4L802.6 194.7L805.7 188.4" stroke="#f00" stroke-width="9.0"/>
<path d="M320 168.5L323.2 161.4L327.7 165L330.7 165.7L333.4 164.9L338.3 168.8L341.8 169.9L344.8 167.1L347.3 167.7L349.7 170L353.2 165.7L356.7 169.8L361.7 163.9L366.1 171.2L369.3 164.2L372.8 170.4L377.7 161.3L379.9 160.1L382.4 164.5L386 163.3L390.8 162.7L394.6 164.2L398.2 161.9L402.1 166.6L406.7 164.2L410.7 165.8L414.6 164.9L417.7 167.9L420.3 161.4L424.3 161.2L429.2 160.7L431.7 159.3L435.9 166.7L439 166.8L443.5 162.3L447.3 164.9L449.7 163.7L453.2 163.7L457.2 165.7L461.5 165.6L466 166.4L469 167L471.3 162.4L475.2 164.2L477.8 169.3L481.7 162.6L485.1 167.8L487.6 168.4L491.5 164.3L494.2 165.5L497.9 170L500.9 165.9L505.2 164.1L508 170L513 165.5L517.1 169.1L519.5 171.3L523.8 165.1L528.5 163.4L532.4 162.5L534.7 163.8L537.9 165.7L541.1 165.3L543.8 162.9L548.2 162.2L552.7 161.7L555.3 161.8L560.2 159.3L564.6 157.4L567.6 157.9L569.8 158.7L573.1 156.4L576.4 164L581.2 158.4L584.6 158.2L589.5 160L594.1 158.3L598.7 157L602.2 163L606.9 158.4L611.6 164.5L614.4 164.9L616.9 165.3L621 167.1L625.7 161.7L630.2 167L634.7 167.6L638.4 161.2L643.3 165L645.5 169.2L648 165.1L652.3 166.9L655.5 167.2L657.7 171.8L661.9 165.5L665.3 169.6L668 172L670.4 169.7L673.8 170L677.5 166.9L681.6 169.1L684.8 166.3L689.1 166.8L692 162.5L696.1 167L700.3 165.8L704.2 165.1L706.5 165.2L708.7 159.6L712.9 158.8L717.9 161L722.1 158.2L725.1 161.2L729.6 161.4L733.4 163.2L738.3 162.8L741.5 159.6L743.9 157.3L748.1 162.6L750.7 163.3L754.7 164.2L757.4 160.8L760.7 157.7L765.1 158.4L769.5 162.3L773.5 156.9L777 162.9L779.4 159.1L781.8 159.7L784.9 163.5L787.4 161.1L790.1 162.7L794.2 160.2L797 159.1L802 156.7L807 157" stroke="#00f" stroke-width="14.5"/>
</g>
<rect x="324.3" y="106.2" width="475.3" height="163.5" fill="none" stroke="#8b6508" stroke-width="3.1"/>
<rect x="587.6" y="444.6" width="132.0" height="298.7" fill="#fff"/>
<g class="c" clip-path="url(#cm)">
<path d="M710.7 438L710.5 438.7L710.3 439.4L710 440.1L709.7 440.8L709.4 441.5L709 442.2L708.7 442.9L708.4 443.6L708.2 444.3L708 445L707.7 445.7L707.5 446.4L707.3 447.1L707.1 447.8L706.8 448.5L706.5 449.2L706.2 449.9L705.8 450.6L705.4 451.3L705 452L704.6 452.7L704.1 453.4L703.7 454.1L703.2 454.8L702.6 455.5L702.1 456.2L701.6 456.9L701.2 457.6L700.8 458.3L700.5 459L700.2 459.7L700 460.4L699.8 461.1L699.5 461.8L699.2 462.5L698.8 463.2L698.4 463.9L698 464.6L697.7 465.3L697.4 466L697.2 466.7L697 467.4L696.7 468.1L696.5 468.8L696.3 469.5L696 470.2L695.8 470.9L695.6 471.6L695.5 472.3L695.3 473L695 473.7L694.8 474.4L694.6 475.1L694.4 475.8L694.1 476.5L693.9 477.2L693.7 477.9L693.4 478.6L693.2 479.3L693 480L692.8 480.7L692.7 481.4L692.5 482.1L692.3 482.8L692 483.5L691.8 484.2L691.6 484.9L691.3 485.6L691.1 486.3L690.9 487L690.7 487.7L690.6 488.4L690.5 489.1L690.4 489.8L690.3 490.5L690.3 491.2L690.2 491.9L690 492.6L689.8 493.3L689.5 494L689.2 494.7L688.7 495.4L688.2 496.1L687.7 496.8L687.2 497.5L686.9 498.2L686.7 498.9L686.6 499.6L686.5 500.3L686.5 501L686.3 501.7L686.1 502.4L685.8 503.1L685.4 503.8L685 504.5L684.5 505.2L684.1 505.9L683.7 506.6L683.3 507.3L683 508L682.8 508.7L682.6 509.4L682.5 510.1L682.3 510.8L682.2 511.5L682 512.2L681.8 512.9L681.6 513.6L681.4 514.3L681.2 515L680.9 515.7L680.7 516.4L680.4 517.1L680.2 517.8L680 518.5L679.8 519.2L679.7 519.9L679.6 520.6L679.5 521.3L679.3 522L679 522.7L678.5 523.4L677.9 524.1L677.2 524.8L676.6 525.5L676 526.2L675.6 526.9L675.4 527.6L675.4 528.3L675.5 529L675.7 529.7L675.8 530.4L675.9 531.1L675.8 531.8L675.6 532.5L675.2 533.2L674.9 533.9L674.6 534.6L674.4 535.3L674.3 536L674.2 536.7L674.1 537.4L673.9 538.1L673.7 538.8L673.4 539.5L673 540.2L672.7 540.9L672.4 541.6L672.1 542.3L671.9 543L671.7 543.7L671.6 544.4L671.4 545.1L671.2 545.8L670.8 546.5L670.5 547.2L670 547.9L669.7 548.6L669.3 549.3L669.1 550L669 550.7L668.9 551.4L668.9 552.1L668.9 552.8L668.8 553.5L668.7 554.2L668.6 554.9L668.5 555.6L668.4 556.3L668.3 557L668.3 557.7L668.3 558.4L668.2 559.1L668.2 559.8L668.1 560.5L667.9 561.2L667.6 561.9L667.3 562.6L666.9 563.3L666.5 564L666.2 564.7L665.9 565.4L665.7 566.1L665.6 566.8L665.6 567.5L665.5 568.2L665.4 568.9L665.2 569.6L664.9 570.3L664.7 571L664.4 571.7L664.1 572.4L663.8 573.1L663.5 573.8L663.3 574.5L663.1 575.2L662.9 575.9L662.7 576.6L662.4 577.3L662.1 578L661.8 578.7L661.5 579.4L661.2 580.1L660.9 580.8L660.8 581.5L660.7 582.2L660.6 582.9L660.5 583.6L660.4 584.3L660.3 585L660.1 585.7L660 586.4L659.8 587.1L659.7 587.8L659.6 588.5L659.4 589.2L659.3 589.9L659.1 590.6L659 591.3L658.8 592L658.6 592.7L658.4 593.4L658 594.1L657.6 594.8L657.2 595.5L656.8 596.2L656.4 596.9L656.1 597.6L655.8 598.3L655.6 599L655.5 599.7L655.4 600.4L655.4 601.1L655.4 601.8L655.5 602.5L655.5 603.2L655.5 603.9L655.3 604.6L655 605.3L654.6 606L654.2 606.7L653.8 607.4L653.4 608.1L653.2 608.8L653.1 609.5L653.1 610.2L653.1 610.9L653.1 611.6L653.1 612.3L653 613L652.8 613.7L652.6 614.4L652.3 615.1L652 615.8L651.7 616.5L651.4 617.2L651.2 617.9L650.9 618.6L650.5 619.3L650.2 620L649.9 620.7L649.6 621.4L649.4 622.1L649.2 622.8L649 623.5L648.8 624.2L648.6 624.9L648.4 625.6L648.2 626.3L648.1 627L648 627.7L648 628.4L648 629.1L647.9 629.8L647.8 630.5L647.7 631.2L647.4 631.9L647.1 632.6L646.8 633.3L646.6 634L646.4 634.7L646.4 635.4L646.3 636.1L646.3 636.8L646.2 637.5L646 638.2L645.8 638.9L645.6 639.6L645.3 640.3L645.1 641L644.8 641.7L644.6 642.4L644.3 643.1L644 643.8L643.6 644.5L643.3 645.2L643 645.9L642.8 646.6L642.5 647.3L642.4 648L642.2 648.7L642 649.4L641.8 650.1L641.5 650.8L641.2 651.5L641 652.2L640.7 652.9L640.5 653.6L640.4 654.3L640.4 655L640.4 655.7L640.4 656.4L640.4 657.1L640.2 657.8L640 658.5L639.7 659.2L639.4 659.9L639.1 660.6L638.8 661.3L638.6 662L638.3 662.7L638 663.4L637.7 664.1L637.4 664.8L637.2 665.5L637 666.2L636.8 666.9L636.7 667.6L636.7 668.3L636.6 669L636.6 669.7L636.6 670.4L636.6 671.1L636.5 671.8L636.2 672.5L636 673.2L635.7 673.9L635.4 674.6L635.2 675.3L635 676L635 676.7L635 677.4L635.1 678.1L635.2 678.8L635.3 679.5L635.4 680.2L635.4 680.9L635.3 681.6L635.1 682.3L634.9 683L634.6 683.7L634.3 684.4L634.1 685.1L633.9 685.8L633.7 686.5L633.6 687.2L633.5 687.9L633.4 688.6L633.3 689.3L633.2 690L633.1 690.7L633 691.4L632.8 692.1L632.6 692.8L632.4 693.5L632.2 694.2L632.1 694.9L632.1 695.6L632 696.3L631.9 697L631.7 697.7L631.5 698.4L631.4 699.1L631.2 699.8L631.1 700.5L631 701.2L631 701.9L630.8 702.6L630.7 703.3L630.6 704L630.6 704.7L630.6 705.4L630.7 706.1L630.8 706.8L630.8 707.5L630.6 708.2L630.3 708.9L629.8 709.6L629.4 710.3L629 711L628.7 711.7L628.6 712.4L628.6 713.1L628.7 713.8L628.7 714.5L628.7 715.2L628.5 715.9L628.3 716.6L627.9 717.3L627.6 718L627.3 718.7L627 719.4L626.8 720.1L626.7 720.8L626.7 721.5L626.7 722.2L626.7 722.9L626.8 723.6L626.8 724.3L626.9 725L626.9 725.7L626.8 726.4L626.7 727.1L626.4 727.8L626.1 728.5L625.8 729.2L625.5 729.9L625.2 730.6L625 731.3L624.9 732L624.8 732.7L624.9 733.4L624.9 734.1L625.1 734.8L625.3 735.5L625.5 736.2L625.7 736.9L625.8 737.6L625.9 738.3L625.8 739L625.5 739.7L625.2 740.4L624.9 741.1L624.6 741.8L624.2 742.5L623.9 743.2L623.6 743.9L623.3 744.6L623.1 745.3L623 746L622.8 746.7L622.7 747.4L622.7 748.1L622.6 748.8L622.5 749.5" stroke="#000" stroke-width="7.5"/>
<path d="M707.8 438L707.6 438.7L707.4 439.4L707.2 440.1L706.9 440.8L706.5 441.5L706.2 442.2L705.8 442.9L705.3 443.6L704.9 444.3L704.6 445L704.2 445.7L703.9 446.4L703.6 447.1L703.4 447.8L703.1 448.5L702.8 449.2L702.4 449.9L702 450.6L701.6 451.3L701.3 452L701 452.7L700.8 453.4L700.7 454.1L700.5 454.8L700.3 455.5L700.1 456.2L699.7 456.9L699.3 457.6L698.8 458.3L698.2 459L697.6 459.7L697.1 460.4L696.5 461.1L696.1 461.8L695.7 462.5L695.3 463.2L694.9 463.9L694.6 464.6L694.4 465.3L694.3 466L694.2 466.7L694.1 467.4L693.9 468.1L693.8 468.8L693.7 469.5L693.5 470.2L693.3 470.9L693.1 471.6L692.9 472.3L692.6 473L692.4 473.7L692.2 474.4L691.9 475.1L691.7 475.8L691.5 476.5L691.2 477.2L691 477.9L690.7 478.6L690.5 479.3L690.3 480L690.1 480.7L689.9 481.4L689.7 482.1L689.6 482.8L689.5 483.5L689.5 484.2L689.5 484.9L689.5 485.6L689.4 486.3L689.3 487L689.1 487.7L688.8 488.4L688.3 489.1L687.8 489.8L687.3 490.5L686.9 491.2L686.5 491.9L686.3 492.6L686.1 493.3L685.9 494L685.7 494.7L685.4 495.4L685.2 496.1L684.9 496.8L684.7 497.5L684.5 498.2L684.3 498.9L684.1 499.6L683.8 500.3L683.5 501L683.2 501.7L682.9 502.4L682.7 503.1L682.4 503.8L682.2 504.5L682.1 505.2L681.9 505.9L681.7 506.6L681.5 507.3L681.3 508L681 508.7L680.7 509.4L680.4 510.1L680.1 510.8L679.8 511.5L679.6 512.2L679.3 512.9L679 513.6L678.7 514.3L678.4 515L678.2 515.7L677.9 516.4L677.7 517.1L677.4 517.8L677.2 518.5L676.9 519.2L676.7 519.9L676.6 520.6L676.4 521.3L676.3 522L676.1 522.7L675.9 523.4L675.6 524.1L675.2 524.8L674.8 525.5L674.3 526.2L673.9 526.9L673.5 527.6L673.1 528.3L672.9 529L672.7 529.7L672.6 530.4L672.6 531.1L672.6 531.8L672.5 532.5L672.5 533.2L672.4 533.9L672.2 534.6L672 535.3L671.8 536L671.6 536.7L671.5 537.4L671.3 538.1L671.1 538.8L670.9 539.5L670.7 540.2L670.5 540.9L670.2 541.6L670 542.3L669.8 543L669.5 543.7L669.3 544.4L669.1 545.1L668.8 545.8L668.5 546.5L668.2 547.2L667.8 547.9L667.5 548.6L667.1 549.3L666.9 550L666.7 550.7L666.5 551.4L666.4 552.1L666.3 552.8L666.2 553.5L666.1 554.2L666 554.9L665.9 555.6L665.8 556.3L665.7 557L665.6 557.7L665.6 558.4L665.6 559.1L665.6 559.8L665.5 560.5L665.4 561.2L665.2 561.9L664.9 562.6L664.6 563.3L664.3 564L664 564.7L663.8 565.4L663.6 566.1L663.4 566.8L663.3 567.5L663.2 568.2L663.1 568.9L663 569.6L662.8 570.3L662.6 571L662.3 571.7L662 572.4L661.7 573.1L661.5 573.8L661.2 574.5L661 575.2L660.7 575.9L660.3 576.6L659.9 577.3L659.5 578L659.2 578.7L658.9 579.4L658.7 580.1L658.5 580.8L658.4 581.5L658.3 582.2L658.1 582.9L657.9 583.6L657.6 584.3L657.4 585L657.2 585.7L657.1 586.4L656.9 587.1L656.8 587.8L656.7 588.5L656.6 589.2L656.5 589.9L656.3 590.6L656 591.3L655.8 592L655.6 592.7L655.5 593.4L655.4 594.1L655.4 594.8L655.4 595.5L655.3 596.2L655.2 596.9L655.1 597.6L655 598.3L654.9 599L654.9 599.7L654.8 600.4L654.7 601.1L654.6 601.8L654.4 602.5L654.2 603.2L653.9 603.9L653.5 604.6L653.1 605.3L652.7 606L652.3 606.7L652 607.4L651.8 608.1L651.6 608.8L651.5 609.5L651.5 610.2L651.4 610.9L651.3 611.6L651.1 612.3L650.9 613L650.6 613.7L650.4 614.4L650.1 615.1L649.9 615.8L649.7 616.5L649.5 617.2L649.2 617.9L649 618.6L648.8 619.3L648.6 620L648.5 620.7L648.4 621.4L648.3 622.1L648.1 622.8L647.9 623.5L647.7 624.2L647.3 624.9L647 625.6L646.6 626.3L646.2 627L645.9 627.7L645.5 628.4L645.3 629.1L645.1 629.8L645 630.5L644.9 631.2L644.8 631.9L644.6 632.6L644.4 633.3L644.1 634L643.7 634.7L643.5 635.4L643.3 636.1L643.2 636.8L643.1 637.5L643.1 638.2L643.1 638.9L643 639.6L642.8 640.3L642.5 641L642.2 641.7L641.9 642.4L641.5 643.1L641.3 643.8L641 644.5L640.8 645.2L640.6 645.9L640.4 646.6L640.2 647.3L640.1 648L639.9 648.7L639.7 649.4L639.5 650.1L639.3 650.8L639.2 651.5L639 652.2L638.9 652.9L638.8 653.6L638.7 654.3L638.5 655L638.4 655.7L638.3 656.4L638.1 657.1L638 657.8L637.8 658.5L637.6 659.2L637.4 659.9L637.2 660.6L637.1 661.3L636.9 662L636.8 662.7L636.6 663.4L636.5 664.1L636.3 664.8L636.1 665.5L635.8 666.2L635.5 666.9L635.1 667.6L634.8 668.3L634.6 669L634.4 669.7L634.4 670.4L634.3 671.1L634.2 671.8L634.1 672.5L633.9 673.2L633.8 673.9L633.6 674.6L633.5 675.3L633.5 676L633.4 676.7L633.4 677.4L633.3 678.1L633.2 678.8L633.1 679.5L633 680.2L632.9 680.9L632.7 681.6L632.6 682.3L632.4 683L632.2 683.7L632 684.4L631.8 685.1L631.7 685.8L631.6 686.5L631.6 687.2L631.6 687.9L631.5 688.6L631.5 689.3L631.3 690L631.2 690.7L631 691.4L630.9 692.1L630.8 692.8L630.8 693.5L630.7 694.2L630.7 694.9L630.6 695.6L630.6 696.3L630.4 697L630.3 697.7L630.1 698.4L630 699.1L629.9 699.8L629.8 700.5L629.8 701.2L629.7 701.9L629.7 702.6L629.6 703.3L629.5 704L629.4 704.7L629.2 705.4L629 706.1L628.7 706.8L628.4 707.5L628 708.2L627.6 708.9L627.2 709.6L626.8 710.3L626.4 711L626.1 711.7L625.9 712.4L625.9 713.1L625.9 713.8L626 714.5L626.1 715.2L626.2 715.9L626.3 716.6L626.2 717.3L626.1 718L625.9 718.7L625.6 719.4L625.4 720.1L625.3 720.8L625.1 721.5L625 722.2L624.9 722.9L624.8 723.6L624.7 724.3L624.4 725L624.2 725.7L623.9 726.4L623.6 727.1L623.4 727.8L623.2 728.5L623 729.2L623 729.9L623 730.6L623 731.3L623.1 732L623.1 732.7L623.2 733.4L623.2 734.1L623.2 734.8L623.2 735.5L623.1 736.2L623 736.9L622.8 737.6L622.6 738.3L622.4 739L622.2 739.7L622 740.4L621.8 741.1L621.6 741.8L621.5 742.5L621.3 743.2L621.2 743.9L621.2 744.6L621.1 745.3L621.1 746L621 746.7L620.9 747.4L620.7 748.1L620.4 748.8L620.1 749.5" stroke="#f00" stroke-width="7.5"/>
<path d="M699.8 438L699.6 438.7L699.4 439.4L699.2 440.1L699.1 440.8L698.9 441.5L698.8 442.2L698.5 442.9L698.2 443.6L697.9 444.3L697.5 445L697 445.7L696.5 446.4L696 447.1L695.4 447.8L694.9 448.5L694.4 449.2L693.9 449.9L693.4 450.6L693 451.3L692.6 452L692.2 452.7L691.9 453.4L691.6 454.1L691.3 454.8L691.1 455.5L690.8 456.2L690.5 456.9L690.1 457.6L689.7 458.3L689.3 459L688.9 459.7L688.5 460.4L688.1 461.1L687.8 461.8L687.5 462.5L687.4 463.2L687.2 463.9L687.1 464.6L687.1 465.3L687.1 466L687 466.7L686.9 467.4L686.8 468.1L686.6 468.8L686.4 469.5L686.2 470.2L686 470.9L685.8 471.6L685.6 472.3L685.4 473L685.3 473.7L685.2 474.4L685.2 475.1L685.1 475.8L684.9 476.5L684.6 477.2L684.3 477.9L683.9 478.6L683.5 479.3L683.1 480L682.8 480.7L682.4 481.4L682.1 482.1L681.8 482.8L681.5 483.5L681.3 484.2L681 484.9L680.8 485.6L680.5 486.3L680.3 487L680 487.7L679.7 488.4L679.4 489.1L679.2 489.8L678.9 490.5L678.8 491.2L678.7 491.9L678.8 492.6L678.8 493.3L678.8 494L678.8 494.7L678.5 495.4L678.2 496.1L677.7 496.8L677.2 497.5L676.8 498.2L676.4 498.9L676 499.6L675.8 500.3L675.7 501L675.5 501.7L675.3 502.4L675.1 503.1L674.8 503.8L674.6 504.5L674.4 505.2L674.2 505.9L674.1 506.6L674 507.3L674 508L673.9 508.7L673.8 509.4L673.5 510.1L673.2 510.8L672.9 511.5L672.6 512.2L672.3 512.9L672.1 513.6L672 514.3L672 515L672 515.7L671.9 516.4L671.7 517.1L671.5 517.8L671.2 518.5L670.8 519.2L670.4 519.9L670.1 520.6L669.8 521.3L669.5 522L669.3 522.7L669 523.4L668.8 524.1L668.5 524.8L668.1 525.5L667.7 526.2L667.4 526.9L667.1 527.6L666.9 528.3L666.7 529L666.5 529.7L666.3 530.4L666 531.1L665.7 531.8L665.3 532.5L665 533.2L664.9 533.9L664.8 534.6L664.8 535.3L664.8 536L664.7 536.7L664.5 537.4L664.3 538.1L663.9 538.8L663.5 539.5L663.2 540.2L663 540.9L662.9 541.6L662.8 542.3L662.7 543L662.6 543.7L662.5 544.4L662.2 545.1L661.9 545.8L661.5 546.5L661.1 547.2L660.8 547.9L660.5 548.6L660.4 549.3L660.2 550L660.1 550.7L660 551.4L659.8 552.1L659.7 552.8L659.6 553.5L659.5 554.2L659.5 554.9L659.5 555.6L659.4 556.3L659.2 557L658.9 557.7L658.6 558.4L658.2 559.1L657.9 559.8L657.6 560.5L657.4 561.2L657.4 561.9L657.4 562.6L657.4 563.3L657.4 564L657.3 564.7L657.2 565.4L657 566.1L656.8 566.8L656.7 567.5L656.6 568.2L656.4 568.9L656.3 569.6L656.1 570.3L655.9 571L655.6 571.7L655.4 572.4L655.2 573.1L654.9 573.8L654.7 574.5L654.6 575.2L654.4 575.9L654.2 576.6L654.1 577.3L653.9 578L653.6 578.7L653.3 579.4L652.8 580.1L652.4 580.8L651.9 581.5L651.5 582.2L651.3 582.9L651.1 583.6L651.1 584.3L651.1 585L651.1 585.7L651.1 586.4L651 587.1L650.8 587.8L650.6 588.5L650.4 589.2L650.1 589.9L649.9 590.6L649.7 591.3L649.6 592L649.5 592.7L649.5 593.4L649.5 594.1L649.4 594.8L649.3 595.5L649.1 596.2L648.9 596.9L648.7 597.6L648.5 598.3L648.2 599L648.1 599.7L647.9 600.4L647.8 601.1L647.6 601.8L647.4 602.5L647.2 603.2L646.9 603.9L646.6 604.6L646.3 605.3L646 606L645.7 606.7L645.4 607.4L645.2 608.1L645 608.8L644.9 609.5L644.9 610.2L644.9 610.9L644.8 611.6L644.8 612.3L644.7 613L644.5 613.7L644.2 614.4L643.9 615.1L643.5 615.8L643 616.5L642.6 617.2L642.3 617.9L642 618.6L641.7 619.3L641.6 620L641.4 620.7L641.4 621.4L641.3 622.1L641.3 622.8L641.2 623.5L641.1 624.2L641 624.9L640.8 625.6L640.6 626.3L640.4 627L640.1 627.7L639.9 628.4L639.7 629.1L639.5 629.8L639.3 630.5L639.2 631.2L639.1 631.9L639 632.6L638.9 633.3L638.7 634L638.5 634.7L638.2 635.4L638 636.1L637.8 636.8L637.7 637.5L637.5 638.2L637.2 638.9L637 639.6L636.6 640.3L636.3 641L636 641.7L635.7 642.4L635.4 643.1L635.1 643.8L634.9 644.5L634.7 645.2L634.6 645.9L634.5 646.6L634.5 647.3L634.5 648L634.5 648.7L634.6 649.4L634.6 650.1L634.6 650.8L634.5 651.5L634.4 652.2L634.2 652.9L633.9 653.6L633.5 654.3L633.1 655L632.8 655.7L632.6 656.4L632.5 657.1L632.5 657.8L632.5 658.5L632.4 659.2L632.4 659.9L632.4 660.6L632.3 661.3L632.2 662L632.1 662.7L632 663.4L631.8 664.1L631.6 664.8L631.4 665.5L631.1 666.2L631 666.9L630.9 667.6L630.9 668.3L631 669L630.9 669.7L630.9 670.4L630.7 671.1L630.5 671.8L630.2 672.5L629.9 673.2L629.7 673.9L629.4 674.6L629.2 675.3L628.9 676L628.6 676.7L628.2 677.4L627.9 678.1L627.6 678.8L627.5 679.5L627.4 680.2L627.4 680.9L627.5 681.6L627.5 682.3L627.6 683L627.6 683.7L627.5 684.4L627.3 685.1L627.2 685.8L627 686.5L626.8 687.2L626.6 687.9L626.5 688.6L626.4 689.3L626.3 690L626.2 690.7L626 691.4L625.8 692.1L625.6 692.8L625.4 693.5L625.3 694.2L625.1 694.9L625 695.6L625 696.3L624.9 697L624.7 697.7L624.5 698.4L624.3 699.1L624.1 699.8L623.8 700.5L623.6 701.2L623.4 701.9L623.2 702.6L623.1 703.3L623 704L622.9 704.7L622.8 705.4L622.6 706.1L622.5 706.8L622.4 707.5L622.3 708.2L622.2 708.9L622.1 709.6L622 710.3L622 711L622 711.7L622 712.4L622 713.1L622 713.8L621.9 714.5L621.8 715.2L621.7 715.9L621.7 716.6L621.7 717.3L621.7 718L621.8 718.7L621.8 719.4L621.8 720.1L621.8 720.8L621.6 721.5L621.5 722.2L621.2 722.9L620.9 723.6L620.6 724.3L620.2 725L619.8 725.7L619.4 726.4L619.1 727.1L618.9 727.8L618.7 728.5L618.6 729.2L618.6 729.9L618.6 730.6L618.6 731.3L618.7 732L618.7 732.7L618.8 733.4L618.8 734.1L618.7 734.8L618.7 735.5L618.5 736.2L618.4 736.9L618.2 737.6L618 738.3L617.7 739L617.5 739.7L617.3 740.4L617.1 741.1L617 741.8L616.8 742.5L616.7 743.2L616.7 743.9L616.6 744.6L616.7 745.3L616.7 746L616.8 746.7L616.8 747.4L616.8 748.1L616.7 748.8L616.5 749.5" stroke="#00f" stroke-width="10.0"/>
</g>
<rect x="587.6" y="444.6" width="132.0" height="298.7" fill="none" stroke="#8b6508" stroke-width="3.1"/>
<rect x="286.5" y="871.3" width="473.4" height="182.4" fill="#fff"/>
<g class="f" clip-path="url(#cb)">
<path d="M280 994.5L282 994.9L284 994.2L286 994.1L288 993.9L290 992.7L292 992L294 991.8L296 990L298 990L300 988.4L302 986.1L304 985.9L306 983.8L308 983.1L310 980.9L312 977.9L314 975L316 972.4L318 972L320 969.8L322 968.8L324 968.2L326 968.6L328 967.3L330 967.5L332 967.7L334 967.6L336 969.6L338 971.7L340 974.8L342 975.8L344 977.9L346 975.4L348 969.1L350 963L352 959.5L354 957.7L356 958.1L358 955.8L360 956.2L362 955.3L364 954.2L366 954.5L368 954.3L370 956L372 956.5L374 957.4L376 959.1L378 961.2L380 962.5L382 963.2L384 964L386 965.7L388 966.1L390 967L392 966.7L394 964.5L396 963.7L398 963.4L400 962.3L402 962.6L404 961.4L406 961.2L408 962.7L410 963.6L412 963.8L414 963.6L416 966L418 966.6L420 969.1L422 969.6L424 971.3L426 972L428 973.3L430 974L432 975.1L434 974.7L436 976.8L438 977L440 976.2L442 974.8L444 973.2L446 970.2L448 967.6L450 965.7L452 964.3L454 964.4L456 967.3L458 970L460 971.9L462 973.9L464 974.6L466 976.2L468 976.6L470 977.9L472 977.5L474 978L476 977.3L478 976.6L480 976.9L482 976.5L484 976.3L486 977.6L488 979.7L490 981L492 983.4L494 984L496 984.1L498 980.8L500 979L502 977.1L504 975.6L506 975.1L508 975.6L510 975.9L512 977.8L514 978.8L516 979.9L518 981.2L520 981.7L522 981.7L524 981.3L526 978.8L528 978.2L530 976L532 975.6L534 972.7L536 972.4L538 971L540 968.5L542 966.8L544 966.4L546 967.5L548 969.2L550 970.7L552 973.3L554 974.7L556 977.7L558 978.8L560 981.3L562 983.8L564 984.3L566 984L568 983.3L570 982.3L572 980.7L574 979.4L576 978.7L578 978.7L580 978.6L582 977.2L584 977.2L586 977L588 977.1L590 977.3L592 976.2L594 977.3L596 976.1L598 978.4L600 980.5L602 981.9L604 983.9L606 984.4L608 984.2L610 983.3L612 984L614 982.5L616 982.4L618 981.3L620 981.6L622 980.1L624 980L626 980.9L628 980.1L630 980.9L632 980.6L634 980.7L636 979.3L638 980.3L640 979.4L642 977.3L644 974.6L646 972.5L648 971.2L650 969.5L652 968.1L654 967.5L656 967.9L658 967.4L660 969.3L662 970.8L664 972.7L666 973.3L668 974.1L670 973L672 969.6L674 964.3L676 960.1L678 957L680 954.1L682 951.5L684 950.3L686 949.3L688 946.8L690 947.8L692 946.8L694 947L696 948.6L698 949.8L700 951.2L702 950.1L704 950.3L706 950L708 950.1L710 948.5L712 948.6L714 949.2L716 949.7L718 950.5L720 949.2L722 949.2L724 947.8L726 946.3L728 944L730 942.2L732 941.9L734 941.3L736 942.9L738 943.9L740 942.5L742 942.6L744 942.5L746 943.5L748 944.6L750 944.9L752 947.5L754 949.5L756 950.1L758 952.6L760 954.1L762 954.5L764 953.7L766 953.9L766 980.9L764 980L762 981.4L760 979.9L758 980.4L756 979.8L754 980.2L752 978.5L750 979.8L748 978.6L746 977.1L744 975.3L742 974L740 970L738 968.4L736 966.4L734 965.3L732 963.7L730 963.4L728 967.8L726 972.6L724 977.5L722 980L720 980.3L718 981.4L716 980.7L714 981.4L712 979.8L710 976.5L708 977.5L706 978.5L704 981.5L702 983.4L700 985.1L698 985.7L696 985.7L694 986.3L692 985.7L690 985.7L688 986L686 987.6L684 988.5L682 988L680 989.3L678 989.5L676 989.2L674 989.2L672 989.7L670 989.8L668 989.7L666 989L664 989.3L662 987.7L660 987L658 990L656 993.3L654 996.8L652 1000L650 1002.8L648 1006.4L646 1009.1L644 1010.4L642 1011.4L640 1012.6L638 1013.3L636 1014.4L634 1013.3L632 1012.7L630 1011.6L628 1011.8L626 1011.8L624 1012.1L622 1012.9L620 1013.1L618 1013.7L616 1014.7L614 1014.3L612 1012.6L610 1011.2L608 1011.1L606 1008.7L604 1009L602 1007L600 1007L598 1007L596 1007.1L594 1007.9L592 1009.3L590 1008L588 1008.3L586 1007.4L584 1007.4L582 1005.7L580 1006L578 1006.4L576 1007.2L574 1007.4L572 1008.4L570 1008.1L568 1008.3L566 1007.6L564 1007.8L562 1005.6L560 1005L558 1004.9L556 1004.1L554 1004.3L552 1003.9L550 1005.6L548 1004.3L546 1005L544 1005.2L542 1002.6L540 1002.7L538 1001.8L536 1002.8L534 1003L532 1005.6L530 1006L528 1007.1L526 1008.7L524 1008.5L522 1006.9L520 1003.9L518 1002.5L516 1001L514 999.5L512 1001.3L510 1003.1L508 1005.1L506 1006.3L504 1007.5L502 1010.3L500 1011.6L498 1012.5L496 1013.1L494 1014.6L492 1014.3L490 1013.8L488 1013.4L486 1012.4L484 1011.3L482 1010.1L480 1010.7L478 1009.3L476 1009L474 1008.1L472 1005.5L470 1004.7L468 1004.7L466 1003.6L464 1004L462 1002.4L460 1002.4L458 1002.8L456 1001.9L454 1002.9L452 1000.6L450 1001.1L448 999.6L446 999.3L444 997.1L442 996.3L440 996.4L438 997.5L436 998.2L434 999.1L432 1001.4L430 1002.1L428 1003.3L426 1003.8L424 1001.7L422 1001.2L420 1000.5L418 998.2L416 994.5L414 991L412 988L410 988.8L408 988.8L406 988.1L404 988.1L402 988.6L400 990L398 992.6L396 993.6L394 995.4L392 996.1L390 997.1L388 998.2L386 995.8L384 995.9L382 993.3L380 992L378 989.9L376 987.7L374 983L372 980.5L370 978.9L368 977.6L366 981.7L364 983.7L362 986.7L360 990L358 991.7L356 993.3L354 994.1L352 995.7L350 996L348 998L346 999L344 1001.1L342 1002L340 1002.1L338 1001.8L336 999.7L334 999.8L332 999.7L330 997.4L328 998.6L326 1002.6L324 1006.2L322 1009.3L320 1010.9L318 1011.7L316 1012.1L314 1013.7L312 1014.3L310 1014.3L308 1015.6L306 1015.8L304 1017L302 1017.1L300 1017.6L298 1019.4L296 1019.2L294 1020.4L292 1020.5L290 1022.8L288 1023.3L286 1023.5L284 1022.5L282 1022.6L280 1022.5Z" fill="#000" stroke="#000" stroke-width="6.0" stroke-linejoin="round"/>
<path d="M280 992.9L282 992.7L284 992.1L286 991.7L288 992.4L290 991.2L292 991L294 988.7L296 989.5L298 987.4L300 987.4L302 986.9L304 984.6L306 985L308 983.7L310 982.5L312 981.7L314 978.9L316 978.1L318 977.9L320 976.1L322 974.5L324 973.6L326 971.9L328 971L330 968.4L332 968.7L334 967.8L336 968.5L338 970.5L340 973.7L342 974.6L344 976.6L346 976.2L348 975.7L350 972.8L352 970.9L354 968.9L356 967L358 964.8L360 963.2L362 963.1L364 963.4L366 964.6L368 966.1L370 967.2L372 969.1L374 970.3L376 970.4L378 973.4L380 974.8L382 974.6L384 974.3L386 973.3L388 973.2L390 971.1L392 970.6L394 969L396 968.3L398 966.5L400 964.6L402 963.8L404 964.4L406 966.7L408 966.8L410 967.8L412 969.3L414 971.5L416 971.6L418 973.2L420 973.9L422 975.2L424 976.3L426 976.3L428 977.1L430 976.2L432 974.8L434 974.4L436 973.5L438 972.5L440 970.5L442 969.5L444 968.6L446 967L448 965.8L450 965.4L452 965.4L454 968L456 970.6L458 973.5L460 973.7L462 976L464 976.9L466 978.6L468 979.4L470 980.2L472 981.2L474 979.5L476 978.9L478 978L480 975.5L482 975.3L484 974.9L486 975.2L488 977.6L490 978.4L492 980.6L494 980.4L496 980.4L498 979.5L500 976.6L502 973.8L504 971.9L506 970.8L508 973.4L510 973.4L512 974.7L514 975.1L516 976.8L518 978L520 979.1L522 978.4L524 978.5L526 977.4L528 974.3L530 974.2L532 971.5L534 970.7L536 967.8L538 967.7L540 966.1L542 965.3L544 964.8L546 967.4L548 967.8L550 969.7L552 971L554 973.6L556 975.5L558 978.3L560 979.4L562 980.4L564 981L566 982L568 981.3L570 979.6L572 977.6L574 976.6L576 976.2L578 974.6L580 974.9L582 973.3L584 972.3L586 971.6L588 971.8L590 972.3L592 972.6L594 972.3L596 972.8L598 974.9L600 977.8L602 980.5L604 981.7L606 980.8L608 978.7L610 977.2L612 977.5L614 976.8L616 976.6L618 977.2L620 977.2L622 977.4L624 978.3L626 978.3L628 978.4L630 978.7L632 979.8L634 980.8L636 980.8L638 980L640 979.9L642 979.4L644 978.5L646 976.6L648 973.8L650 971L652 970.1L654 966.4L656 965.5L658 964.7L660 966L662 968L664 970.4L666 970.7L668 971.5L670 972L672 970.3L674 968.9L676 966.9L678 966.1L680 964.5L682 964.1L684 963.9L686 963L688 962L690 962.1L692 961.3L694 961.7L696 960.2L698 959.4L700 959L702 959.5L704 957.6L706 958.2L708 956.1L710 955.4L712 955.2L714 953L716 952.8L718 950.1L720 949.3L722 947.3L724 946L726 945.1L728 943.1L730 940.4L732 939.8L734 941.4L736 942.1L738 944L740 945L742 947.1L744 949.2L746 951.1L748 952.6L750 954.5L752 955.4L754 955.1L756 955.2L758 956.5L760 957.6L762 956.2L764 957.5L766 957.6L766 967.6L764 967.2L762 967.1L760 966.5L758 965.7L756 965.7L754 965.4L752 964L750 963.6L748 962.8L746 962L744 962.2L742 963.4L740 964.7L738 965.1L736 964.7L734 964.3L732 962.5L730 961.3L728 961.8L726 963.6L724 966.6L722 968.3L720 969.3L718 970.2L716 970.6L714 969.6L712 969.3L710 970.3L708 971.4L706 971.1L704 974.1L702 975.3L700 977.5L698 978.5L696 979.5L694 979.4L692 979.1L690 979L688 978.8L686 980.7L684 980.4L682 981.8L680 982.1L678 983.5L676 984.6L674 986.6L672 987.8L670 988.4L668 990L666 988.8L664 988.4L662 987L660 984.3L658 984.3L656 982.2L654 982.2L652 982.7L650 983.6L648 986.1L646 986.9L644 988.1L642 989.8L640 990.6L638 992.4L636 993.4L634 996.6L632 998.6L630 1001.7L628 1002.8L626 1002.1L624 1002L622 999.4L620 997.1L618 993.3L616 991.2L614 990L612 988.9L610 989.9L608 991.5L606 991.2L604 991.8L602 992L600 994.6L598 996.7L596 1000.4L594 1003.7L592 1004.8L590 1004.2L588 1004.1L586 1004.4L584 1003.8L582 1001.1L580 998.7L578 996.7L576 996.5L574 998.1L572 998.9L570 999.3L568 1000.1L566 999.1L564 998.8L562 997.1L560 996.4L558 995.6L556 992.2L554 989.6L552 987.4L550 986.6L548 987.9L546 987.6L544 989L542 989.5L540 990.1L538 989.3L536 991.3L534 992.6L532 992.3L530 994L528 995.9L526 996.4L524 998.9L522 999.4L520 998.8L518 996.9L516 995.2L514 993.7L512 991.9L510 991.4L508 991.4L506 993.4L504 996.8L502 998.7L500 1002.1L498 1005.5L496 1006.1L494 1005.1L492 1003.9L490 1002.9L488 1001.4L486 997.7L484 992.3L482 988.3L480 985.9L478 987.3L476 988.2L474 988.7L472 989.9L470 989L468 987.7L466 987L464 986.3L462 984.5L460 985L458 983.1L456 981.9L454 979.8L452 979.9L450 979.8L448 980.5L446 980.4L444 982L442 984.4L440 985.7L438 987.6L436 989L434 990L432 993L430 995.3L428 999L426 1000L424 997.9L422 996.5L420 993.1L418 991.4L416 988L414 985.1L412 983.2L410 982.8L408 981.5L406 980.8L404 978.5L402 979L400 978.6L398 981.2L396 981.4L394 982.3L392 984.5L390 984.4L388 985.4L386 986.6L384 987.7L382 986.9L380 985.5L378 983.5L376 980.6L374 979.6L372 976.3L370 974.7L368 975.2L366 977.1L364 977.9L362 980L360 982.3L358 982.2L356 984.5L354 986.7L352 987.7L350 988.4L348 991.4L346 993.1L344 993.2L342 994.9L340 994.3L338 992.2L336 988.6L334 987.3L332 987.4L330 989L328 991L326 991.5L324 994L322 994.8L320 995.6L318 998.1L316 998.1L314 998.2L312 998L310 996.5L308 997.6L306 998.3L304 1000.8L302 1003.9L300 1006.5L298 1005.9L296 1007.4L294 1005.8L292 1006.9L290 1005.8L288 1006.2L286 1007.2L284 1006.1L282 1006.1L280 1006.6Z" fill="#f00" stroke="#f00" stroke-width="6.0" stroke-linejoin="round"/>
<path d="M280 938.3L282 938L284 938L286 937.5L288 939L290 938.8L292 940.7L294 942L296 943.4L298 942.7L300 943.9L302 944.4L304 942.1L306 939.2L308 937.5L310 934.9L312 932.4L314 929.1L316 926.5L318 925.4L320 924.1L322 923.6L324 923.7L326 922.9L328 921.8L330 921.9L332 921.3L334 920.3L336 920.2L338 921L340 922L342 924.9L344 925.4L346 927.6L348 928.7L350 928.8L352 929.5L354 928L356 926.5L358 925.4L360 923.4L362 922.5L364 922.7L366 920.3L368 919.9L370 918.6L372 918.2L374 918.1L376 919.9L378 921L380 922.4L382 923.9L384 925.2L386 927.3L388 927.9L390 927.1L392 927.4L394 926L396 926.6L398 925.5L400 925.8L402 924.5L404 922.1L406 921.7L408 920.1L410 918.4L412 917.4L414 917.1L416 917.2L418 918.4L420 918.9L422 920.3L424 920.7L426 921.9L428 923.3L430 924.5L432 925.3L434 926.6L436 927.2L438 927.6L440 928L442 930L444 930.5L446 930.1L448 931.2L450 931.1L452 931.6L454 932.6L456 931.8L458 931.4L460 931.5L462 931.2L464 930.5L466 930.7L468 929.5L470 929.3L472 927.5L474 927.6L476 927.1L478 925.9L480 925.1L482 924.6L484 924.8L486 925.6L488 926.7L490 927.6L492 929.5L494 929.3L496 928.5L498 928.1L500 925.8L502 924.8L504 924.6L506 924.3L508 925.3L510 925.6L512 925.2L514 926.7L516 926.6L518 926.7L520 926.6L522 925.7L524 923.1L526 919.2L528 917.8L530 914.6L532 914.5L534 913.7L536 912.7L538 912.9L540 913.6L542 912.4L544 913.4L546 914.7L548 915.5L550 915.6L552 919.7L554 922.6L556 926.5L558 928.4L560 928.4L562 927.3L564 926.8L566 926.5L568 926.6L570 925.6L572 923.3L574 922.2L576 920.8L578 920.6L580 919.5L582 918.1L584 917.7L586 917.8L588 918.7L590 918.5L592 919.9L594 922L596 923.1L598 924.3L600 924.3L602 925.6L604 924.8L606 923L608 921L610 921L612 918.6L614 919.2L616 918.1L618 917L620 916.2L622 916L624 915.2L626 915.7L628 915.3L630 916.5L632 915.9L634 915.5L636 916.6L638 914.7L640 915.6L642 913.9L644 913.8L646 913.7L648 912.5L650 912.3L652 912.6L654 913.3L656 915.2L658 915.1L660 913.7L662 913.9L664 912.9L666 911.6L668 911.6L670 910L672 909.4L674 908.6L676 906L678 901.4L680 898.9L682 897L684 895.9L686 895.3L688 894.6L690 893.6L692 894.6L694 896.6L696 897.2L698 899L700 898.3L702 898.1L704 897.6L706 898L708 897L710 895.8L712 897.5L714 898.1L716 897.9L718 898.5L720 900.1L722 899.9L724 898.5L726 898L728 895.8L730 895.9L732 894.3L734 893.6L736 893.2L738 893.6L740 895.1L742 895.1L744 895.7L746 895.7L748 897.3L750 900L752 900.4L754 901.2L756 903.2L758 905.4L760 907L762 907.1L764 908L766 906.9L766 923.3L764 924.6L762 923.3L760 924L758 924.1L756 922.6L754 924.1L752 923.2L750 922.8L748 922.2L746 920.7L744 920.5L742 920.1L740 919L738 919.5L736 922.3L734 925.2L732 927.8L730 929.7L728 933.6L726 935.5L724 936.9L722 939.5L720 941.3L718 941.9L716 942.4L714 940.8L712 940L710 937.5L708 935L706 932L704 929.1L702 929.5L700 929.8L698 930L696 929.3L694 930.9L692 930.4L690 930L688 928.3L686 928.3L684 929.3L682 931.4L680 934.1L678 935.3L676 937.2L674 939.3L672 941L670 942.9L668 943.3L666 943.7L664 942.8L662 941.9L660 940.2L658 939.8L656 938.4L654 940.5L652 941.7L650 945.3L648 948.1L646 951.2L644 951.9L642 953.5L640 954.4L638 954.9L636 953.3L634 951.6L632 950.3L630 948.3L628 946.8L626 942.3L624 940.7L622 941.6L620 940.5L618 941.3L616 943.4L614 942.8L612 942.6L610 943L608 944.9L606 943.7L604 944L602 945L600 944.6L598 945.5L596 944.1L594 944.1L592 942.9L590 944.6L588 945.4L586 946.6L584 947.2L582 948.8L580 947.9L578 948.2L576 946.5L574 947L572 946.5L570 947.5L568 948L566 948.4L564 949.3L562 949L560 950.6L558 951L556 951.1L554 952.5L552 954L550 954.8L548 953.8L546 954.3L544 952.3L542 952.2L540 951.4L538 948.8L536 949.2L534 947.8L532 947.6L530 947.7L528 947.3L526 948.2L524 947.4L522 948.1L520 947L518 947.7L516 946.7L514 947.9L512 949.7L510 952.8L508 953.1L506 955.5L504 956.6L502 959.1L500 959.6L498 960.3L496 962.2L494 961.7L492 962.9L490 961L488 960.8L486 959.9L484 959.2L482 959.1L480 957.8L478 956.4L476 956.1L474 955.8L472 955.2L470 955.7L468 956L466 954.5L464 953.8L462 954.8L460 954L458 953.5L456 955L454 957L452 956.5L450 958.2L448 958L446 958.5L444 958.6L442 957.8L440 958.1L438 958.4L436 958.6L434 958.5L432 957.6L430 957.1L428 957.1L426 955.4L424 955.7L422 953.6L420 952.9L418 952.7L416 951.8L414 951.2L412 950.4L410 949.2L408 949.2L406 947.3L404 947.5L402 946.4L400 947.5L398 948.3L396 948.8L394 948.4L392 948.3L390 949.1L388 948L386 947.8L384 946.5L382 945.7L380 945.3L378 943.8L376 943.6L374 943.2L372 942.5L370 940.8L368 941.5L366 944L364 944.7L362 946.9L360 947.1L358 949L356 950.9L354 952.4L352 954.3L350 954.4L348 956.1L346 956.1L344 955.8L342 957.4L340 957.1L338 956.5L336 955.2L334 953.7L332 950.4L330 949.5L328 951L326 952.8L324 954.5L322 955.2L320 957.4L318 959.9L316 962.1L314 962.9L312 965.9L310 966.9L308 969.1L306 969.5L304 971.3L302 973.2L300 972.4L298 973.7L296 971.2L294 971.2L292 969.3L290 969.3L288 967.7L286 966.7L284 968.1L282 966.7L280 967Z" fill="#00f" stroke="#00f" stroke-width="6.0" stroke-linejoin="round"/>
</g>
<rect x="286.5" y="871.3" width="473.4" height="182.4" fill="none" stroke="#8b6508" stroke-width="2.6"/>
<g stroke-width="7.6" stroke-linecap="round">
<line x1="949.2" y1="95.6" x2="1097.4" y2="95.6" stroke="#000"/>
<line x1="949.2" y1="177.2" x2="1097.4" y2="177.2" stroke="#f00"/>
<line x1="949.2" y1="258.3" x2="1097.4" y2="258.3" stroke="#00f"/>
</g>
<g font-size="66.5">
<text x="1115.1" y="117.6">Monitoring in Ga outer wall</text>
<text x="1115.1" y="199.2">Monitoring in Ga-Zn outer wall</text>
<text x="1115.1" y="280.6">Sensor for measurement</text>
</g>
</svg>
</body>
</html>
